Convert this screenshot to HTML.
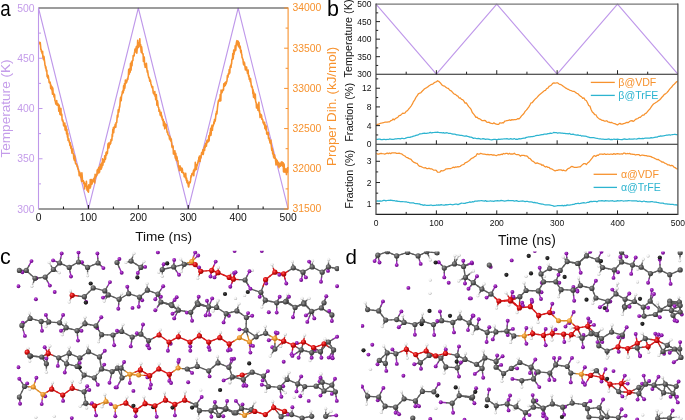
<!DOCTYPE html>
<html><head><meta charset="utf-8"><style>
html,body{margin:0;padding:0;background:#fff;}
svg{display:block;font-family:"Liberation Sans", sans-serif;will-change:transform;}
</style></head><body>
<svg width="685" height="420" viewBox="0 0 685 420">
<rect width="685" height="420" fill="#fff"/>
<defs>
<radialGradient id="gC" cx="0.38" cy="0.35" r="0.7"><stop offset="0" stop-color="#9a9a9a"/><stop offset="0.45" stop-color="#5e5e5e"/><stop offset="1" stop-color="#2e2e2e"/></radialGradient>
<radialGradient id="gR" cx="0.38" cy="0.35" r="0.7"><stop offset="0" stop-color="#ff6060"/><stop offset="0.45" stop-color="#dc1010"/><stop offset="1" stop-color="#8a0000"/></radialGradient>
<radialGradient id="gO" cx="0.38" cy="0.35" r="0.7"><stop offset="0" stop-color="#ffc870"/><stop offset="0.45" stop-color="#ee9a30"/><stop offset="1" stop-color="#b06a10"/></radialGradient>
<radialGradient id="gK" cx="0.38" cy="0.35" r="0.7"><stop offset="0" stop-color="#444"/><stop offset="1" stop-color="#000"/></radialGradient>
<radialGradient id="gF" cx="0.38" cy="0.35" r="0.7"><stop offset="0" stop-color="#c860e6"/><stop offset="0.45" stop-color="#941cb2"/><stop offset="1" stop-color="#5e0878"/></radialGradient>
<radialGradient id="gH" cx="0.38" cy="0.35" r="0.7"><stop offset="0" stop-color="#ffffff"/><stop offset="0.5" stop-color="#f0f0f0"/><stop offset="1" stop-color="#a8a8a8"/></radialGradient>
<clipPath id="clipC"><rect x="16.5" y="250.8" width="322.5" height="170"/></clipPath>
<clipPath id="clipD"><rect x="361" y="251.6" width="324" height="170"/></clipPath>
</defs>
<g clip-path="url(#clipC)">
<g stroke-width="1.4" stroke-linecap="round"><line x1="245.1" y1="280.0" x2="247.8" y2="284.4" stroke="#5c5c5c"/><line x1="247.8" y1="284.4" x2="250.4" y2="288.8" stroke="#9a2ab8"/><line x1="250.4" y1="288.8" x2="255.6" y2="290.6" stroke="#5c5c5c"/><line x1="255.6" y1="290.6" x2="260.9" y2="292.3" stroke="#5c5c5c"/><line x1="19.3" y1="270.4" x2="22.8" y2="270.4" stroke="#5c5c5c"/><line x1="22.8" y1="270.4" x2="26.3" y2="270.4" stroke="#5c5c5c"/><line x1="26.3" y1="270.4" x2="30.6" y2="274.4" stroke="#5c5c5c"/><line x1="30.6" y1="274.4" x2="35.0" y2="278.3" stroke="#5c5c5c"/><line x1="35.0" y1="278.3" x2="40.1" y2="277.7" stroke="#5c5c5c"/><line x1="40.1" y1="277.7" x2="45.2" y2="277.1" stroke="#5c5c5c"/><line x1="45.2" y1="277.1" x2="49.3" y2="273.3" stroke="#5c5c5c"/><line x1="49.3" y1="273.3" x2="53.4" y2="269.5" stroke="#5c5c5c"/><line x1="53.4" y1="269.5" x2="56.5" y2="266.2" stroke="#5c5c5c"/><line x1="56.5" y1="266.2" x2="59.6" y2="263.0" stroke="#5c5c5c"/><line x1="59.6" y1="263.0" x2="64.4" y2="265.2" stroke="#5c5c5c"/><line x1="64.4" y1="265.2" x2="69.2" y2="267.4" stroke="#5c5c5c"/><line x1="69.2" y1="267.4" x2="73.8" y2="264.7" stroke="#5c5c5c"/><line x1="73.8" y1="264.7" x2="78.5" y2="262.0" stroke="#5c5c5c"/><line x1="78.5" y1="262.0" x2="83.0" y2="264.7" stroke="#5c5c5c"/><line x1="83.0" y1="264.7" x2="87.6" y2="267.4" stroke="#5c5c5c"/><line x1="87.6" y1="267.4" x2="92.8" y2="265.2" stroke="#5c5c5c"/><line x1="92.8" y1="265.2" x2="98.1" y2="263.0" stroke="#5c5c5c"/><line x1="72.2" y1="295.3" x2="78.3" y2="296.0" stroke="#d81818"/><line x1="78.3" y1="296.0" x2="84.4" y2="296.7" stroke="#5c5c5c"/><line x1="84.4" y1="296.7" x2="88.8" y2="292.3" stroke="#5c5c5c"/><line x1="88.8" y1="292.3" x2="93.2" y2="287.9" stroke="#5c5c5c"/><line x1="93.2" y1="287.9" x2="99.0" y2="289.4" stroke="#5c5c5c"/><line x1="99.0" y1="289.4" x2="104.8" y2="290.9" stroke="#5c5c5c"/><line x1="104.8" y1="290.9" x2="106.5" y2="292.9" stroke="#5c5c5c"/><line x1="106.5" y1="292.9" x2="108.3" y2="294.9" stroke="#5c5c5c"/><line x1="108.3" y1="294.9" x2="113.7" y2="297.1" stroke="#5c5c5c"/><line x1="113.7" y1="297.1" x2="119.1" y2="299.3" stroke="#5c5c5c"/><line x1="119.1" y1="299.3" x2="123.9" y2="296.5" stroke="#5c5c5c"/><line x1="123.9" y1="296.5" x2="128.7" y2="293.7" stroke="#5c5c5c"/><line x1="131.1" y1="261.1" x2="136.0" y2="264.2" stroke="#5c5c5c"/><line x1="136.0" y1="264.2" x2="140.9" y2="267.4" stroke="#5c5c5c"/><line x1="162.3" y1="269.5" x2="168.0" y2="268.2" stroke="#5c5c5c"/><line x1="168.0" y1="268.2" x2="173.7" y2="266.9" stroke="#5c5c5c"/><line x1="173.7" y1="266.9" x2="178.9" y2="265.6" stroke="#5c5c5c"/><line x1="178.9" y1="265.6" x2="184.2" y2="264.3" stroke="#5c5c5c"/><line x1="184.2" y1="264.3" x2="187.9" y2="263.0" stroke="#5c5c5c"/><line x1="187.9" y1="263.0" x2="191.7" y2="261.6" stroke="#e0902a"/><line x1="184.2" y1="264.3" x2="189.7" y2="264.5" stroke="#5c5c5c"/><line x1="189.7" y1="264.5" x2="195.2" y2="264.6" stroke="#d81818"/><line x1="191.7" y1="261.6" x2="193.4" y2="263.1" stroke="#e0902a"/><line x1="193.4" y1="263.1" x2="195.2" y2="264.6" stroke="#d81818"/><line x1="195.2" y1="264.6" x2="198.0" y2="268.0" stroke="#d81818"/><line x1="198.0" y1="268.0" x2="200.8" y2="271.3" stroke="#d81818"/><line x1="200.8" y1="271.3" x2="206.2" y2="270.9" stroke="#d81818"/><line x1="206.2" y1="270.9" x2="211.7" y2="270.4" stroke="#d81818"/><line x1="211.7" y1="270.4" x2="214.8" y2="271.5" stroke="#d81818"/><line x1="214.8" y1="271.5" x2="218.0" y2="272.7" stroke="#d81818"/><line x1="218.0" y1="272.7" x2="223.6" y2="275.0" stroke="#d81818"/><line x1="223.6" y1="275.0" x2="229.2" y2="277.4" stroke="#d81818"/><line x1="229.2" y1="277.4" x2="231.3" y2="278.3" stroke="#d81818"/><line x1="231.3" y1="278.3" x2="233.4" y2="279.2" stroke="#d81818"/><line x1="233.4" y1="279.2" x2="239.2" y2="279.6" stroke="#d81818"/><line x1="239.2" y1="279.6" x2="245.1" y2="280.0" stroke="#5c5c5c"/><line x1="128.7" y1="293.7" x2="134.1" y2="295.4" stroke="#5c5c5c"/><line x1="134.1" y1="295.4" x2="139.5" y2="297.2" stroke="#5c5c5c"/><line x1="139.5" y1="297.2" x2="143.4" y2="293.7" stroke="#5c5c5c"/><line x1="143.4" y1="293.7" x2="147.4" y2="290.2" stroke="#5c5c5c"/><line x1="147.4" y1="290.2" x2="152.7" y2="292.1" stroke="#5c5c5c"/><line x1="152.7" y1="292.1" x2="157.9" y2="294.1" stroke="#5c5c5c"/><line x1="157.9" y1="294.1" x2="159.4" y2="298.1" stroke="#5c5c5c"/><line x1="159.4" y1="298.1" x2="160.9" y2="302.0" stroke="#5c5c5c"/><line x1="160.9" y1="302.0" x2="166.0" y2="303.3" stroke="#5c5c5c"/><line x1="166.0" y1="303.3" x2="171.1" y2="304.6" stroke="#5c5c5c"/><line x1="160.9" y1="302.0" x2="166.4" y2="303.8" stroke="#5c5c5c"/><line x1="166.4" y1="303.8" x2="171.9" y2="305.6" stroke="#5c5c5c"/><line x1="171.1" y1="304.6" x2="174.8" y2="307.4" stroke="#5c5c5c"/><line x1="174.8" y1="307.4" x2="178.4" y2="310.2" stroke="#5c5c5c"/><line x1="197.3" y1="302.8" x2="194.0" y2="307.6" stroke="#5c5c5c"/><line x1="194.0" y1="307.6" x2="190.7" y2="312.3" stroke="#5c5c5c"/><line x1="197.3" y1="302.8" x2="203.0" y2="304.9" stroke="#5c5c5c"/><line x1="203.0" y1="304.9" x2="208.7" y2="307.0" stroke="#5c5c5c"/><line x1="260.9" y1="292.3" x2="263.2" y2="286.0" stroke="#5c5c5c"/><line x1="263.2" y1="286.0" x2="265.6" y2="279.7" stroke="#d81818"/><line x1="260.9" y1="292.3" x2="263.1" y2="296.2" stroke="#5c5c5c"/><line x1="263.1" y1="296.2" x2="265.3" y2="300.2" stroke="#5c5c5c"/><line x1="265.6" y1="279.7" x2="270.2" y2="275.9" stroke="#d81818"/><line x1="270.2" y1="275.9" x2="274.9" y2="272.2" stroke="#d81818"/><line x1="274.9" y1="272.2" x2="279.3" y2="273.0" stroke="#d81818"/><line x1="279.3" y1="273.0" x2="283.7" y2="273.9" stroke="#d81818"/><line x1="283.7" y1="273.9" x2="288.5" y2="270.9" stroke="#d81818"/><line x1="288.5" y1="270.9" x2="293.3" y2="267.8" stroke="#5c5c5c"/><line x1="293.3" y1="267.8" x2="298.1" y2="270.0" stroke="#5c5c5c"/><line x1="298.1" y1="270.0" x2="303.0" y2="272.2" stroke="#5c5c5c"/><line x1="303.0" y1="272.2" x2="307.6" y2="269.5" stroke="#5c5c5c"/><line x1="307.6" y1="269.5" x2="312.2" y2="266.9" stroke="#5c5c5c"/><line x1="312.2" y1="266.9" x2="317.2" y2="269.5" stroke="#5c5c5c"/><line x1="317.2" y1="269.5" x2="322.2" y2="272.2" stroke="#5c5c5c"/><line x1="322.2" y1="272.2" x2="325.3" y2="269.5" stroke="#5c5c5c"/><line x1="325.3" y1="269.5" x2="328.4" y2="266.9" stroke="#5c5c5c"/><line x1="328.4" y1="266.9" x2="332.8" y2="267.8" stroke="#5c5c5c"/><line x1="332.8" y1="267.8" x2="337.1" y2="268.6" stroke="#5c5c5c"/><line x1="265.3" y1="300.2" x2="271.0" y2="301.5" stroke="#5c5c5c"/><line x1="271.0" y1="301.5" x2="276.7" y2="302.8" stroke="#5c5c5c"/><line x1="276.7" y1="302.8" x2="281.5" y2="302.0" stroke="#5c5c5c"/><line x1="281.5" y1="302.0" x2="286.3" y2="301.1" stroke="#5c5c5c"/><line x1="276.7" y1="302.8" x2="281.0" y2="302.3" stroke="#5c5c5c"/><line x1="281.0" y1="302.3" x2="285.4" y2="301.8" stroke="#5c5c5c"/><line x1="286.3" y1="301.1" x2="290.7" y2="304.2" stroke="#5c5c5c"/><line x1="290.7" y1="304.2" x2="295.1" y2="307.4" stroke="#5c5c5c"/><line x1="303.8" y1="302.8" x2="299.5" y2="305.1" stroke="#5c5c5c"/><line x1="299.5" y1="305.1" x2="295.1" y2="307.4" stroke="#5c5c5c"/><line x1="303.8" y1="302.8" x2="307.8" y2="307.1" stroke="#5c5c5c"/><line x1="307.8" y1="307.1" x2="311.7" y2="311.4" stroke="#5c5c5c"/><line x1="324.0" y1="302.8" x2="322.7" y2="305.4" stroke="#5c5c5c"/><line x1="322.7" y1="305.4" x2="321.4" y2="307.9" stroke="#5c5c5c"/><line x1="21.9" y1="325.4" x2="26.0" y2="321.9" stroke="#5c5c5c"/><line x1="26.0" y1="321.9" x2="30.1" y2="318.4" stroke="#5c5c5c"/><line x1="30.1" y1="318.4" x2="35.7" y2="319.9" stroke="#5c5c5c"/><line x1="35.7" y1="319.9" x2="41.2" y2="321.4" stroke="#5c5c5c"/><line x1="41.2" y1="321.4" x2="45.0" y2="321.6" stroke="#5c5c5c"/><line x1="45.0" y1="321.6" x2="48.7" y2="321.9" stroke="#5c5c5c"/><line x1="48.7" y1="321.9" x2="54.2" y2="322.4" stroke="#5c5c5c"/><line x1="54.2" y1="322.4" x2="59.6" y2="322.8" stroke="#5c5c5c"/><line x1="59.6" y1="322.8" x2="62.9" y2="325.2" stroke="#5c5c5c"/><line x1="62.9" y1="325.2" x2="66.2" y2="327.7" stroke="#5c5c5c"/><line x1="66.2" y1="327.7" x2="71.7" y2="329.2" stroke="#5c5c5c"/><line x1="71.7" y1="329.2" x2="77.1" y2="330.7" stroke="#5c5c5c"/><line x1="77.1" y1="330.7" x2="81.0" y2="327.2" stroke="#5c5c5c"/><line x1="81.0" y1="327.2" x2="85.0" y2="323.7" stroke="#5c5c5c"/><line x1="85.0" y1="323.7" x2="90.5" y2="324.8" stroke="#5c5c5c"/><line x1="90.5" y1="324.8" x2="96.0" y2="325.9" stroke="#5c5c5c"/><line x1="96.0" y1="325.9" x2="98.8" y2="330.3" stroke="#5c5c5c"/><line x1="98.8" y1="330.3" x2="101.6" y2="334.7" stroke="#5c5c5c"/><line x1="101.6" y1="334.7" x2="107.3" y2="334.9" stroke="#5c5c5c"/><line x1="107.3" y1="334.9" x2="113.0" y2="335.0" stroke="#5c5c5c"/><line x1="113.0" y1="335.0" x2="117.3" y2="333.2" stroke="#5c5c5c"/><line x1="117.3" y1="333.2" x2="121.7" y2="331.5" stroke="#5c5c5c"/><line x1="27.2" y1="352.2" x2="28.9" y2="354.1" stroke="#d81818"/><line x1="28.9" y1="354.1" x2="30.7" y2="356.0" stroke="#5c5c5c"/><line x1="27.2" y1="352.2" x2="28.5" y2="354.0" stroke="#d81818"/><line x1="28.5" y1="354.0" x2="29.8" y2="355.9" stroke="#5c5c5c"/><line x1="30.7" y1="356.0" x2="36.2" y2="356.5" stroke="#5c5c5c"/><line x1="36.2" y1="356.5" x2="41.7" y2="357.0" stroke="#5c5c5c"/><line x1="41.7" y1="357.0" x2="45.0" y2="355.2" stroke="#5c5c5c"/><line x1="45.0" y1="355.2" x2="48.2" y2="353.4" stroke="#d81818"/><line x1="41.7" y1="357.0" x2="35.8" y2="356.4" stroke="#5c5c5c"/><line x1="35.8" y1="356.4" x2="29.8" y2="355.9" stroke="#5c5c5c"/><line x1="41.7" y1="357.0" x2="44.0" y2="360.4" stroke="#5c5c5c"/><line x1="44.0" y1="360.4" x2="46.4" y2="363.8" stroke="#5c5c5c"/><line x1="48.2" y1="353.4" x2="53.5" y2="355.6" stroke="#d81818"/><line x1="53.5" y1="355.6" x2="58.7" y2="357.8" stroke="#5c5c5c"/><line x1="48.2" y1="353.4" x2="47.3" y2="358.6" stroke="#d81818"/><line x1="47.3" y1="358.6" x2="46.4" y2="363.8" stroke="#5c5c5c"/><line x1="58.7" y1="357.8" x2="64.0" y2="355.6" stroke="#5c5c5c"/><line x1="64.0" y1="355.6" x2="69.2" y2="353.4" stroke="#5c5c5c"/><line x1="58.7" y1="357.8" x2="62.6" y2="360.8" stroke="#5c5c5c"/><line x1="62.6" y1="360.8" x2="66.6" y2="363.8" stroke="#5c5c5c"/><line x1="69.2" y1="353.4" x2="74.5" y2="355.6" stroke="#5c5c5c"/><line x1="74.5" y1="355.6" x2="79.7" y2="357.8" stroke="#5c5c5c"/><line x1="69.2" y1="353.4" x2="67.9" y2="358.6" stroke="#5c5c5c"/><line x1="67.9" y1="358.6" x2="66.6" y2="363.8" stroke="#5c5c5c"/><line x1="79.7" y1="357.8" x2="84.1" y2="354.8" stroke="#5c5c5c"/><line x1="84.1" y1="354.8" x2="88.5" y2="351.7" stroke="#5c5c5c"/><line x1="79.7" y1="357.8" x2="78.4" y2="362.1" stroke="#5c5c5c"/><line x1="78.4" y1="362.1" x2="77.1" y2="366.4" stroke="#5c5c5c"/><line x1="88.5" y1="351.7" x2="94.0" y2="354.3" stroke="#5c5c5c"/><line x1="94.0" y1="354.3" x2="99.5" y2="356.9" stroke="#5c5c5c"/><line x1="99.5" y1="356.9" x2="100.5" y2="362.9" stroke="#5c5c5c"/><line x1="100.5" y1="362.9" x2="101.6" y2="369.0" stroke="#5c5c5c"/><line x1="171.9" y1="305.6" x2="175.2" y2="307.9" stroke="#5c5c5c"/><line x1="175.2" y1="307.9" x2="178.4" y2="310.2" stroke="#5c5c5c"/><line x1="178.4" y1="310.2" x2="184.6" y2="311.2" stroke="#5c5c5c"/><line x1="184.6" y1="311.2" x2="190.7" y2="312.3" stroke="#5c5c5c"/><line x1="190.7" y1="312.3" x2="194.4" y2="308.4" stroke="#5c5c5c"/><line x1="194.4" y1="308.4" x2="198.2" y2="304.4" stroke="#5c5c5c"/><line x1="198.2" y1="304.4" x2="203.4" y2="305.7" stroke="#5c5c5c"/><line x1="203.4" y1="305.7" x2="208.7" y2="307.0" stroke="#5c5c5c"/><line x1="208.7" y1="307.0" x2="212.6" y2="307.2" stroke="#5c5c5c"/><line x1="212.6" y1="307.2" x2="216.6" y2="307.4" stroke="#5c5c5c"/><line x1="216.6" y1="307.4" x2="221.4" y2="310.5" stroke="#5c5c5c"/><line x1="221.4" y1="310.5" x2="226.2" y2="313.7" stroke="#5c5c5c"/><line x1="226.2" y1="313.7" x2="231.6" y2="312.3" stroke="#5c5c5c"/><line x1="231.6" y1="312.3" x2="236.9" y2="310.9" stroke="#5c5c5c"/><line x1="121.7" y1="331.5" x2="126.9" y2="334.3" stroke="#5c5c5c"/><line x1="126.9" y1="334.3" x2="132.2" y2="337.1" stroke="#5c5c5c"/><line x1="132.2" y1="337.1" x2="136.6" y2="335.6" stroke="#5c5c5c"/><line x1="136.6" y1="335.6" x2="140.9" y2="334.2" stroke="#5c5c5c"/><line x1="140.9" y1="334.2" x2="144.8" y2="337.4" stroke="#5c5c5c"/><line x1="144.8" y1="337.4" x2="148.6" y2="340.6" stroke="#5c5c5c"/><line x1="148.6" y1="340.6" x2="153.8" y2="337.8" stroke="#5c5c5c"/><line x1="153.8" y1="337.8" x2="159.1" y2="335.0" stroke="#d81818"/><line x1="159.1" y1="335.0" x2="164.1" y2="338.5" stroke="#d81818"/><line x1="164.1" y1="338.5" x2="169.0" y2="342.0" stroke="#d81818"/><line x1="169.0" y1="342.0" x2="173.7" y2="339.4" stroke="#d81818"/><line x1="173.7" y1="339.4" x2="178.4" y2="336.8" stroke="#d81818"/><line x1="178.4" y1="336.8" x2="184.2" y2="339.4" stroke="#d81818"/><line x1="184.2" y1="339.4" x2="190.0" y2="342.0" stroke="#d81818"/><line x1="190.0" y1="342.0" x2="194.7" y2="338.9" stroke="#d81818"/><line x1="194.7" y1="338.9" x2="199.4" y2="335.9" stroke="#d81818"/><line x1="199.4" y1="335.9" x2="204.1" y2="338.9" stroke="#d81818"/><line x1="204.1" y1="338.9" x2="208.7" y2="342.0" stroke="#d81818"/><line x1="208.7" y1="342.0" x2="214.2" y2="339.9" stroke="#d81818"/><line x1="214.2" y1="339.9" x2="219.8" y2="337.7" stroke="#d81818"/><line x1="219.8" y1="337.7" x2="224.5" y2="340.8" stroke="#d81818"/><line x1="224.5" y1="340.8" x2="229.2" y2="343.8" stroke="#d81818"/><line x1="229.2" y1="343.8" x2="234.3" y2="340.8" stroke="#d81818"/><line x1="234.3" y1="340.8" x2="239.4" y2="337.7" stroke="#e0902a"/><line x1="285.4" y1="301.8" x2="290.2" y2="304.6" stroke="#5c5c5c"/><line x1="290.2" y1="304.6" x2="295.1" y2="307.4" stroke="#5c5c5c"/><line x1="295.1" y1="307.4" x2="299.5" y2="305.6" stroke="#5c5c5c"/><line x1="299.5" y1="305.6" x2="303.8" y2="303.9" stroke="#5c5c5c"/><line x1="303.8" y1="303.9" x2="307.8" y2="307.6" stroke="#5c5c5c"/><line x1="307.8" y1="307.6" x2="311.7" y2="311.4" stroke="#5c5c5c"/><line x1="311.7" y1="311.4" x2="316.5" y2="309.6" stroke="#5c5c5c"/><line x1="316.5" y1="309.6" x2="321.4" y2="307.9" stroke="#5c5c5c"/><line x1="321.4" y1="307.9" x2="326.6" y2="311.4" stroke="#5c5c5c"/><line x1="326.6" y1="311.4" x2="331.9" y2="314.9" stroke="#5c5c5c"/><line x1="236.9" y1="310.9" x2="241.7" y2="314.2" stroke="#5c5c5c"/><line x1="241.7" y1="314.2" x2="246.4" y2="317.5" stroke="#5c5c5c"/><line x1="246.4" y1="317.5" x2="246.2" y2="323.8" stroke="#5c5c5c"/><line x1="246.2" y1="323.8" x2="246.0" y2="330.1" stroke="#5c5c5c"/><line x1="246.0" y1="330.1" x2="242.7" y2="333.9" stroke="#5c5c5c"/><line x1="242.7" y1="333.9" x2="239.4" y2="337.7" stroke="#e0902a"/><line x1="246.0" y1="330.1" x2="247.8" y2="336.1" stroke="#5c5c5c"/><line x1="247.8" y1="336.1" x2="249.5" y2="342.0" stroke="#e0902a"/><line x1="246.0" y1="330.1" x2="251.1" y2="333.5" stroke="#5c5c5c"/><line x1="251.1" y1="333.5" x2="256.2" y2="336.8" stroke="#5c5c5c"/><line x1="239.4" y1="337.7" x2="244.4" y2="339.9" stroke="#e0902a"/><line x1="244.4" y1="339.9" x2="249.5" y2="342.0" stroke="#e0902a"/><line x1="249.5" y1="342.0" x2="252.8" y2="339.4" stroke="#e0902a"/><line x1="252.8" y1="339.4" x2="256.2" y2="336.8" stroke="#5c5c5c"/><line x1="256.2" y1="336.8" x2="260.9" y2="335.1" stroke="#5c5c5c"/><line x1="260.9" y1="335.1" x2="265.6" y2="333.3" stroke="#5c5c5c"/><line x1="265.6" y1="333.3" x2="270.2" y2="335.9" stroke="#5c5c5c"/><line x1="270.2" y1="335.9" x2="274.9" y2="338.5" stroke="#e0902a"/><line x1="274.9" y1="338.5" x2="279.3" y2="339.9" stroke="#e0902a"/><line x1="279.3" y1="339.9" x2="283.7" y2="341.2" stroke="#d81818"/><line x1="274.9" y1="338.5" x2="274.9" y2="343.8" stroke="#e0902a"/><line x1="274.9" y1="343.8" x2="274.9" y2="349.1" stroke="#5c5c5c"/><line x1="283.7" y1="341.2" x2="279.3" y2="345.1" stroke="#d81818"/><line x1="279.3" y1="345.1" x2="274.9" y2="349.1" stroke="#5c5c5c"/><line x1="283.7" y1="341.2" x2="288.5" y2="343.2" stroke="#d81818"/><line x1="288.5" y1="343.2" x2="293.3" y2="345.2" stroke="#d81818"/><line x1="293.3" y1="345.2" x2="298.4" y2="343.6" stroke="#d81818"/><line x1="298.4" y1="343.6" x2="303.5" y2="342.0" stroke="#d81818"/><line x1="293.3" y1="345.2" x2="297.2" y2="347.5" stroke="#d81818"/><line x1="297.2" y1="347.5" x2="301.2" y2="349.9" stroke="#5c5c5c"/><line x1="303.5" y1="342.0" x2="302.4" y2="345.9" stroke="#d81818"/><line x1="302.4" y1="345.9" x2="301.2" y2="349.9" stroke="#5c5c5c"/><line x1="303.5" y1="342.0" x2="308.5" y2="344.9" stroke="#d81818"/><line x1="308.5" y1="344.9" x2="313.5" y2="347.7" stroke="#d81818"/><line x1="301.2" y1="349.9" x2="306.4" y2="351.2" stroke="#5c5c5c"/><line x1="306.4" y1="351.2" x2="311.7" y2="352.6" stroke="#5c5c5c"/><line x1="313.5" y1="347.7" x2="318.8" y2="345.8" stroke="#d81818"/><line x1="318.8" y1="345.8" x2="324.0" y2="343.8" stroke="#d81818"/><line x1="313.5" y1="347.7" x2="317.0" y2="349.7" stroke="#d81818"/><line x1="317.0" y1="349.7" x2="320.5" y2="351.7" stroke="#5c5c5c"/><line x1="313.5" y1="347.7" x2="312.6" y2="350.1" stroke="#d81818"/><line x1="312.6" y1="350.1" x2="311.7" y2="352.6" stroke="#5c5c5c"/><line x1="324.0" y1="343.8" x2="326.2" y2="342.9" stroke="#d81818"/><line x1="326.2" y1="342.9" x2="328.4" y2="342.0" stroke="#5c5c5c"/><line x1="324.0" y1="343.8" x2="328.8" y2="346.9" stroke="#d81818"/><line x1="328.8" y1="346.9" x2="333.6" y2="349.9" stroke="#5c5c5c"/><line x1="324.0" y1="343.8" x2="322.2" y2="347.8" stroke="#d81818"/><line x1="322.2" y1="347.8" x2="320.5" y2="351.7" stroke="#5c5c5c"/><line x1="328.4" y1="342.0" x2="331.0" y2="345.9" stroke="#5c5c5c"/><line x1="331.0" y1="345.9" x2="333.6" y2="349.9" stroke="#5c5c5c"/><line x1="328.4" y1="342.0" x2="324.4" y2="346.9" stroke="#5c5c5c"/><line x1="324.4" y1="346.9" x2="320.5" y2="351.7" stroke="#5c5c5c"/><line x1="320.5" y1="351.7" x2="316.1" y2="352.1" stroke="#5c5c5c"/><line x1="316.1" y1="352.1" x2="311.7" y2="352.6" stroke="#5c5c5c"/><line x1="66.6" y1="363.8" x2="71.8" y2="365.1" stroke="#5c5c5c"/><line x1="71.8" y1="365.1" x2="77.1" y2="366.4" stroke="#5c5c5c"/><line x1="77.1" y1="366.4" x2="80.6" y2="370.8" stroke="#5c5c5c"/><line x1="80.6" y1="370.8" x2="84.1" y2="375.1" stroke="#5c5c5c"/><line x1="84.1" y1="375.1" x2="89.2" y2="376.5" stroke="#5c5c5c"/><line x1="89.2" y1="376.5" x2="94.3" y2="377.8" stroke="#5c5c5c"/><line x1="94.3" y1="377.8" x2="97.9" y2="373.4" stroke="#5c5c5c"/><line x1="97.9" y1="373.4" x2="101.6" y2="369.0" stroke="#5c5c5c"/><line x1="101.6" y1="369.0" x2="106.8" y2="370.3" stroke="#5c5c5c"/><line x1="106.8" y1="370.3" x2="112.1" y2="371.6" stroke="#5c5c5c"/><line x1="112.1" y1="371.6" x2="114.8" y2="369.9" stroke="#5c5c5c"/><line x1="114.8" y1="369.9" x2="117.4" y2="368.1" stroke="#5c5c5c"/><line x1="112.1" y1="371.6" x2="116.6" y2="369.9" stroke="#5c5c5c"/><line x1="116.6" y1="369.9" x2="121.1" y2="368.1" stroke="#5c5c5c"/><line x1="117.4" y1="368.1" x2="119.7" y2="373.0" stroke="#5c5c5c"/><line x1="119.7" y1="373.0" x2="122.0" y2="377.8" stroke="#5c5c5c"/><line x1="24.5" y1="386.5" x2="28.9" y2="386.8" stroke="#5c5c5c"/><line x1="28.9" y1="386.8" x2="33.3" y2="387.1" stroke="#e0902a"/><line x1="24.5" y1="386.5" x2="21.9" y2="391.8" stroke="#5c5c5c"/><line x1="21.9" y1="391.8" x2="19.3" y2="397.0" stroke="#5c5c5c"/><line x1="33.3" y1="387.1" x2="38.1" y2="390.8" stroke="#e0902a"/><line x1="38.1" y1="390.8" x2="42.9" y2="394.4" stroke="#e0902a"/><line x1="42.9" y1="394.4" x2="47.3" y2="391.8" stroke="#e0902a"/><line x1="47.3" y1="391.8" x2="51.7" y2="389.2" stroke="#d81818"/><line x1="51.7" y1="389.2" x2="57.2" y2="392.1" stroke="#d81818"/><line x1="57.2" y1="392.1" x2="62.7" y2="395.0" stroke="#d81818"/><line x1="62.7" y1="395.0" x2="67.5" y2="391.6" stroke="#d81818"/><line x1="67.5" y1="391.6" x2="72.2" y2="388.3" stroke="#d81818"/><line x1="72.2" y1="388.3" x2="78.2" y2="390.1" stroke="#d81818"/><line x1="78.2" y1="390.1" x2="84.1" y2="391.8" stroke="#5c5c5c"/><line x1="84.1" y1="391.8" x2="84.9" y2="397.5" stroke="#5c5c5c"/><line x1="84.9" y1="397.5" x2="85.8" y2="403.2" stroke="#5c5c5c"/><line x1="85.8" y1="403.2" x2="90.2" y2="404.5" stroke="#5c5c5c"/><line x1="90.2" y1="404.5" x2="94.6" y2="405.8" stroke="#d81818"/><line x1="94.6" y1="405.8" x2="100.3" y2="403.6" stroke="#d81818"/><line x1="100.3" y1="403.6" x2="106.0" y2="401.4" stroke="#e0902a"/><line x1="106.0" y1="401.4" x2="110.7" y2="404.0" stroke="#e0902a"/><line x1="110.7" y1="404.0" x2="115.3" y2="406.7" stroke="#e0902a"/><line x1="115.3" y1="406.7" x2="120.6" y2="404.9" stroke="#e0902a"/><line x1="120.6" y1="404.9" x2="125.9" y2="403.2" stroke="#d81818"/><line x1="121.1" y1="368.1" x2="121.5" y2="373.0" stroke="#5c5c5c"/><line x1="121.5" y1="373.0" x2="122.0" y2="377.8" stroke="#5c5c5c"/><line x1="121.1" y1="368.1" x2="125.5" y2="371.2" stroke="#5c5c5c"/><line x1="125.5" y1="371.2" x2="129.9" y2="374.3" stroke="#e0902a"/><line x1="122.0" y1="377.8" x2="126.0" y2="376.1" stroke="#5c5c5c"/><line x1="126.0" y1="376.1" x2="129.9" y2="374.3" stroke="#e0902a"/><line x1="129.9" y1="374.3" x2="134.3" y2="374.7" stroke="#e0902a"/><line x1="134.3" y1="374.7" x2="138.7" y2="375.1" stroke="#e0902a"/><line x1="129.9" y1="374.3" x2="135.2" y2="372.1" stroke="#e0902a"/><line x1="135.2" y1="372.1" x2="140.4" y2="369.9" stroke="#d81818"/><line x1="138.7" y1="375.1" x2="139.6" y2="372.5" stroke="#e0902a"/><line x1="139.6" y1="372.5" x2="140.4" y2="369.9" stroke="#d81818"/><line x1="138.7" y1="375.1" x2="144.2" y2="375.4" stroke="#e0902a"/><line x1="144.2" y1="375.4" x2="149.7" y2="375.7" stroke="#d81818"/><line x1="140.4" y1="369.9" x2="145.1" y2="372.8" stroke="#d81818"/><line x1="145.1" y1="372.8" x2="149.7" y2="375.7" stroke="#d81818"/><line x1="149.7" y1="375.7" x2="154.2" y2="372.4" stroke="#d81818"/><line x1="154.2" y1="372.4" x2="158.8" y2="369.0" stroke="#d81818"/><line x1="158.8" y1="369.0" x2="164.1" y2="371.6" stroke="#d81818"/><line x1="164.1" y1="371.6" x2="169.3" y2="374.3" stroke="#d81818"/><line x1="169.3" y1="374.3" x2="173.7" y2="371.2" stroke="#d81818"/><line x1="173.7" y1="371.2" x2="178.1" y2="368.1" stroke="#e0902a"/><line x1="178.1" y1="368.1" x2="182.6" y2="368.6" stroke="#e0902a"/><line x1="182.6" y1="368.6" x2="187.2" y2="369.0" stroke="#5c5c5c"/><line x1="187.2" y1="369.0" x2="192.2" y2="367.7" stroke="#5c5c5c"/><line x1="192.2" y1="367.7" x2="197.3" y2="366.4" stroke="#5c5c5c"/><line x1="197.3" y1="366.4" x2="203.0" y2="368.6" stroke="#5c5c5c"/><line x1="203.0" y1="368.6" x2="208.7" y2="370.8" stroke="#5c5c5c"/><line x1="208.7" y1="370.8" x2="213.3" y2="366.9" stroke="#5c5c5c"/><line x1="213.3" y1="366.9" x2="218.0" y2="362.9" stroke="#5c5c5c"/><line x1="218.0" y1="362.9" x2="223.4" y2="365.1" stroke="#5c5c5c"/><line x1="223.4" y1="365.1" x2="228.9" y2="367.3" stroke="#5c5c5c"/><line x1="228.9" y1="367.3" x2="230.7" y2="372.1" stroke="#5c5c5c"/><line x1="230.7" y1="372.1" x2="232.4" y2="376.9" stroke="#5c5c5c"/><line x1="232.4" y1="376.9" x2="237.3" y2="376.0" stroke="#5c5c5c"/><line x1="237.3" y1="376.0" x2="242.2" y2="375.1" stroke="#d81818"/><line x1="232.4" y1="376.9" x2="237.9" y2="378.2" stroke="#5c5c5c"/><line x1="237.9" y1="378.2" x2="243.4" y2="379.5" stroke="#5c5c5c"/><line x1="125.9" y1="403.2" x2="130.8" y2="406.7" stroke="#d81818"/><line x1="130.8" y1="406.7" x2="135.7" y2="410.2" stroke="#d81818"/><line x1="135.7" y1="410.2" x2="140.4" y2="406.9" stroke="#d81818"/><line x1="140.4" y1="406.9" x2="145.1" y2="403.7" stroke="#d81818"/><line x1="145.1" y1="403.7" x2="150.1" y2="404.8" stroke="#d81818"/><line x1="150.1" y1="404.8" x2="155.0" y2="405.8" stroke="#d81818"/><line x1="155.0" y1="405.8" x2="160.2" y2="403.0" stroke="#d81818"/><line x1="160.2" y1="403.0" x2="165.5" y2="400.2" stroke="#d81818"/><line x1="165.5" y1="400.2" x2="170.2" y2="402.3" stroke="#d81818"/><line x1="170.2" y1="402.3" x2="174.9" y2="404.4" stroke="#d81818"/><line x1="174.9" y1="404.4" x2="179.8" y2="402.3" stroke="#d81818"/><line x1="179.8" y1="402.3" x2="184.7" y2="400.2" stroke="#d81818"/><line x1="184.7" y1="400.2" x2="190.3" y2="402.5" stroke="#d81818"/><line x1="190.3" y1="402.5" x2="195.9" y2="404.9" stroke="#5c5c5c"/><line x1="195.9" y1="404.9" x2="197.7" y2="407.8" stroke="#5c5c5c"/><line x1="197.7" y1="407.8" x2="199.4" y2="410.7" stroke="#5c5c5c"/><line x1="199.4" y1="410.7" x2="205.2" y2="410.7" stroke="#5c5c5c"/><line x1="205.2" y1="410.7" x2="211.0" y2="410.7" stroke="#5c5c5c"/><line x1="211.0" y1="410.7" x2="213.1" y2="408.9" stroke="#5c5c5c"/><line x1="213.1" y1="408.9" x2="215.2" y2="407.2" stroke="#5c5c5c"/><line x1="211.0" y1="410.7" x2="214.8" y2="413.0" stroke="#5c5c5c"/><line x1="214.8" y1="413.0" x2="218.7" y2="415.4" stroke="#5c5c5c"/><line x1="215.2" y1="407.2" x2="216.9" y2="411.3" stroke="#5c5c5c"/><line x1="216.9" y1="411.3" x2="218.7" y2="415.4" stroke="#5c5c5c"/><line x1="215.2" y1="407.2" x2="220.3" y2="408.2" stroke="#5c5c5c"/><line x1="220.3" y1="408.2" x2="225.4" y2="409.3" stroke="#5c5c5c"/><line x1="215.2" y1="407.2" x2="220.6" y2="407.8" stroke="#5c5c5c"/><line x1="220.6" y1="407.8" x2="225.9" y2="408.4" stroke="#5c5c5c"/><line x1="218.7" y1="415.4" x2="222.1" y2="412.4" stroke="#5c5c5c"/><line x1="222.1" y1="412.4" x2="225.4" y2="409.3" stroke="#5c5c5c"/><line x1="218.7" y1="415.4" x2="222.3" y2="411.9" stroke="#5c5c5c"/><line x1="222.3" y1="411.9" x2="225.9" y2="408.4" stroke="#5c5c5c"/><line x1="225.4" y1="409.3" x2="229.8" y2="411.1" stroke="#5c5c5c"/><line x1="229.8" y1="411.1" x2="234.1" y2="412.8" stroke="#5c5c5c"/><line x1="234.1" y1="412.8" x2="230.0" y2="410.6" stroke="#5c5c5c"/><line x1="230.0" y1="410.6" x2="225.9" y2="408.4" stroke="#5c5c5c"/><line x1="234.1" y1="412.8" x2="237.8" y2="410.6" stroke="#5c5c5c"/><line x1="237.8" y1="410.6" x2="241.6" y2="408.4" stroke="#5c5c5c"/><line x1="242.2" y1="375.1" x2="242.8" y2="377.3" stroke="#d81818"/><line x1="242.8" y1="377.3" x2="243.4" y2="379.5" stroke="#5c5c5c"/><line x1="242.2" y1="375.1" x2="247.2" y2="373.6" stroke="#d81818"/><line x1="247.2" y1="373.6" x2="252.2" y2="372.2" stroke="#5c5c5c"/><line x1="243.4" y1="379.5" x2="247.8" y2="375.9" stroke="#5c5c5c"/><line x1="247.8" y1="375.9" x2="252.2" y2="372.2" stroke="#5c5c5c"/><line x1="252.2" y1="372.2" x2="257.9" y2="374.1" stroke="#5c5c5c"/><line x1="257.9" y1="374.1" x2="263.5" y2="376.0" stroke="#5c5c5c"/><line x1="263.5" y1="376.0" x2="265.9" y2="381.2" stroke="#5c5c5c"/><line x1="265.9" y1="381.2" x2="268.4" y2="386.5" stroke="#5c5c5c"/><line x1="268.4" y1="386.5" x2="274.0" y2="386.9" stroke="#5c5c5c"/><line x1="274.0" y1="386.9" x2="279.7" y2="387.4" stroke="#5c5c5c"/><line x1="279.7" y1="387.4" x2="283.4" y2="383.4" stroke="#5c5c5c"/><line x1="283.4" y1="383.4" x2="287.2" y2="379.5" stroke="#5c5c5c"/><line x1="287.2" y1="379.5" x2="292.4" y2="381.7" stroke="#5c5c5c"/><line x1="292.4" y1="381.7" x2="297.7" y2="383.9" stroke="#5c5c5c"/><line x1="297.7" y1="383.9" x2="301.2" y2="385.2" stroke="#5c5c5c"/><line x1="301.2" y1="385.2" x2="304.7" y2="386.5" stroke="#5c5c5c"/><line x1="304.7" y1="386.5" x2="310.4" y2="386.4" stroke="#5c5c5c"/><line x1="310.4" y1="386.4" x2="316.1" y2="386.2" stroke="#5c5c5c"/><line x1="316.1" y1="386.2" x2="319.1" y2="384.2" stroke="#5c5c5c"/><line x1="319.1" y1="384.2" x2="322.2" y2="382.2" stroke="#5c5c5c"/><line x1="316.1" y1="386.2" x2="320.1" y2="388.5" stroke="#5c5c5c"/><line x1="320.1" y1="388.5" x2="324.0" y2="390.9" stroke="#5c5c5c"/><line x1="322.2" y1="382.2" x2="323.1" y2="386.5" stroke="#5c5c5c"/><line x1="323.1" y1="386.5" x2="324.0" y2="390.9" stroke="#5c5c5c"/><line x1="322.2" y1="382.2" x2="327.0" y2="383.6" stroke="#5c5c5c"/><line x1="327.0" y1="383.6" x2="331.9" y2="385.1" stroke="#5c5c5c"/><line x1="324.0" y1="390.9" x2="327.9" y2="388.0" stroke="#5c5c5c"/><line x1="327.9" y1="388.0" x2="331.9" y2="385.1" stroke="#5c5c5c"/><line x1="324.0" y1="390.9" x2="329.7" y2="391.4" stroke="#5c5c5c"/><line x1="329.7" y1="391.4" x2="335.4" y2="391.8" stroke="#5c5c5c"/><line x1="331.9" y1="385.1" x2="333.6" y2="388.5" stroke="#5c5c5c"/><line x1="333.6" y1="388.5" x2="335.4" y2="391.8" stroke="#5c5c5c"/><line x1="225.9" y1="408.4" x2="230.9" y2="410.6" stroke="#5c5c5c"/><line x1="230.9" y1="410.6" x2="235.9" y2="412.8" stroke="#5c5c5c"/><line x1="235.9" y1="412.8" x2="238.8" y2="410.6" stroke="#5c5c5c"/><line x1="238.8" y1="410.6" x2="241.6" y2="408.4" stroke="#5c5c5c"/><line x1="235.9" y1="412.8" x2="240.2" y2="414.1" stroke="#5c5c5c"/><line x1="240.2" y1="414.1" x2="244.6" y2="415.4" stroke="#e0902a"/><line x1="241.6" y1="408.4" x2="243.1" y2="411.9" stroke="#5c5c5c"/><line x1="243.1" y1="411.9" x2="244.6" y2="415.4" stroke="#e0902a"/><line x1="241.6" y1="408.4" x2="246.4" y2="409.0" stroke="#5c5c5c"/><line x1="246.4" y1="409.0" x2="251.3" y2="409.7" stroke="#5c5c5c"/><line x1="244.6" y1="415.4" x2="247.9" y2="412.5" stroke="#e0902a"/><line x1="247.9" y1="412.5" x2="251.3" y2="409.7" stroke="#5c5c5c"/><line x1="244.6" y1="415.4" x2="249.7" y2="413.4" stroke="#e0902a"/><line x1="249.7" y1="413.4" x2="254.8" y2="411.4" stroke="#d81818"/><line x1="254.8" y1="411.4" x2="260.1" y2="413.0" stroke="#d81818"/><line x1="260.1" y1="413.0" x2="265.3" y2="414.6" stroke="#d81818"/><line x1="265.3" y1="414.6" x2="269.5" y2="411.1" stroke="#d81818"/><line x1="269.5" y1="411.1" x2="273.7" y2="407.6" stroke="#d81818"/><line x1="273.7" y1="407.6" x2="279.1" y2="409.5" stroke="#d81818"/><line x1="279.1" y1="409.5" x2="284.6" y2="411.4" stroke="#d81818"/><line x1="273.7" y1="407.6" x2="277.4" y2="412.1" stroke="#d81818"/><line x1="277.4" y1="412.1" x2="281.1" y2="416.7" stroke="#5c5c5c"/><line x1="284.6" y1="411.4" x2="282.9" y2="414.0" stroke="#d81818"/><line x1="282.9" y1="414.0" x2="281.1" y2="416.7" stroke="#5c5c5c"/><line x1="284.6" y1="411.4" x2="288.1" y2="413.0" stroke="#d81818"/><line x1="288.1" y1="413.0" x2="291.6" y2="414.6" stroke="#5c5c5c"/><line x1="281.1" y1="416.7" x2="286.4" y2="415.6" stroke="#5c5c5c"/><line x1="286.4" y1="415.6" x2="291.6" y2="414.6" stroke="#5c5c5c"/><line x1="291.6" y1="414.6" x2="296.9" y2="416.4" stroke="#5c5c5c"/><line x1="296.9" y1="416.4" x2="302.1" y2="418.1" stroke="#5c5c5c"/><line x1="302.1" y1="418.1" x2="306.9" y2="417.2" stroke="#5c5c5c"/><line x1="306.9" y1="417.2" x2="311.7" y2="416.3" stroke="#5c5c5c"/><line x1="31.5" y1="261.1" x2="28.9" y2="265.8" stroke="#9a2ab8"/><line x1="28.9" y1="265.8" x2="26.3" y2="270.4" stroke="#5c5c5c"/><line x1="22.4" y1="272.2" x2="20.9" y2="271.3" stroke="#9a2ab8"/><line x1="20.9" y1="271.3" x2="19.3" y2="270.4" stroke="#5c5c5c"/><line x1="36.4" y1="278.3" x2="35.7" y2="278.3" stroke="#9a2ab8"/><line x1="35.7" y1="278.3" x2="35.0" y2="278.3" stroke="#5c5c5c"/><line x1="49.9" y1="285.6" x2="47.5" y2="281.4" stroke="#9a2ab8"/><line x1="47.5" y1="281.4" x2="45.2" y2="277.1" stroke="#5c5c5c"/><line x1="53.1" y1="260.4" x2="56.4" y2="261.7" stroke="#9a2ab8"/><line x1="56.4" y1="261.7" x2="59.6" y2="263.0" stroke="#5c5c5c"/><line x1="61.7" y1="253.4" x2="60.7" y2="258.2" stroke="#9a2ab8"/><line x1="60.7" y1="258.2" x2="59.6" y2="263.0" stroke="#5c5c5c"/><line x1="71.0" y1="276.5" x2="70.1" y2="271.9" stroke="#9a2ab8"/><line x1="70.1" y1="271.9" x2="69.2" y2="267.4" stroke="#5c5c5c"/><line x1="78.5" y1="252.4" x2="78.5" y2="257.2" stroke="#9a2ab8"/><line x1="78.5" y1="257.2" x2="78.5" y2="262.0" stroke="#5c5c5c"/><line x1="82.0" y1="262.2" x2="80.2" y2="262.1" stroke="#9a2ab8"/><line x1="80.2" y1="262.1" x2="78.5" y2="262.0" stroke="#5c5c5c"/><line x1="97.4" y1="253.4" x2="97.8" y2="258.2" stroke="#9a2ab8"/><line x1="97.8" y1="258.2" x2="98.1" y2="263.0" stroke="#5c5c5c"/><line x1="103.4" y1="268.1" x2="100.8" y2="265.6" stroke="#9a2ab8"/><line x1="100.8" y1="265.6" x2="98.1" y2="263.0" stroke="#5c5c5c"/><line x1="31.9" y1="286.2" x2="33.5" y2="282.2" stroke="#bdbdbd"/><line x1="33.5" y1="282.2" x2="35.0" y2="278.3" stroke="#5c5c5c"/><line x1="49.1" y1="262.5" x2="51.2" y2="266.0" stroke="#bdbdbd"/><line x1="51.2" y1="266.0" x2="53.4" y2="269.5" stroke="#5c5c5c"/><line x1="59.2" y1="272.7" x2="56.3" y2="271.1" stroke="#bdbdbd"/><line x1="56.3" y1="271.1" x2="53.4" y2="269.5" stroke="#5c5c5c"/><line x1="87.6" y1="275.7" x2="87.6" y2="271.5" stroke="#bdbdbd"/><line x1="87.6" y1="271.5" x2="87.6" y2="267.4" stroke="#5c5c5c"/><line x1="70.4" y1="290.9" x2="71.3" y2="293.1" stroke="#bdbdbd"/><line x1="71.3" y1="293.1" x2="72.2" y2="295.3" stroke="#d81818"/><line x1="69.2" y1="302.0" x2="70.7" y2="298.6" stroke="#bdbdbd"/><line x1="70.7" y1="298.6" x2="72.2" y2="295.3" stroke="#d81818"/><line x1="104.2" y1="301.1" x2="106.2" y2="298.0" stroke="#bdbdbd"/><line x1="106.2" y1="298.0" x2="108.3" y2="294.9" stroke="#5c5c5c"/><line x1="86.2" y1="302.0" x2="85.3" y2="299.4" stroke="#9a2ab8"/><line x1="85.3" y1="299.4" x2="84.4" y2="296.7" stroke="#5c5c5c"/><line x1="110.0" y1="282.1" x2="107.4" y2="286.5" stroke="#9a2ab8"/><line x1="107.4" y1="286.5" x2="104.8" y2="290.9" stroke="#5c5c5c"/><line x1="103.0" y1="297.6" x2="105.7" y2="296.2" stroke="#9a2ab8"/><line x1="105.7" y1="296.2" x2="108.3" y2="294.9" stroke="#5c5c5c"/><line x1="119.4" y1="259.0" x2="118.2" y2="260.8" stroke="#9a2ab8"/><line x1="118.2" y1="260.8" x2="117.0" y2="262.5" stroke="#5c5c5c"/><line x1="121.7" y1="272.7" x2="119.3" y2="267.6" stroke="#9a2ab8"/><line x1="119.3" y1="267.6" x2="117.0" y2="262.5" stroke="#5c5c5c"/><line x1="133.9" y1="253.4" x2="132.5" y2="257.2" stroke="#bdbdbd"/><line x1="132.5" y1="257.2" x2="131.1" y2="261.1" stroke="#5c5c5c"/><line x1="125.9" y1="262.5" x2="128.5" y2="261.8" stroke="#bdbdbd"/><line x1="128.5" y1="261.8" x2="131.1" y2="261.1" stroke="#5c5c5c"/><line x1="143.9" y1="261.6" x2="142.4" y2="264.5" stroke="#bdbdbd"/><line x1="142.4" y1="264.5" x2="140.9" y2="267.4" stroke="#5c5c5c"/><line x1="145.1" y1="266.9" x2="143.0" y2="267.1" stroke="#9a2ab8"/><line x1="143.0" y1="267.1" x2="140.9" y2="267.4" stroke="#5c5c5c"/><line x1="137.8" y1="273.0" x2="139.4" y2="270.2" stroke="#9a2ab8"/><line x1="139.4" y1="270.2" x2="140.9" y2="267.4" stroke="#5c5c5c"/><line x1="158.8" y1="272.2" x2="160.6" y2="270.9" stroke="#bdbdbd"/><line x1="160.6" y1="270.9" x2="162.3" y2="269.5" stroke="#5c5c5c"/><line x1="162.3" y1="276.2" x2="162.3" y2="272.9" stroke="#bdbdbd"/><line x1="162.3" y1="272.9" x2="162.3" y2="269.5" stroke="#5c5c5c"/><line x1="163.7" y1="264.3" x2="163.0" y2="266.9" stroke="#9a2ab8"/><line x1="163.0" y1="266.9" x2="162.3" y2="269.5" stroke="#5c5c5c"/><line x1="174.2" y1="259.9" x2="173.9" y2="263.4" stroke="#9a2ab8"/><line x1="173.9" y1="263.4" x2="173.7" y2="266.9" stroke="#5c5c5c"/><line x1="179.0" y1="274.8" x2="176.3" y2="270.9" stroke="#9a2ab8"/><line x1="176.3" y1="270.9" x2="173.7" y2="266.9" stroke="#5c5c5c"/><line x1="180.7" y1="259.0" x2="182.4" y2="261.6" stroke="#bdbdbd"/><line x1="182.4" y1="261.6" x2="184.2" y2="264.3" stroke="#5c5c5c"/><line x1="181.2" y1="271.6" x2="182.7" y2="268.0" stroke="#bdbdbd"/><line x1="182.7" y1="268.0" x2="184.2" y2="264.3" stroke="#5c5c5c"/><line x1="195.2" y1="252.4" x2="193.4" y2="257.0" stroke="#9a2ab8"/><line x1="193.4" y1="257.0" x2="191.7" y2="261.6" stroke="#e0902a"/><line x1="198.2" y1="255.5" x2="194.9" y2="258.6" stroke="#9a2ab8"/><line x1="194.9" y1="258.6" x2="191.7" y2="261.6" stroke="#e0902a"/><line x1="199.1" y1="267.4" x2="199.9" y2="269.4" stroke="#9a2ab8"/><line x1="199.9" y1="269.4" x2="200.8" y2="271.3" stroke="#d81818"/><line x1="197.7" y1="278.3" x2="199.2" y2="274.8" stroke="#bdbdbd"/><line x1="199.2" y1="274.8" x2="200.8" y2="271.3" stroke="#d81818"/><line x1="215.7" y1="261.6" x2="213.7" y2="266.0" stroke="#9a2ab8"/><line x1="213.7" y1="266.0" x2="211.7" y2="270.4" stroke="#d81818"/><line x1="218.4" y1="267.4" x2="218.2" y2="270.0" stroke="#bdbdbd"/><line x1="218.2" y1="270.0" x2="218.0" y2="272.7" stroke="#d81818"/><line x1="210.5" y1="276.5" x2="211.1" y2="273.4" stroke="#9a2ab8"/><line x1="211.1" y1="273.4" x2="211.7" y2="270.4" stroke="#d81818"/><line x1="214.5" y1="277.4" x2="216.2" y2="275.0" stroke="#9a2ab8"/><line x1="216.2" y1="275.0" x2="218.0" y2="272.7" stroke="#d81818"/><line x1="230.3" y1="286.7" x2="231.9" y2="282.9" stroke="#9a2ab8"/><line x1="231.9" y1="282.9" x2="233.4" y2="279.2" stroke="#d81818"/><line x1="234.1" y1="273.0" x2="233.8" y2="276.1" stroke="#9a2ab8"/><line x1="233.8" y1="276.1" x2="233.4" y2="279.2" stroke="#d81818"/><line x1="121.7" y1="293.7" x2="120.4" y2="296.5" stroke="#bdbdbd"/><line x1="120.4" y1="296.5" x2="119.1" y2="299.3" stroke="#5c5c5c"/><line x1="127.3" y1="286.7" x2="128.0" y2="290.2" stroke="#9a2ab8"/><line x1="128.0" y1="290.2" x2="128.7" y2="293.7" stroke="#5c5c5c"/><line x1="142.2" y1="300.2" x2="140.8" y2="298.7" stroke="#9a2ab8"/><line x1="140.8" y1="298.7" x2="139.5" y2="297.2" stroke="#5c5c5c"/><line x1="147.1" y1="283.5" x2="147.2" y2="286.9" stroke="#bdbdbd"/><line x1="147.2" y1="286.9" x2="147.4" y2="290.2" stroke="#5c5c5c"/><line x1="163.2" y1="286.2" x2="160.6" y2="290.1" stroke="#9a2ab8"/><line x1="160.6" y1="290.1" x2="157.9" y2="294.1" stroke="#5c5c5c"/><line x1="155.3" y1="299.3" x2="156.6" y2="296.7" stroke="#9a2ab8"/><line x1="156.6" y1="296.7" x2="157.9" y2="294.1" stroke="#5c5c5c"/><line x1="160.9" y1="296.7" x2="159.4" y2="295.4" stroke="#9a2ab8"/><line x1="159.4" y1="295.4" x2="157.9" y2="294.1" stroke="#5c5c5c"/><line x1="176.7" y1="297.2" x2="173.9" y2="300.9" stroke="#9a2ab8"/><line x1="173.9" y1="300.9" x2="171.1" y2="304.6" stroke="#5c5c5c"/><line x1="198.7" y1="296.7" x2="198.0" y2="299.8" stroke="#9a2ab8"/><line x1="198.0" y1="299.8" x2="197.3" y2="302.8" stroke="#5c5c5c"/><line x1="207.0" y1="300.7" x2="207.8" y2="303.9" stroke="#9a2ab8"/><line x1="207.8" y1="303.9" x2="208.7" y2="307.0" stroke="#5c5c5c"/><line x1="212.2" y1="298.4" x2="210.4" y2="302.7" stroke="#9a2ab8"/><line x1="210.4" y1="302.7" x2="208.7" y2="307.0" stroke="#5c5c5c"/><line x1="218.4" y1="300.2" x2="217.5" y2="303.8" stroke="#bdbdbd"/><line x1="217.5" y1="303.8" x2="216.6" y2="307.4" stroke="#5c5c5c"/><line x1="235.5" y1="272.2" x2="234.4" y2="275.7" stroke="#9a2ab8"/><line x1="234.4" y1="275.7" x2="233.4" y2="279.2" stroke="#d81818"/><line x1="232.0" y1="272.2" x2="230.6" y2="274.8" stroke="#bdbdbd"/><line x1="230.6" y1="274.8" x2="229.2" y2="277.4" stroke="#d81818"/><line x1="249.5" y1="271.3" x2="247.3" y2="275.6" stroke="#9a2ab8"/><line x1="247.3" y1="275.6" x2="245.1" y2="280.0" stroke="#5c5c5c"/><line x1="250.4" y1="288.8" x2="247.8" y2="284.4" stroke="#9a2ab8"/><line x1="247.8" y1="284.4" x2="245.1" y2="280.0" stroke="#5c5c5c"/><line x1="259.7" y1="296.7" x2="260.3" y2="294.5" stroke="#9a2ab8"/><line x1="260.3" y1="294.5" x2="260.9" y2="292.3" stroke="#5c5c5c"/><line x1="266.2" y1="283.5" x2="265.9" y2="281.6" stroke="#9a2ab8"/><line x1="265.9" y1="281.6" x2="265.6" y2="279.7" stroke="#d81818"/><line x1="272.0" y1="264.6" x2="273.4" y2="268.4" stroke="#bdbdbd"/><line x1="273.4" y1="268.4" x2="274.9" y2="272.2" stroke="#d81818"/><line x1="279.3" y1="274.8" x2="281.5" y2="274.4" stroke="#9a2ab8"/><line x1="281.5" y1="274.4" x2="283.7" y2="273.9" stroke="#d81818"/><line x1="286.3" y1="283.5" x2="285.0" y2="278.7" stroke="#9a2ab8"/><line x1="285.0" y1="278.7" x2="283.7" y2="273.9" stroke="#d81818"/><line x1="292.4" y1="261.6" x2="292.9" y2="264.7" stroke="#bdbdbd"/><line x1="292.9" y1="264.7" x2="293.3" y2="267.8" stroke="#5c5c5c"/><line x1="301.2" y1="280.0" x2="302.1" y2="276.1" stroke="#9a2ab8"/><line x1="302.1" y1="276.1" x2="303.0" y2="272.2" stroke="#5c5c5c"/><line x1="305.9" y1="277.4" x2="304.4" y2="274.8" stroke="#9a2ab8"/><line x1="304.4" y1="274.8" x2="303.0" y2="272.2" stroke="#5c5c5c"/><line x1="309.1" y1="261.6" x2="310.6" y2="264.2" stroke="#9a2ab8"/><line x1="310.6" y1="264.2" x2="312.2" y2="266.9" stroke="#5c5c5c"/><line x1="312.6" y1="260.8" x2="312.4" y2="263.9" stroke="#bdbdbd"/><line x1="312.4" y1="263.9" x2="312.2" y2="266.9" stroke="#5c5c5c"/><line x1="321.0" y1="281.8" x2="321.6" y2="277.0" stroke="#9a2ab8"/><line x1="321.6" y1="277.0" x2="322.2" y2="272.2" stroke="#5c5c5c"/><line x1="328.7" y1="259.4" x2="328.5" y2="263.1" stroke="#bdbdbd"/><line x1="328.5" y1="263.1" x2="328.4" y2="266.9" stroke="#5c5c5c"/><line x1="328.0" y1="270.9" x2="328.2" y2="268.9" stroke="#9a2ab8"/><line x1="328.2" y1="268.9" x2="328.4" y2="266.9" stroke="#5c5c5c"/><line x1="279.7" y1="296.7" x2="278.2" y2="299.8" stroke="#9a2ab8"/><line x1="278.2" y1="299.8" x2="276.7" y2="302.8" stroke="#5c5c5c"/><line x1="289.0" y1="296.7" x2="287.6" y2="298.9" stroke="#9a2ab8"/><line x1="287.6" y1="298.9" x2="286.3" y2="301.1" stroke="#5c5c5c"/><line x1="287.7" y1="294.0" x2="287.0" y2="297.6" stroke="#bdbdbd"/><line x1="287.0" y1="297.6" x2="286.3" y2="301.1" stroke="#5c5c5c"/><line x1="302.1" y1="298.4" x2="303.0" y2="300.6" stroke="#bdbdbd"/><line x1="303.0" y1="300.6" x2="303.8" y2="302.8" stroke="#5c5c5c"/><line x1="309.1" y1="298.4" x2="306.5" y2="300.6" stroke="#bdbdbd"/><line x1="306.5" y1="300.6" x2="303.8" y2="302.8" stroke="#5c5c5c"/><line x1="326.3" y1="296.2" x2="325.1" y2="299.5" stroke="#9a2ab8"/><line x1="325.1" y1="299.5" x2="324.0" y2="302.8" stroke="#5c5c5c"/><line x1="239.0" y1="303.7" x2="237.9" y2="307.3" stroke="#bdbdbd"/><line x1="237.9" y1="307.3" x2="236.9" y2="310.9" stroke="#5c5c5c"/><line x1="22.8" y1="322.8" x2="22.4" y2="324.1" stroke="#9a2ab8"/><line x1="22.4" y1="324.1" x2="21.9" y2="325.4" stroke="#5c5c5c"/><line x1="24.9" y1="335.9" x2="23.4" y2="330.6" stroke="#9a2ab8"/><line x1="23.4" y1="330.6" x2="21.9" y2="325.4" stroke="#5c5c5c"/><line x1="29.4" y1="313.1" x2="29.8" y2="315.8" stroke="#bdbdbd"/><line x1="29.8" y1="315.8" x2="30.1" y2="318.4" stroke="#5c5c5c"/><line x1="45.9" y1="314.9" x2="47.3" y2="318.4" stroke="#9a2ab8"/><line x1="47.3" y1="318.4" x2="48.7" y2="321.9" stroke="#5c5c5c"/><line x1="42.0" y1="330.7" x2="41.6" y2="326.0" stroke="#9a2ab8"/><line x1="41.6" y1="326.0" x2="41.2" y2="321.4" stroke="#5c5c5c"/><line x1="45.9" y1="326.6" x2="47.3" y2="324.2" stroke="#bdbdbd"/><line x1="47.3" y1="324.2" x2="48.7" y2="321.9" stroke="#5c5c5c"/><line x1="63.1" y1="314.9" x2="61.4" y2="318.9" stroke="#9a2ab8"/><line x1="61.4" y1="318.9" x2="59.6" y2="322.8" stroke="#5c5c5c"/><line x1="61.0" y1="330.7" x2="63.6" y2="329.2" stroke="#9a2ab8"/><line x1="63.6" y1="329.2" x2="66.2" y2="327.7" stroke="#5c5c5c"/><line x1="65.7" y1="322.4" x2="66.0" y2="325.0" stroke="#bdbdbd"/><line x1="66.0" y1="325.0" x2="66.2" y2="327.7" stroke="#5c5c5c"/><line x1="62.2" y1="334.7" x2="64.2" y2="331.2" stroke="#bdbdbd"/><line x1="64.2" y1="331.2" x2="66.2" y2="327.7" stroke="#5c5c5c"/><line x1="78.0" y1="340.6" x2="77.5" y2="335.6" stroke="#9a2ab8"/><line x1="77.5" y1="335.6" x2="77.1" y2="330.7" stroke="#5c5c5c"/><line x1="81.5" y1="330.7" x2="79.3" y2="330.7" stroke="#9a2ab8"/><line x1="79.3" y1="330.7" x2="77.1" y2="330.7" stroke="#5c5c5c"/><line x1="85.0" y1="317.2" x2="85.0" y2="320.4" stroke="#bdbdbd"/><line x1="85.0" y1="320.4" x2="85.0" y2="323.7" stroke="#5c5c5c"/><line x1="81.5" y1="322.8" x2="83.2" y2="323.2" stroke="#bdbdbd"/><line x1="83.2" y1="323.2" x2="85.0" y2="323.7" stroke="#5c5c5c"/><line x1="101.3" y1="317.2" x2="98.7" y2="321.5" stroke="#9a2ab8"/><line x1="98.7" y1="321.5" x2="96.0" y2="325.9" stroke="#5c5c5c"/><line x1="97.2" y1="328.0" x2="96.6" y2="326.9" stroke="#9a2ab8"/><line x1="96.6" y1="326.9" x2="96.0" y2="325.9" stroke="#5c5c5c"/><line x1="98.5" y1="341.7" x2="100.0" y2="338.2" stroke="#bdbdbd"/><line x1="100.0" y1="338.2" x2="101.6" y2="334.7" stroke="#5c5c5c"/><line x1="117.0" y1="330.7" x2="119.3" y2="331.1" stroke="#9a2ab8"/><line x1="119.3" y1="331.1" x2="121.7" y2="331.5" stroke="#5c5c5c"/><line x1="114.2" y1="345.2" x2="113.6" y2="340.1" stroke="#9a2ab8"/><line x1="113.6" y1="340.1" x2="113.0" y2="335.0" stroke="#5c5c5c"/><line x1="118.3" y1="308.8" x2="118.7" y2="304.1" stroke="#9a2ab8"/><line x1="118.7" y1="304.1" x2="119.1" y2="299.3" stroke="#5c5c5c"/><line x1="28.0" y1="348.2" x2="27.6" y2="350.2" stroke="#bdbdbd"/><line x1="27.6" y1="350.2" x2="27.2" y2="352.2" stroke="#d81818"/><line x1="44.7" y1="347.3" x2="46.5" y2="350.4" stroke="#9a2ab8"/><line x1="46.5" y1="350.4" x2="48.2" y2="353.4" stroke="#d81818"/><line x1="49.9" y1="345.9" x2="49.0" y2="349.6" stroke="#bdbdbd"/><line x1="49.0" y1="349.6" x2="48.2" y2="353.4" stroke="#d81818"/><line x1="69.2" y1="347.3" x2="69.2" y2="350.4" stroke="#bdbdbd"/><line x1="69.2" y1="350.4" x2="69.2" y2="353.4" stroke="#5c5c5c"/><line x1="87.6" y1="345.9" x2="88.0" y2="348.8" stroke="#bdbdbd"/><line x1="88.0" y1="348.8" x2="88.5" y2="351.7" stroke="#5c5c5c"/><line x1="104.8" y1="350.8" x2="102.2" y2="353.9" stroke="#9a2ab8"/><line x1="102.2" y1="353.9" x2="99.5" y2="356.9" stroke="#5c5c5c"/><line x1="138.7" y1="306.7" x2="139.1" y2="301.9" stroke="#9a2ab8"/><line x1="139.1" y1="301.9" x2="139.5" y2="297.2" stroke="#5c5c5c"/><line x1="174.6" y1="300.0" x2="172.8" y2="302.3" stroke="#9a2ab8"/><line x1="172.8" y1="302.3" x2="171.1" y2="304.6" stroke="#5c5c5c"/><line x1="172.5" y1="313.7" x2="175.4" y2="311.9" stroke="#9a2ab8"/><line x1="175.4" y1="311.9" x2="178.4" y2="310.2" stroke="#5c5c5c"/><line x1="177.7" y1="305.3" x2="178.1" y2="307.8" stroke="#bdbdbd"/><line x1="178.1" y1="307.8" x2="178.4" y2="310.2" stroke="#5c5c5c"/><line x1="174.2" y1="318.4" x2="176.3" y2="314.3" stroke="#9a2ab8"/><line x1="176.3" y1="314.3" x2="178.4" y2="310.2" stroke="#5c5c5c"/><line x1="156.2" y1="308.8" x2="158.6" y2="305.4" stroke="#bdbdbd"/><line x1="158.6" y1="305.4" x2="160.9" y2="302.0" stroke="#5c5c5c"/><line x1="155.3" y1="310.2" x2="158.1" y2="306.1" stroke="#9a2ab8"/><line x1="158.1" y1="306.1" x2="160.9" y2="302.0" stroke="#5c5c5c"/><line x1="186.8" y1="312.6" x2="188.8" y2="312.5" stroke="#9a2ab8"/><line x1="188.8" y1="312.5" x2="190.7" y2="312.3" stroke="#5c5c5c"/><line x1="192.1" y1="320.7" x2="191.4" y2="316.5" stroke="#9a2ab8"/><line x1="191.4" y1="316.5" x2="190.7" y2="312.3" stroke="#5c5c5c"/><line x1="195.6" y1="301.8" x2="196.4" y2="302.3" stroke="#bdbdbd"/><line x1="196.4" y1="302.3" x2="197.3" y2="302.8" stroke="#5c5c5c"/><line x1="205.7" y1="315.4" x2="207.2" y2="311.2" stroke="#9a2ab8"/><line x1="207.2" y1="311.2" x2="208.7" y2="307.0" stroke="#5c5c5c"/><line x1="209.6" y1="314.9" x2="209.1" y2="310.9" stroke="#9a2ab8"/><line x1="209.1" y1="310.9" x2="208.7" y2="307.0" stroke="#5c5c5c"/><line x1="213.1" y1="310.9" x2="214.8" y2="309.1" stroke="#bdbdbd"/><line x1="214.8" y1="309.1" x2="216.6" y2="307.4" stroke="#5c5c5c"/><line x1="217.5" y1="300.9" x2="217.1" y2="304.1" stroke="#bdbdbd"/><line x1="217.1" y1="304.1" x2="216.6" y2="307.4" stroke="#5c5c5c"/><line x1="223.6" y1="322.4" x2="224.9" y2="318.0" stroke="#9a2ab8"/><line x1="224.9" y1="318.0" x2="226.2" y2="313.7" stroke="#5c5c5c"/><line x1="228.9" y1="315.8" x2="227.6" y2="314.8" stroke="#9a2ab8"/><line x1="227.6" y1="314.8" x2="226.2" y2="313.7" stroke="#5c5c5c"/><line x1="122.9" y1="324.5" x2="122.3" y2="328.0" stroke="#bdbdbd"/><line x1="122.3" y1="328.0" x2="121.7" y2="331.5" stroke="#5c5c5c"/><line x1="130.8" y1="346.4" x2="131.5" y2="341.8" stroke="#9a2ab8"/><line x1="131.5" y1="341.8" x2="132.2" y2="337.1" stroke="#5c5c5c"/><line x1="136.9" y1="333.3" x2="138.9" y2="333.8" stroke="#9a2ab8"/><line x1="138.9" y1="333.8" x2="140.9" y2="334.2" stroke="#5c5c5c"/><line x1="143.0" y1="324.5" x2="141.9" y2="329.4" stroke="#9a2ab8"/><line x1="141.9" y1="329.4" x2="140.9" y2="334.2" stroke="#5c5c5c"/><line x1="147.4" y1="345.5" x2="148.0" y2="343.1" stroke="#9a2ab8"/><line x1="148.0" y1="343.1" x2="148.6" y2="340.6" stroke="#5c5c5c"/><line x1="149.2" y1="348.2" x2="148.9" y2="344.4" stroke="#9a2ab8"/><line x1="148.9" y1="344.4" x2="148.6" y2="340.6" stroke="#5c5c5c"/><line x1="160.2" y1="329.8" x2="159.6" y2="332.4" stroke="#bdbdbd"/><line x1="159.6" y1="332.4" x2="159.1" y2="335.0" stroke="#d81818"/><line x1="167.9" y1="350.8" x2="168.4" y2="346.4" stroke="#9a2ab8"/><line x1="168.4" y1="346.4" x2="169.0" y2="342.0" stroke="#d81818"/><line x1="170.7" y1="343.8" x2="169.8" y2="342.9" stroke="#9a2ab8"/><line x1="169.8" y1="342.9" x2="169.0" y2="342.0" stroke="#d81818"/><line x1="178.9" y1="331.5" x2="178.7" y2="334.1" stroke="#bdbdbd"/><line x1="178.7" y1="334.1" x2="178.4" y2="336.8" stroke="#d81818"/><line x1="190.3" y1="346.4" x2="190.2" y2="344.2" stroke="#9a2ab8"/><line x1="190.2" y1="344.2" x2="190.0" y2="342.0" stroke="#d81818"/><line x1="190.3" y1="350.8" x2="190.2" y2="346.4" stroke="#9a2ab8"/><line x1="190.2" y1="346.4" x2="190.0" y2="342.0" stroke="#d81818"/><line x1="199.1" y1="331.2" x2="199.2" y2="333.5" stroke="#bdbdbd"/><line x1="199.2" y1="333.5" x2="199.4" y2="335.9" stroke="#d81818"/><line x1="208.7" y1="347.3" x2="208.7" y2="344.6" stroke="#9a2ab8"/><line x1="208.7" y1="344.6" x2="208.7" y2="342.0" stroke="#d81818"/><line x1="209.6" y1="349.9" x2="209.1" y2="345.9" stroke="#9a2ab8"/><line x1="209.1" y1="345.9" x2="208.7" y2="342.0" stroke="#d81818"/><line x1="220.5" y1="332.4" x2="220.2" y2="335.0" stroke="#bdbdbd"/><line x1="220.2" y1="335.0" x2="219.8" y2="337.7" stroke="#d81818"/><line x1="228.0" y1="350.5" x2="228.6" y2="347.1" stroke="#9a2ab8"/><line x1="228.6" y1="347.1" x2="229.2" y2="343.8" stroke="#d81818"/><line x1="230.6" y1="349.9" x2="229.9" y2="346.9" stroke="#9a2ab8"/><line x1="229.9" y1="346.9" x2="229.2" y2="343.8" stroke="#d81818"/><line x1="178.9" y1="359.6" x2="178.5" y2="363.9" stroke="#9a2ab8"/><line x1="178.5" y1="363.9" x2="178.1" y2="368.1" stroke="#e0902a"/><line x1="196.5" y1="358.7" x2="196.9" y2="362.5" stroke="#bdbdbd"/><line x1="196.9" y1="362.5" x2="197.3" y2="366.4" stroke="#5c5c5c"/><line x1="217.5" y1="356.4" x2="217.8" y2="359.6" stroke="#bdbdbd"/><line x1="217.8" y1="359.6" x2="218.0" y2="362.9" stroke="#5c5c5c"/><line x1="234.1" y1="358.7" x2="231.5" y2="363.0" stroke="#9a2ab8"/><line x1="231.5" y1="363.0" x2="228.9" y2="367.3" stroke="#5c5c5c"/><line x1="276.7" y1="312.6" x2="276.7" y2="307.7" stroke="#9a2ab8"/><line x1="276.7" y1="307.7" x2="276.7" y2="302.8" stroke="#5c5c5c"/><line x1="261.8" y1="307.0" x2="263.6" y2="303.6" stroke="#bdbdbd"/><line x1="263.6" y1="303.6" x2="265.3" y2="300.2" stroke="#5c5c5c"/><line x1="293.0" y1="317.2" x2="294.1" y2="312.3" stroke="#9a2ab8"/><line x1="294.1" y1="312.3" x2="295.1" y2="307.4" stroke="#5c5c5c"/><line x1="305.9" y1="315.4" x2="308.8" y2="313.4" stroke="#9a2ab8"/><line x1="308.8" y1="313.4" x2="311.7" y2="311.4" stroke="#5c5c5c"/><line x1="307.3" y1="321.9" x2="309.5" y2="316.6" stroke="#9a2ab8"/><line x1="309.5" y1="316.6" x2="311.7" y2="311.4" stroke="#5c5c5c"/><line x1="314.3" y1="318.4" x2="313.0" y2="314.9" stroke="#9a2ab8"/><line x1="313.0" y1="314.9" x2="311.7" y2="311.4" stroke="#5c5c5c"/><line x1="324.9" y1="302.6" x2="324.4" y2="302.7" stroke="#bdbdbd"/><line x1="324.4" y1="302.7" x2="324.0" y2="302.8" stroke="#5c5c5c"/><line x1="329.2" y1="310.9" x2="330.5" y2="312.9" stroke="#9a2ab8"/><line x1="330.5" y1="312.9" x2="331.9" y2="314.9" stroke="#5c5c5c"/><line x1="331.9" y1="321.0" x2="331.9" y2="317.9" stroke="#9a2ab8"/><line x1="331.9" y1="317.9" x2="331.9" y2="314.9" stroke="#5c5c5c"/><line x1="248.1" y1="313.1" x2="247.2" y2="315.3" stroke="#9a2ab8"/><line x1="247.2" y1="315.3" x2="246.4" y2="317.5" stroke="#5c5c5c"/><line x1="252.2" y1="315.8" x2="249.3" y2="316.6" stroke="#9a2ab8"/><line x1="249.3" y1="316.6" x2="246.4" y2="317.5" stroke="#5c5c5c"/><line x1="239.4" y1="329.4" x2="242.7" y2="329.8" stroke="#9a2ab8"/><line x1="242.7" y1="329.8" x2="246.0" y2="330.1" stroke="#5c5c5c"/><line x1="250.9" y1="345.2" x2="250.2" y2="343.6" stroke="#9a2ab8"/><line x1="250.2" y1="343.6" x2="249.5" y2="342.0" stroke="#e0902a"/><line x1="253.0" y1="345.9" x2="251.2" y2="343.9" stroke="#9a2ab8"/><line x1="251.2" y1="343.9" x2="249.5" y2="342.0" stroke="#e0902a"/><line x1="250.4" y1="352.6" x2="249.9" y2="347.3" stroke="#9a2ab8"/><line x1="249.9" y1="347.3" x2="249.5" y2="342.0" stroke="#e0902a"/><line x1="257.9" y1="331.5" x2="257.0" y2="334.1" stroke="#bdbdbd"/><line x1="257.0" y1="334.1" x2="256.2" y2="336.8" stroke="#5c5c5c"/><line x1="265.3" y1="326.3" x2="265.5" y2="329.8" stroke="#bdbdbd"/><line x1="265.5" y1="329.8" x2="265.6" y2="333.3" stroke="#5c5c5c"/><line x1="268.8" y1="340.3" x2="271.9" y2="339.4" stroke="#9a2ab8"/><line x1="271.9" y1="339.4" x2="274.9" y2="338.5" stroke="#e0902a"/><line x1="275.8" y1="332.4" x2="275.4" y2="335.4" stroke="#9a2ab8"/><line x1="275.4" y1="335.4" x2="274.9" y2="338.5" stroke="#e0902a"/><line x1="277.6" y1="333.0" x2="276.2" y2="335.8" stroke="#9a2ab8"/><line x1="276.2" y1="335.8" x2="274.9" y2="338.5" stroke="#e0902a"/><line x1="272.3" y1="347.3" x2="273.6" y2="348.2" stroke="#9a2ab8"/><line x1="273.6" y1="348.2" x2="274.9" y2="349.1" stroke="#5c5c5c"/><line x1="285.4" y1="334.2" x2="284.5" y2="337.7" stroke="#bdbdbd"/><line x1="284.5" y1="337.7" x2="283.7" y2="341.2" stroke="#d81818"/><line x1="280.7" y1="346.4" x2="282.2" y2="343.8" stroke="#bdbdbd"/><line x1="282.2" y1="343.8" x2="283.7" y2="341.2" stroke="#d81818"/><line x1="270.2" y1="356.1" x2="272.5" y2="352.6" stroke="#bdbdbd"/><line x1="272.5" y1="352.6" x2="274.9" y2="349.1" stroke="#5c5c5c"/><line x1="296.8" y1="342.9" x2="295.1" y2="344.0" stroke="#9a2ab8"/><line x1="295.1" y1="344.0" x2="293.3" y2="345.2" stroke="#d81818"/><line x1="291.6" y1="354.3" x2="292.5" y2="349.8" stroke="#9a2ab8"/><line x1="292.5" y1="349.8" x2="293.3" y2="345.2" stroke="#d81818"/><line x1="304.7" y1="335.0" x2="304.1" y2="338.5" stroke="#bdbdbd"/><line x1="304.1" y1="338.5" x2="303.5" y2="342.0" stroke="#d81818"/><line x1="298.6" y1="357.8" x2="299.9" y2="353.9" stroke="#9a2ab8"/><line x1="299.9" y1="353.9" x2="301.2" y2="349.9" stroke="#5c5c5c"/><line x1="314.7" y1="349.9" x2="314.1" y2="348.8" stroke="#9a2ab8"/><line x1="314.1" y1="348.8" x2="313.5" y2="347.7" stroke="#d81818"/><line x1="324.9" y1="338.9" x2="326.6" y2="340.4" stroke="#bdbdbd"/><line x1="326.6" y1="340.4" x2="328.4" y2="342.0" stroke="#5c5c5c"/><line x1="337.1" y1="336.8" x2="332.8" y2="339.4" stroke="#9a2ab8"/><line x1="332.8" y1="339.4" x2="328.4" y2="342.0" stroke="#5c5c5c"/><line x1="321.4" y1="357.8" x2="320.9" y2="354.8" stroke="#9a2ab8"/><line x1="320.9" y1="354.8" x2="320.5" y2="351.7" stroke="#5c5c5c"/><line x1="331.9" y1="357.8" x2="332.8" y2="353.9" stroke="#9a2ab8"/><line x1="332.8" y1="353.9" x2="333.6" y2="349.9" stroke="#5c5c5c"/><line x1="311.7" y1="357.8" x2="311.7" y2="355.2" stroke="#9a2ab8"/><line x1="311.7" y1="355.2" x2="311.7" y2="352.6" stroke="#5c5c5c"/><line x1="29.8" y1="361.1" x2="30.2" y2="358.6" stroke="#bdbdbd"/><line x1="30.2" y1="358.6" x2="30.7" y2="356.0" stroke="#5c5c5c"/><line x1="46.4" y1="358.5" x2="44.0" y2="357.8" stroke="#9a2ab8"/><line x1="44.0" y1="357.8" x2="41.7" y2="357.0" stroke="#5c5c5c"/><line x1="46.4" y1="372.2" x2="46.4" y2="368.0" stroke="#bdbdbd"/><line x1="46.4" y1="368.0" x2="46.4" y2="363.8" stroke="#5c5c5c"/><line x1="57.8" y1="365.9" x2="58.2" y2="361.9" stroke="#9a2ab8"/><line x1="58.2" y1="361.9" x2="58.7" y2="357.8" stroke="#5c5c5c"/><line x1="64.8" y1="372.5" x2="65.7" y2="368.1" stroke="#9a2ab8"/><line x1="65.7" y1="368.1" x2="66.6" y2="363.8" stroke="#5c5c5c"/><line x1="66.6" y1="358.5" x2="66.6" y2="361.1" stroke="#bdbdbd"/><line x1="66.6" y1="361.1" x2="66.6" y2="363.8" stroke="#5c5c5c"/><line x1="80.6" y1="358.5" x2="80.2" y2="358.1" stroke="#9a2ab8"/><line x1="80.2" y1="358.1" x2="79.7" y2="357.8" stroke="#5c5c5c"/><line x1="79.7" y1="362.9" x2="78.4" y2="364.6" stroke="#9a2ab8"/><line x1="78.4" y1="364.6" x2="77.1" y2="366.4" stroke="#5c5c5c"/><line x1="85.5" y1="372.5" x2="84.8" y2="373.8" stroke="#bdbdbd"/><line x1="84.8" y1="373.8" x2="84.1" y2="375.1" stroke="#5c5c5c"/><line x1="80.2" y1="382.2" x2="82.2" y2="378.6" stroke="#bdbdbd"/><line x1="82.2" y1="378.6" x2="84.1" y2="375.1" stroke="#5c5c5c"/><line x1="97.8" y1="384.8" x2="96.0" y2="381.3" stroke="#9a2ab8"/><line x1="96.0" y1="381.3" x2="94.3" y2="377.8" stroke="#5c5c5c"/><line x1="104.2" y1="364.6" x2="102.9" y2="366.8" stroke="#9a2ab8"/><line x1="102.9" y1="366.8" x2="101.6" y2="369.0" stroke="#5c5c5c"/><line x1="97.2" y1="372.5" x2="99.4" y2="370.8" stroke="#bdbdbd"/><line x1="99.4" y1="370.8" x2="101.6" y2="369.0" stroke="#5c5c5c"/><line x1="109.5" y1="382.7" x2="110.8" y2="377.1" stroke="#9a2ab8"/><line x1="110.8" y1="377.1" x2="112.1" y2="371.6" stroke="#5c5c5c"/><line x1="19.3" y1="378.7" x2="21.9" y2="382.6" stroke="#9a2ab8"/><line x1="21.9" y1="382.6" x2="24.5" y2="386.5" stroke="#5c5c5c"/><line x1="27.2" y1="383.4" x2="25.9" y2="384.9" stroke="#9a2ab8"/><line x1="25.9" y1="384.9" x2="24.5" y2="386.5" stroke="#5c5c5c"/><line x1="36.4" y1="377.8" x2="34.8" y2="382.5" stroke="#9a2ab8"/><line x1="34.8" y1="382.5" x2="33.3" y2="387.1" stroke="#e0902a"/><line x1="29.8" y1="389.2" x2="31.5" y2="388.1" stroke="#bdbdbd"/><line x1="31.5" y1="388.1" x2="33.3" y2="387.1" stroke="#e0902a"/><line x1="45.2" y1="396.2" x2="44.0" y2="395.3" stroke="#9a2ab8"/><line x1="44.0" y1="395.3" x2="42.9" y2="394.4" stroke="#e0902a"/><line x1="41.7" y1="404.1" x2="42.3" y2="399.2" stroke="#9a2ab8"/><line x1="42.3" y1="399.2" x2="42.9" y2="394.4" stroke="#e0902a"/><line x1="20.1" y1="403.7" x2="19.7" y2="400.4" stroke="#9a2ab8"/><line x1="19.7" y1="400.4" x2="19.3" y2="397.0" stroke="#5c5c5c"/><line x1="52.6" y1="382.7" x2="52.2" y2="385.9" stroke="#bdbdbd"/><line x1="52.2" y1="385.9" x2="51.7" y2="389.2" stroke="#d81818"/><line x1="63.1" y1="400.9" x2="62.9" y2="397.9" stroke="#9a2ab8"/><line x1="62.9" y1="397.9" x2="62.7" y2="395.0" stroke="#d81818"/><line x1="72.2" y1="381.3" x2="72.2" y2="384.8" stroke="#bdbdbd"/><line x1="72.2" y1="384.8" x2="72.2" y2="388.3" stroke="#d81818"/><line x1="87.2" y1="386.2" x2="85.7" y2="389.0" stroke="#9a2ab8"/><line x1="85.7" y1="389.0" x2="84.1" y2="391.8" stroke="#5c5c5c"/><line x1="89.3" y1="390.0" x2="86.7" y2="390.9" stroke="#9a2ab8"/><line x1="86.7" y1="390.9" x2="84.1" y2="391.8" stroke="#5c5c5c"/><line x1="80.2" y1="406.2" x2="83.0" y2="404.7" stroke="#bdbdbd"/><line x1="83.0" y1="404.7" x2="85.8" y2="403.2" stroke="#5c5c5c"/><line x1="86.7" y1="407.9" x2="86.2" y2="405.5" stroke="#bdbdbd"/><line x1="86.2" y1="405.5" x2="85.8" y2="403.2" stroke="#5c5c5c"/><line x1="92.0" y1="403.2" x2="93.3" y2="404.5" stroke="#9a2ab8"/><line x1="93.3" y1="404.5" x2="94.6" y2="405.8" stroke="#d81818"/><line x1="96.0" y1="415.4" x2="95.3" y2="410.6" stroke="#9a2ab8"/><line x1="95.3" y1="410.6" x2="94.6" y2="405.8" stroke="#d81818"/><line x1="102.0" y1="406.7" x2="104.0" y2="404.0" stroke="#bdbdbd"/><line x1="104.0" y1="404.0" x2="106.0" y2="401.4" stroke="#e0902a"/><line x1="104.8" y1="394.4" x2="105.4" y2="397.9" stroke="#bdbdbd"/><line x1="105.4" y1="397.9" x2="106.0" y2="401.4" stroke="#e0902a"/><line x1="110.7" y1="404.1" x2="113.0" y2="405.4" stroke="#9a2ab8"/><line x1="113.0" y1="405.4" x2="115.3" y2="406.7" stroke="#e0902a"/><line x1="115.3" y1="416.3" x2="115.3" y2="411.5" stroke="#9a2ab8"/><line x1="115.3" y1="411.5" x2="115.3" y2="406.7" stroke="#e0902a"/><line x1="117.6" y1="364.6" x2="117.5" y2="366.4" stroke="#bdbdbd"/><line x1="117.5" y1="366.4" x2="117.4" y2="368.1" stroke="#5c5c5c"/><line x1="124.1" y1="362.0" x2="122.6" y2="365.1" stroke="#9a2ab8"/><line x1="122.6" y1="365.1" x2="121.1" y2="368.1" stroke="#5c5c5c"/><line x1="116.8" y1="387.4" x2="119.4" y2="382.6" stroke="#9a2ab8"/><line x1="119.4" y1="382.6" x2="122.0" y2="377.8" stroke="#5c5c5c"/><line x1="129.9" y1="383.0" x2="129.9" y2="378.6" stroke="#9a2ab8"/><line x1="129.9" y1="378.6" x2="129.9" y2="374.3" stroke="#e0902a"/><line x1="140.9" y1="363.4" x2="140.7" y2="366.6" stroke="#bdbdbd"/><line x1="140.7" y1="366.6" x2="140.4" y2="369.9" stroke="#d81818"/><line x1="147.4" y1="377.4" x2="148.6" y2="376.5" stroke="#9a2ab8"/><line x1="148.6" y1="376.5" x2="149.7" y2="375.7" stroke="#d81818"/><line x1="150.9" y1="384.8" x2="150.3" y2="380.2" stroke="#9a2ab8"/><line x1="150.3" y1="380.2" x2="149.7" y2="375.7" stroke="#d81818"/><line x1="159.1" y1="363.8" x2="158.9" y2="366.4" stroke="#bdbdbd"/><line x1="158.9" y1="366.4" x2="158.8" y2="369.0" stroke="#d81818"/><line x1="169.3" y1="380.9" x2="169.3" y2="377.6" stroke="#9a2ab8"/><line x1="169.3" y1="377.6" x2="169.3" y2="374.3" stroke="#d81818"/><line x1="171.1" y1="383.0" x2="170.2" y2="378.6" stroke="#9a2ab8"/><line x1="170.2" y1="378.6" x2="169.3" y2="374.3" stroke="#d81818"/><line x1="176.3" y1="365.9" x2="177.2" y2="367.0" stroke="#bdbdbd"/><line x1="177.2" y1="367.0" x2="178.1" y2="368.1" stroke="#e0902a"/><line x1="178.4" y1="361.7" x2="178.2" y2="364.9" stroke="#9a2ab8"/><line x1="178.2" y1="364.9" x2="178.1" y2="368.1" stroke="#e0902a"/><line x1="192.1" y1="372.9" x2="189.6" y2="370.9" stroke="#9a2ab8"/><line x1="189.6" y1="370.9" x2="187.2" y2="369.0" stroke="#5c5c5c"/><line x1="209.6" y1="376.4" x2="209.1" y2="373.6" stroke="#9a2ab8"/><line x1="209.1" y1="373.6" x2="208.7" y2="370.8" stroke="#5c5c5c"/><line x1="231.5" y1="358.9" x2="230.2" y2="363.1" stroke="#9a2ab8"/><line x1="230.2" y1="363.1" x2="228.9" y2="367.3" stroke="#5c5c5c"/><line x1="223.6" y1="380.4" x2="228.0" y2="378.6" stroke="#9a2ab8"/><line x1="228.0" y1="378.6" x2="232.4" y2="376.9" stroke="#5c5c5c"/><line x1="229.8" y1="383.0" x2="231.1" y2="379.9" stroke="#bdbdbd"/><line x1="231.1" y1="379.9" x2="232.4" y2="376.9" stroke="#5c5c5c"/><line x1="126.9" y1="397.0" x2="126.4" y2="400.1" stroke="#bdbdbd"/><line x1="126.4" y1="400.1" x2="125.9" y2="403.2" stroke="#d81818"/><line x1="135.7" y1="416.3" x2="135.7" y2="413.2" stroke="#9a2ab8"/><line x1="135.7" y1="413.2" x2="135.7" y2="410.2" stroke="#d81818"/><line x1="143.9" y1="396.7" x2="144.5" y2="400.2" stroke="#bdbdbd"/><line x1="144.5" y1="400.2" x2="145.1" y2="403.7" stroke="#d81818"/><line x1="156.7" y1="416.7" x2="155.8" y2="411.2" stroke="#9a2ab8"/><line x1="155.8" y1="411.2" x2="155.0" y2="405.8" stroke="#d81818"/><line x1="164.4" y1="392.7" x2="164.9" y2="396.4" stroke="#bdbdbd"/><line x1="164.9" y1="396.4" x2="165.5" y2="400.2" stroke="#d81818"/><line x1="174.9" y1="415.4" x2="174.9" y2="409.9" stroke="#9a2ab8"/><line x1="174.9" y1="409.9" x2="174.9" y2="404.4" stroke="#d81818"/><line x1="185.1" y1="391.8" x2="184.9" y2="396.0" stroke="#bdbdbd"/><line x1="184.9" y1="396.0" x2="184.7" y2="400.2" stroke="#d81818"/><line x1="201.7" y1="397.0" x2="198.8" y2="400.9" stroke="#9a2ab8"/><line x1="198.8" y1="400.9" x2="195.9" y2="404.9" stroke="#5c5c5c"/><line x1="198.2" y1="418.1" x2="198.8" y2="414.4" stroke="#bdbdbd"/><line x1="198.8" y1="414.4" x2="199.4" y2="410.7" stroke="#5c5c5c"/><line x1="214.9" y1="402.0" x2="215.1" y2="404.6" stroke="#9a2ab8"/><line x1="215.1" y1="404.6" x2="215.2" y2="407.2" stroke="#5c5c5c"/><line x1="211.4" y1="416.7" x2="211.2" y2="413.7" stroke="#9a2ab8"/><line x1="211.2" y1="413.7" x2="211.0" y2="410.7" stroke="#5c5c5c"/><line x1="227.1" y1="400.9" x2="226.5" y2="404.6" stroke="#9a2ab8"/><line x1="226.5" y1="404.6" x2="225.9" y2="408.4" stroke="#5c5c5c"/><line x1="223.3" y1="416.3" x2="221.0" y2="415.9" stroke="#9a2ab8"/><line x1="221.0" y1="415.9" x2="218.7" y2="415.4" stroke="#5c5c5c"/><line x1="292.4" y1="355.9" x2="296.8" y2="352.9" stroke="#9a2ab8"/><line x1="296.8" y1="352.9" x2="301.2" y2="349.9" stroke="#5c5c5c"/><line x1="310.0" y1="360.6" x2="310.9" y2="356.6" stroke="#bdbdbd"/><line x1="310.9" y1="356.6" x2="311.7" y2="352.6" stroke="#5c5c5c"/><line x1="328.7" y1="357.6" x2="331.1" y2="353.8" stroke="#9a2ab8"/><line x1="331.1" y1="353.8" x2="333.6" y2="349.9" stroke="#5c5c5c"/><line x1="332.7" y1="358.2" x2="333.1" y2="354.0" stroke="#9a2ab8"/><line x1="333.1" y1="354.0" x2="333.6" y2="349.9" stroke="#5c5c5c"/><line x1="228.5" y1="366.4" x2="228.7" y2="366.9" stroke="#9a2ab8"/><line x1="228.7" y1="366.9" x2="228.9" y2="367.3" stroke="#5c5c5c"/><line x1="229.9" y1="382.2" x2="231.2" y2="379.5" stroke="#bdbdbd"/><line x1="231.2" y1="379.5" x2="232.4" y2="376.9" stroke="#5c5c5c"/><line x1="243.4" y1="385.7" x2="243.4" y2="382.6" stroke="#9a2ab8"/><line x1="243.4" y1="382.6" x2="243.4" y2="379.5" stroke="#5c5c5c"/><line x1="246.4" y1="385.7" x2="244.9" y2="382.6" stroke="#9a2ab8"/><line x1="244.9" y1="382.6" x2="243.4" y2="379.5" stroke="#5c5c5c"/><line x1="267.9" y1="371.1" x2="265.7" y2="373.6" stroke="#9a2ab8"/><line x1="265.7" y1="373.6" x2="263.5" y2="376.0" stroke="#5c5c5c"/><line x1="262.7" y1="380.4" x2="263.1" y2="378.2" stroke="#9a2ab8"/><line x1="263.1" y1="378.2" x2="263.5" y2="376.0" stroke="#5c5c5c"/><line x1="261.8" y1="384.8" x2="265.1" y2="385.6" stroke="#9a2ab8"/><line x1="265.1" y1="385.6" x2="268.4" y2="386.5" stroke="#5c5c5c"/><line x1="265.6" y1="391.4" x2="267.0" y2="388.9" stroke="#bdbdbd"/><line x1="267.0" y1="388.9" x2="268.4" y2="386.5" stroke="#5c5c5c"/><line x1="283.2" y1="386.2" x2="281.4" y2="386.8" stroke="#9a2ab8"/><line x1="281.4" y1="386.8" x2="279.7" y2="387.4" stroke="#5c5c5c"/><line x1="281.4" y1="396.7" x2="280.5" y2="392.0" stroke="#9a2ab8"/><line x1="280.5" y1="392.0" x2="279.7" y2="387.4" stroke="#5c5c5c"/><line x1="285.4" y1="392.7" x2="282.5" y2="390.0" stroke="#bdbdbd"/><line x1="282.5" y1="390.0" x2="279.7" y2="387.4" stroke="#5c5c5c"/><line x1="289.0" y1="372.5" x2="288.1" y2="376.0" stroke="#bdbdbd"/><line x1="288.1" y1="376.0" x2="287.2" y2="379.5" stroke="#5c5c5c"/><line x1="284.2" y1="376.9" x2="285.7" y2="378.2" stroke="#bdbdbd"/><line x1="285.7" y1="378.2" x2="287.2" y2="379.5" stroke="#5c5c5c"/><line x1="301.2" y1="376.4" x2="299.4" y2="380.1" stroke="#9a2ab8"/><line x1="299.4" y1="380.1" x2="297.7" y2="383.9" stroke="#5c5c5c"/><line x1="296.5" y1="391.4" x2="297.1" y2="387.6" stroke="#9a2ab8"/><line x1="297.1" y1="387.6" x2="297.7" y2="383.9" stroke="#5c5c5c"/><line x1="300.3" y1="396.2" x2="302.5" y2="391.4" stroke="#9a2ab8"/><line x1="302.5" y1="391.4" x2="304.7" y2="386.5" stroke="#5c5c5c"/><line x1="302.1" y1="393.5" x2="303.4" y2="390.0" stroke="#bdbdbd"/><line x1="303.4" y1="390.0" x2="304.7" y2="386.5" stroke="#5c5c5c"/><line x1="321.0" y1="373.9" x2="321.6" y2="378.0" stroke="#bdbdbd"/><line x1="321.6" y1="378.0" x2="322.2" y2="382.2" stroke="#5c5c5c"/><line x1="320.5" y1="377.8" x2="321.4" y2="380.0" stroke="#9a2ab8"/><line x1="321.4" y1="380.0" x2="322.2" y2="382.2" stroke="#5c5c5c"/><line x1="319.6" y1="381.3" x2="320.9" y2="381.8" stroke="#9a2ab8"/><line x1="320.9" y1="381.8" x2="322.2" y2="382.2" stroke="#5c5c5c"/><line x1="320.5" y1="395.6" x2="322.2" y2="393.2" stroke="#9a2ab8"/><line x1="322.2" y1="393.2" x2="324.0" y2="390.9" stroke="#5c5c5c"/><line x1="335.0" y1="378.7" x2="333.4" y2="381.9" stroke="#9a2ab8"/><line x1="333.4" y1="381.9" x2="331.9" y2="385.1" stroke="#5c5c5c"/><line x1="331.9" y1="393.9" x2="333.6" y2="392.9" stroke="#9a2ab8"/><line x1="333.6" y1="392.9" x2="335.4" y2="391.8" stroke="#5c5c5c"/><line x1="336.8" y1="400.9" x2="336.1" y2="396.4" stroke="#9a2ab8"/><line x1="336.1" y1="396.4" x2="335.4" y2="391.8" stroke="#5c5c5c"/><line x1="235.9" y1="400.9" x2="238.8" y2="404.6" stroke="#9a2ab8"/><line x1="238.8" y1="404.6" x2="241.6" y2="408.4" stroke="#5c5c5c"/><line x1="242.5" y1="404.4" x2="242.1" y2="406.4" stroke="#9a2ab8"/><line x1="242.1" y1="406.4" x2="241.6" y2="408.4" stroke="#5c5c5c"/><line x1="254.8" y1="402.0" x2="253.1" y2="405.9" stroke="#bdbdbd"/><line x1="253.1" y1="405.9" x2="251.3" y2="409.7" stroke="#5c5c5c"/><line x1="272.7" y1="401.4" x2="273.2" y2="404.5" stroke="#bdbdbd"/><line x1="273.2" y1="404.5" x2="273.7" y2="407.6" stroke="#d81818"/><line x1="292.4" y1="407.2" x2="292.0" y2="410.9" stroke="#9a2ab8"/><line x1="292.0" y1="410.9" x2="291.6" y2="414.6" stroke="#5c5c5c"/><line x1="288.1" y1="414.6" x2="289.9" y2="414.6" stroke="#9a2ab8"/><line x1="289.9" y1="414.6" x2="291.6" y2="414.6" stroke="#5c5c5c"/><line x1="291.6" y1="409.3" x2="291.6" y2="412.0" stroke="#bdbdbd"/><line x1="291.6" y1="412.0" x2="291.6" y2="414.6" stroke="#5c5c5c"/><line x1="310.8" y1="411.4" x2="311.2" y2="413.9" stroke="#bdbdbd"/><line x1="311.2" y1="413.9" x2="311.7" y2="416.3" stroke="#5c5c5c"/><line x1="325.7" y1="408.4" x2="325.7" y2="412.4" stroke="#bdbdbd"/><line x1="325.7" y1="412.4" x2="325.7" y2="416.3" stroke="#5c5c5c"/><line x1="331.0" y1="411.4" x2="328.4" y2="413.9" stroke="#bdbdbd"/><line x1="328.4" y1="413.9" x2="325.7" y2="416.3" stroke="#5c5c5c"/><line x1="336.2" y1="415.4" x2="330.9" y2="415.9" stroke="#9a2ab8"/><line x1="330.9" y1="415.9" x2="325.7" y2="416.3" stroke="#5c5c5c"/></g>
<circle cx="31.9" cy="286.2" r="1.55" fill="url(#gH)"/>
<circle cx="49.1" cy="262.5" r="1.55" fill="url(#gH)"/>
<circle cx="59.2" cy="272.7" r="1.55" fill="url(#gH)"/>
<circle cx="87.6" cy="275.7" r="1.55" fill="url(#gH)"/>
<circle cx="70.4" cy="290.9" r="1.55" fill="url(#gH)"/>
<circle cx="69.2" cy="302.0" r="1.55" fill="url(#gH)"/>
<circle cx="104.2" cy="301.1" r="1.55" fill="url(#gH)"/>
<circle cx="133.9" cy="253.4" r="1.55" fill="url(#gH)"/>
<circle cx="125.9" cy="262.5" r="1.55" fill="url(#gH)"/>
<circle cx="143.9" cy="261.6" r="1.55" fill="url(#gH)"/>
<circle cx="158.8" cy="272.2" r="1.55" fill="url(#gH)"/>
<circle cx="162.3" cy="276.2" r="1.55" fill="url(#gH)"/>
<circle cx="180.7" cy="259.0" r="1.55" fill="url(#gH)"/>
<circle cx="181.2" cy="271.6" r="1.55" fill="url(#gH)"/>
<circle cx="197.7" cy="278.3" r="1.55" fill="url(#gH)"/>
<circle cx="218.4" cy="267.4" r="1.55" fill="url(#gH)"/>
<circle cx="121.7" cy="293.7" r="1.55" fill="url(#gH)"/>
<circle cx="147.1" cy="283.5" r="1.55" fill="url(#gH)"/>
<circle cx="218.4" cy="300.2" r="1.55" fill="url(#gH)"/>
<circle cx="232.0" cy="272.2" r="1.55" fill="url(#gH)"/>
<circle cx="252.2" cy="270.4" r="1.55" fill="url(#gH)"/>
<circle cx="244.6" cy="295.5" r="1.55" fill="url(#gH)"/>
<circle cx="272.0" cy="264.6" r="1.55" fill="url(#gH)"/>
<circle cx="292.4" cy="261.6" r="1.55" fill="url(#gH)"/>
<circle cx="312.6" cy="260.8" r="1.55" fill="url(#gH)"/>
<circle cx="328.7" cy="259.4" r="1.55" fill="url(#gH)"/>
<circle cx="287.7" cy="294.0" r="1.55" fill="url(#gH)"/>
<circle cx="302.1" cy="298.4" r="1.55" fill="url(#gH)"/>
<circle cx="309.1" cy="298.4" r="1.55" fill="url(#gH)"/>
<circle cx="235.5" cy="298.4" r="1.55" fill="url(#gH)"/>
<circle cx="239.0" cy="303.7" r="1.55" fill="url(#gH)"/>
<circle cx="29.4" cy="313.1" r="1.55" fill="url(#gH)"/>
<circle cx="45.9" cy="326.6" r="1.55" fill="url(#gH)"/>
<circle cx="65.7" cy="322.4" r="1.55" fill="url(#gH)"/>
<circle cx="62.2" cy="334.7" r="1.55" fill="url(#gH)"/>
<circle cx="85.0" cy="317.2" r="1.55" fill="url(#gH)"/>
<circle cx="81.5" cy="322.8" r="1.55" fill="url(#gH)"/>
<circle cx="98.5" cy="341.7" r="1.55" fill="url(#gH)"/>
<circle cx="28.0" cy="348.2" r="1.55" fill="url(#gH)"/>
<circle cx="49.9" cy="345.9" r="1.55" fill="url(#gH)"/>
<circle cx="69.2" cy="347.3" r="1.55" fill="url(#gH)"/>
<circle cx="87.6" cy="345.9" r="1.55" fill="url(#gH)"/>
<circle cx="177.7" cy="305.3" r="1.55" fill="url(#gH)"/>
<circle cx="156.2" cy="308.8" r="1.55" fill="url(#gH)"/>
<circle cx="195.6" cy="301.8" r="1.55" fill="url(#gH)"/>
<circle cx="213.1" cy="310.9" r="1.55" fill="url(#gH)"/>
<circle cx="217.5" cy="300.9" r="1.55" fill="url(#gH)"/>
<circle cx="122.9" cy="324.5" r="1.55" fill="url(#gH)"/>
<circle cx="160.2" cy="329.8" r="1.55" fill="url(#gH)"/>
<circle cx="178.9" cy="331.5" r="1.55" fill="url(#gH)"/>
<circle cx="199.1" cy="331.2" r="1.55" fill="url(#gH)"/>
<circle cx="220.5" cy="332.4" r="1.55" fill="url(#gH)"/>
<circle cx="196.5" cy="358.7" r="1.55" fill="url(#gH)"/>
<circle cx="217.5" cy="356.4" r="1.55" fill="url(#gH)"/>
<circle cx="261.8" cy="307.0" r="1.55" fill="url(#gH)"/>
<circle cx="324.9" cy="302.6" r="1.55" fill="url(#gH)"/>
<circle cx="257.9" cy="331.5" r="1.55" fill="url(#gH)"/>
<circle cx="265.3" cy="326.3" r="1.55" fill="url(#gH)"/>
<circle cx="285.4" cy="334.2" r="1.55" fill="url(#gH)"/>
<circle cx="280.7" cy="346.4" r="1.55" fill="url(#gH)"/>
<circle cx="270.2" cy="356.1" r="1.55" fill="url(#gH)"/>
<circle cx="304.7" cy="335.0" r="1.55" fill="url(#gH)"/>
<circle cx="324.9" cy="338.9" r="1.55" fill="url(#gH)"/>
<circle cx="29.8" cy="361.1" r="1.55" fill="url(#gH)"/>
<circle cx="46.4" cy="372.2" r="1.55" fill="url(#gH)"/>
<circle cx="66.6" cy="358.5" r="1.55" fill="url(#gH)"/>
<circle cx="85.5" cy="372.5" r="1.55" fill="url(#gH)"/>
<circle cx="80.2" cy="382.2" r="1.55" fill="url(#gH)"/>
<circle cx="97.2" cy="372.5" r="1.55" fill="url(#gH)"/>
<circle cx="29.8" cy="389.2" r="1.55" fill="url(#gH)"/>
<circle cx="52.6" cy="382.7" r="1.55" fill="url(#gH)"/>
<circle cx="72.2" cy="381.3" r="1.55" fill="url(#gH)"/>
<circle cx="80.2" cy="406.2" r="1.55" fill="url(#gH)"/>
<circle cx="86.7" cy="407.9" r="1.55" fill="url(#gH)"/>
<circle cx="102.0" cy="406.7" r="1.55" fill="url(#gH)"/>
<circle cx="104.8" cy="394.4" r="1.55" fill="url(#gH)"/>
<circle cx="35.9" cy="417.2" r="1.55" fill="url(#gH)"/>
<circle cx="54.3" cy="416.3" r="1.55" fill="url(#gH)"/>
<circle cx="117.6" cy="364.6" r="1.55" fill="url(#gH)"/>
<circle cx="140.9" cy="363.4" r="1.55" fill="url(#gH)"/>
<circle cx="159.1" cy="363.8" r="1.55" fill="url(#gH)"/>
<circle cx="176.3" cy="365.9" r="1.55" fill="url(#gH)"/>
<circle cx="229.8" cy="383.0" r="1.55" fill="url(#gH)"/>
<circle cx="200.8" cy="390.0" r="1.55" fill="url(#gH)"/>
<circle cx="126.9" cy="397.0" r="1.55" fill="url(#gH)"/>
<circle cx="143.9" cy="396.7" r="1.55" fill="url(#gH)"/>
<circle cx="164.4" cy="392.7" r="1.55" fill="url(#gH)"/>
<circle cx="185.1" cy="391.8" r="1.55" fill="url(#gH)"/>
<circle cx="198.2" cy="418.1" r="1.55" fill="url(#gH)"/>
<circle cx="310.0" cy="360.6" r="1.55" fill="url(#gH)"/>
<circle cx="229.9" cy="382.2" r="1.55" fill="url(#gH)"/>
<circle cx="265.6" cy="391.4" r="1.55" fill="url(#gH)"/>
<circle cx="285.4" cy="392.7" r="1.55" fill="url(#gH)"/>
<circle cx="289.0" cy="372.5" r="1.55" fill="url(#gH)"/>
<circle cx="284.2" cy="376.9" r="1.55" fill="url(#gH)"/>
<circle cx="302.1" cy="393.5" r="1.55" fill="url(#gH)"/>
<circle cx="321.0" cy="373.9" r="1.55" fill="url(#gH)"/>
<circle cx="294.2" cy="397.4" r="1.55" fill="url(#gH)"/>
<circle cx="254.8" cy="402.0" r="1.55" fill="url(#gH)"/>
<circle cx="272.7" cy="401.4" r="1.55" fill="url(#gH)"/>
<circle cx="291.6" cy="409.3" r="1.55" fill="url(#gH)"/>
<circle cx="310.8" cy="411.4" r="1.55" fill="url(#gH)"/>
<circle cx="325.7" cy="408.4" r="1.55" fill="url(#gH)"/>
<circle cx="331.0" cy="411.4" r="1.55" fill="url(#gH)"/>
<circle cx="31.5" cy="261.1" r="1.95" fill="url(#gF)"/>
<circle cx="22.4" cy="272.2" r="1.95" fill="url(#gF)"/>
<circle cx="36.4" cy="278.3" r="1.95" fill="url(#gF)"/>
<circle cx="49.9" cy="285.6" r="1.95" fill="url(#gF)"/>
<circle cx="53.1" cy="260.4" r="1.95" fill="url(#gF)"/>
<circle cx="61.7" cy="253.4" r="1.95" fill="url(#gF)"/>
<circle cx="71.0" cy="276.5" r="1.95" fill="url(#gF)"/>
<circle cx="78.5" cy="252.4" r="1.95" fill="url(#gF)"/>
<circle cx="82.0" cy="262.2" r="1.95" fill="url(#gF)"/>
<circle cx="97.4" cy="253.4" r="1.95" fill="url(#gF)"/>
<circle cx="103.4" cy="268.1" r="1.95" fill="url(#gF)"/>
<circle cx="18.4" cy="286.2" r="1.95" fill="url(#gF)"/>
<circle cx="54.7" cy="292.0" r="1.95" fill="url(#gF)"/>
<circle cx="35.9" cy="299.3" r="1.95" fill="url(#gF)"/>
<circle cx="86.2" cy="302.0" r="1.95" fill="url(#gF)"/>
<circle cx="110.0" cy="282.1" r="1.95" fill="url(#gF)"/>
<circle cx="103.0" cy="297.6" r="1.95" fill="url(#gF)"/>
<circle cx="119.4" cy="259.0" r="1.95" fill="url(#gF)"/>
<circle cx="121.7" cy="272.7" r="1.95" fill="url(#gF)"/>
<circle cx="145.1" cy="266.9" r="1.95" fill="url(#gF)"/>
<circle cx="137.8" cy="273.0" r="1.95" fill="url(#gF)"/>
<circle cx="157.9" cy="252.4" r="1.95" fill="url(#gF)"/>
<circle cx="163.7" cy="264.3" r="1.95" fill="url(#gF)"/>
<circle cx="174.2" cy="259.9" r="1.95" fill="url(#gF)"/>
<circle cx="179.0" cy="274.8" r="1.95" fill="url(#gF)"/>
<circle cx="195.2" cy="252.4" r="1.95" fill="url(#gF)"/>
<circle cx="198.2" cy="255.5" r="1.95" fill="url(#gF)"/>
<circle cx="199.1" cy="267.4" r="1.95" fill="url(#gF)"/>
<circle cx="215.7" cy="261.6" r="1.95" fill="url(#gF)"/>
<circle cx="210.5" cy="276.5" r="1.95" fill="url(#gF)"/>
<circle cx="214.5" cy="277.4" r="1.95" fill="url(#gF)"/>
<circle cx="230.3" cy="286.7" r="1.95" fill="url(#gF)"/>
<circle cx="234.1" cy="273.0" r="1.95" fill="url(#gF)"/>
<circle cx="127.3" cy="286.7" r="1.95" fill="url(#gF)"/>
<circle cx="142.2" cy="300.2" r="1.95" fill="url(#gF)"/>
<circle cx="163.2" cy="286.2" r="1.95" fill="url(#gF)"/>
<circle cx="155.3" cy="299.3" r="1.95" fill="url(#gF)"/>
<circle cx="160.9" cy="296.7" r="1.95" fill="url(#gF)"/>
<circle cx="176.7" cy="297.2" r="1.95" fill="url(#gF)"/>
<circle cx="198.7" cy="296.7" r="1.95" fill="url(#gF)"/>
<circle cx="207.0" cy="300.7" r="1.95" fill="url(#gF)"/>
<circle cx="212.2" cy="298.4" r="1.95" fill="url(#gF)"/>
<circle cx="234.6" cy="251.1" r="1.95" fill="url(#gF)"/>
<circle cx="261.8" cy="251.1" r="1.95" fill="url(#gF)"/>
<circle cx="235.5" cy="272.2" r="1.95" fill="url(#gF)"/>
<circle cx="249.5" cy="271.3" r="1.95" fill="url(#gF)"/>
<circle cx="250.4" cy="288.8" r="1.95" fill="url(#gF)"/>
<circle cx="259.7" cy="296.7" r="1.95" fill="url(#gF)"/>
<circle cx="266.2" cy="283.5" r="1.95" fill="url(#gF)"/>
<circle cx="279.3" cy="274.8" r="1.95" fill="url(#gF)"/>
<circle cx="286.3" cy="283.5" r="1.95" fill="url(#gF)"/>
<circle cx="301.2" cy="280.0" r="1.95" fill="url(#gF)"/>
<circle cx="305.9" cy="277.4" r="1.95" fill="url(#gF)"/>
<circle cx="309.1" cy="261.6" r="1.95" fill="url(#gF)"/>
<circle cx="321.0" cy="281.8" r="1.95" fill="url(#gF)"/>
<circle cx="328.0" cy="270.9" r="1.95" fill="url(#gF)"/>
<circle cx="337.1" cy="286.2" r="1.95" fill="url(#gF)"/>
<circle cx="279.7" cy="296.7" r="1.95" fill="url(#gF)"/>
<circle cx="289.0" cy="296.7" r="1.95" fill="url(#gF)"/>
<circle cx="326.3" cy="296.2" r="1.95" fill="url(#gF)"/>
<circle cx="22.8" cy="322.8" r="1.95" fill="url(#gF)"/>
<circle cx="24.9" cy="335.9" r="1.95" fill="url(#gF)"/>
<circle cx="45.9" cy="314.9" r="1.95" fill="url(#gF)"/>
<circle cx="42.0" cy="330.7" r="1.95" fill="url(#gF)"/>
<circle cx="63.1" cy="314.9" r="1.95" fill="url(#gF)"/>
<circle cx="61.0" cy="330.7" r="1.95" fill="url(#gF)"/>
<circle cx="78.0" cy="340.6" r="1.95" fill="url(#gF)"/>
<circle cx="81.5" cy="330.7" r="1.95" fill="url(#gF)"/>
<circle cx="101.3" cy="317.2" r="1.95" fill="url(#gF)"/>
<circle cx="97.2" cy="328.0" r="1.95" fill="url(#gF)"/>
<circle cx="117.0" cy="330.7" r="1.95" fill="url(#gF)"/>
<circle cx="114.2" cy="345.2" r="1.95" fill="url(#gF)"/>
<circle cx="118.3" cy="308.8" r="1.95" fill="url(#gF)"/>
<circle cx="44.7" cy="347.3" r="1.95" fill="url(#gF)"/>
<circle cx="104.8" cy="350.8" r="1.95" fill="url(#gF)"/>
<circle cx="132.5" cy="307.9" r="1.95" fill="url(#gF)"/>
<circle cx="138.7" cy="306.7" r="1.95" fill="url(#gF)"/>
<circle cx="174.6" cy="300.0" r="1.95" fill="url(#gF)"/>
<circle cx="172.5" cy="313.7" r="1.95" fill="url(#gF)"/>
<circle cx="174.2" cy="318.4" r="1.95" fill="url(#gF)"/>
<circle cx="155.3" cy="310.2" r="1.95" fill="url(#gF)"/>
<circle cx="186.8" cy="312.6" r="1.95" fill="url(#gF)"/>
<circle cx="192.1" cy="320.7" r="1.95" fill="url(#gF)"/>
<circle cx="205.7" cy="315.4" r="1.95" fill="url(#gF)"/>
<circle cx="209.6" cy="314.9" r="1.95" fill="url(#gF)"/>
<circle cx="223.6" cy="322.4" r="1.95" fill="url(#gF)"/>
<circle cx="228.9" cy="315.8" r="1.95" fill="url(#gF)"/>
<circle cx="130.8" cy="346.4" r="1.95" fill="url(#gF)"/>
<circle cx="136.9" cy="333.3" r="1.95" fill="url(#gF)"/>
<circle cx="143.0" cy="324.5" r="1.95" fill="url(#gF)"/>
<circle cx="147.4" cy="345.5" r="1.95" fill="url(#gF)"/>
<circle cx="149.2" cy="348.2" r="1.95" fill="url(#gF)"/>
<circle cx="167.9" cy="350.8" r="1.95" fill="url(#gF)"/>
<circle cx="170.7" cy="343.8" r="1.95" fill="url(#gF)"/>
<circle cx="190.3" cy="346.4" r="1.95" fill="url(#gF)"/>
<circle cx="190.3" cy="350.8" r="1.95" fill="url(#gF)"/>
<circle cx="208.7" cy="347.3" r="1.95" fill="url(#gF)"/>
<circle cx="209.6" cy="349.9" r="1.95" fill="url(#gF)"/>
<circle cx="228.0" cy="350.5" r="1.95" fill="url(#gF)"/>
<circle cx="230.6" cy="349.9" r="1.95" fill="url(#gF)"/>
<circle cx="178.9" cy="359.6" r="1.95" fill="url(#gF)"/>
<circle cx="234.1" cy="358.7" r="1.95" fill="url(#gF)"/>
<circle cx="276.7" cy="312.6" r="1.95" fill="url(#gF)"/>
<circle cx="268.8" cy="312.3" r="1.95" fill="url(#gF)"/>
<circle cx="293.0" cy="317.2" r="1.95" fill="url(#gF)"/>
<circle cx="305.9" cy="315.4" r="1.95" fill="url(#gF)"/>
<circle cx="307.3" cy="321.9" r="1.95" fill="url(#gF)"/>
<circle cx="314.3" cy="318.4" r="1.95" fill="url(#gF)"/>
<circle cx="329.2" cy="310.9" r="1.95" fill="url(#gF)"/>
<circle cx="331.9" cy="321.0" r="1.95" fill="url(#gF)"/>
<circle cx="248.1" cy="313.1" r="1.95" fill="url(#gF)"/>
<circle cx="252.2" cy="315.8" r="1.95" fill="url(#gF)"/>
<circle cx="239.4" cy="329.4" r="1.95" fill="url(#gF)"/>
<circle cx="250.9" cy="345.2" r="1.95" fill="url(#gF)"/>
<circle cx="253.0" cy="345.9" r="1.95" fill="url(#gF)"/>
<circle cx="250.4" cy="352.6" r="1.95" fill="url(#gF)"/>
<circle cx="268.8" cy="340.3" r="1.95" fill="url(#gF)"/>
<circle cx="275.8" cy="332.4" r="1.95" fill="url(#gF)"/>
<circle cx="277.6" cy="333.0" r="1.95" fill="url(#gF)"/>
<circle cx="272.3" cy="347.3" r="1.95" fill="url(#gF)"/>
<circle cx="296.8" cy="342.9" r="1.95" fill="url(#gF)"/>
<circle cx="291.6" cy="354.3" r="1.95" fill="url(#gF)"/>
<circle cx="298.6" cy="357.8" r="1.95" fill="url(#gF)"/>
<circle cx="314.7" cy="349.9" r="1.95" fill="url(#gF)"/>
<circle cx="337.1" cy="336.8" r="1.95" fill="url(#gF)"/>
<circle cx="321.4" cy="357.8" r="1.95" fill="url(#gF)"/>
<circle cx="331.9" cy="357.8" r="1.95" fill="url(#gF)"/>
<circle cx="311.7" cy="357.8" r="1.95" fill="url(#gF)"/>
<circle cx="46.4" cy="358.5" r="1.95" fill="url(#gF)"/>
<circle cx="57.8" cy="365.9" r="1.95" fill="url(#gF)"/>
<circle cx="64.8" cy="372.5" r="1.95" fill="url(#gF)"/>
<circle cx="80.6" cy="358.5" r="1.95" fill="url(#gF)"/>
<circle cx="79.7" cy="362.9" r="1.95" fill="url(#gF)"/>
<circle cx="97.8" cy="384.8" r="1.95" fill="url(#gF)"/>
<circle cx="104.2" cy="364.6" r="1.95" fill="url(#gF)"/>
<circle cx="109.5" cy="382.7" r="1.95" fill="url(#gF)"/>
<circle cx="115.6" cy="387.4" r="1.95" fill="url(#gF)"/>
<circle cx="18.4" cy="367.3" r="1.95" fill="url(#gF)"/>
<circle cx="19.3" cy="378.7" r="1.95" fill="url(#gF)"/>
<circle cx="27.2" cy="383.4" r="1.95" fill="url(#gF)"/>
<circle cx="36.4" cy="377.8" r="1.95" fill="url(#gF)"/>
<circle cx="45.2" cy="396.2" r="1.95" fill="url(#gF)"/>
<circle cx="41.7" cy="404.1" r="1.95" fill="url(#gF)"/>
<circle cx="20.1" cy="403.7" r="1.95" fill="url(#gF)"/>
<circle cx="63.1" cy="400.9" r="1.95" fill="url(#gF)"/>
<circle cx="87.2" cy="386.2" r="1.95" fill="url(#gF)"/>
<circle cx="89.3" cy="390.0" r="1.95" fill="url(#gF)"/>
<circle cx="92.0" cy="403.2" r="1.95" fill="url(#gF)"/>
<circle cx="96.0" cy="415.4" r="1.95" fill="url(#gF)"/>
<circle cx="110.7" cy="404.1" r="1.95" fill="url(#gF)"/>
<circle cx="115.3" cy="416.3" r="1.95" fill="url(#gF)"/>
<circle cx="71.8" cy="418.1" r="1.95" fill="url(#gF)"/>
<circle cx="124.1" cy="362.0" r="1.95" fill="url(#gF)"/>
<circle cx="116.8" cy="387.4" r="1.95" fill="url(#gF)"/>
<circle cx="129.9" cy="383.0" r="1.95" fill="url(#gF)"/>
<circle cx="133.4" cy="390.9" r="1.95" fill="url(#gF)"/>
<circle cx="147.4" cy="377.4" r="1.95" fill="url(#gF)"/>
<circle cx="150.9" cy="384.8" r="1.95" fill="url(#gF)"/>
<circle cx="150.0" cy="388.3" r="1.95" fill="url(#gF)"/>
<circle cx="169.3" cy="380.9" r="1.95" fill="url(#gF)"/>
<circle cx="171.1" cy="383.0" r="1.95" fill="url(#gF)"/>
<circle cx="178.4" cy="361.7" r="1.95" fill="url(#gF)"/>
<circle cx="188.2" cy="382.2" r="1.95" fill="url(#gF)"/>
<circle cx="192.1" cy="372.9" r="1.95" fill="url(#gF)"/>
<circle cx="209.6" cy="376.4" r="1.95" fill="url(#gF)"/>
<circle cx="231.5" cy="358.9" r="1.95" fill="url(#gF)"/>
<circle cx="223.6" cy="380.4" r="1.95" fill="url(#gF)"/>
<circle cx="135.7" cy="416.3" r="1.95" fill="url(#gF)"/>
<circle cx="156.7" cy="416.7" r="1.95" fill="url(#gF)"/>
<circle cx="174.9" cy="415.4" r="1.95" fill="url(#gF)"/>
<circle cx="201.7" cy="397.0" r="1.95" fill="url(#gF)"/>
<circle cx="214.9" cy="402.0" r="1.95" fill="url(#gF)"/>
<circle cx="211.4" cy="416.7" r="1.95" fill="url(#gF)"/>
<circle cx="227.1" cy="400.9" r="1.95" fill="url(#gF)"/>
<circle cx="223.3" cy="416.3" r="1.95" fill="url(#gF)"/>
<circle cx="283.7" cy="361.7" r="1.95" fill="url(#gF)"/>
<circle cx="292.4" cy="355.9" r="1.95" fill="url(#gF)"/>
<circle cx="328.7" cy="357.6" r="1.95" fill="url(#gF)"/>
<circle cx="332.7" cy="358.2" r="1.95" fill="url(#gF)"/>
<circle cx="228.5" cy="366.4" r="1.95" fill="url(#gF)"/>
<circle cx="243.4" cy="385.7" r="1.95" fill="url(#gF)"/>
<circle cx="246.4" cy="385.7" r="1.95" fill="url(#gF)"/>
<circle cx="267.9" cy="371.1" r="1.95" fill="url(#gF)"/>
<circle cx="262.7" cy="380.4" r="1.95" fill="url(#gF)"/>
<circle cx="261.8" cy="384.8" r="1.95" fill="url(#gF)"/>
<circle cx="283.2" cy="386.2" r="1.95" fill="url(#gF)"/>
<circle cx="281.4" cy="396.7" r="1.95" fill="url(#gF)"/>
<circle cx="301.2" cy="376.4" r="1.95" fill="url(#gF)"/>
<circle cx="296.5" cy="391.4" r="1.95" fill="url(#gF)"/>
<circle cx="300.3" cy="396.2" r="1.95" fill="url(#gF)"/>
<circle cx="320.5" cy="377.8" r="1.95" fill="url(#gF)"/>
<circle cx="319.6" cy="381.3" r="1.95" fill="url(#gF)"/>
<circle cx="320.5" cy="395.6" r="1.95" fill="url(#gF)"/>
<circle cx="335.0" cy="378.7" r="1.95" fill="url(#gF)"/>
<circle cx="331.9" cy="393.9" r="1.95" fill="url(#gF)"/>
<circle cx="336.8" cy="400.9" r="1.95" fill="url(#gF)"/>
<circle cx="308.7" cy="400.9" r="1.95" fill="url(#gF)"/>
<circle cx="235.9" cy="400.9" r="1.95" fill="url(#gF)"/>
<circle cx="242.5" cy="404.4" r="1.95" fill="url(#gF)"/>
<circle cx="292.4" cy="407.2" r="1.95" fill="url(#gF)"/>
<circle cx="288.1" cy="414.6" r="1.95" fill="url(#gF)"/>
<circle cx="336.2" cy="415.4" r="1.95" fill="url(#gF)"/>
<circle cx="90.7" cy="283.5" r="2.10" fill="url(#gK)"/>
<circle cx="137.4" cy="277.4" r="2.10" fill="url(#gK)"/>
<circle cx="167.2" cy="263.4" r="2.10" fill="url(#gK)"/>
<circle cx="225.0" cy="294.0" r="2.10" fill="url(#gK)"/>
<circle cx="247.8" cy="292.0" r="2.10" fill="url(#gK)"/>
<circle cx="85.8" cy="302.6" r="2.10" fill="url(#gK)"/>
<circle cx="79.7" cy="367.3" r="2.10" fill="url(#gK)"/>
<circle cx="220.1" cy="390.0" r="2.10" fill="url(#gK)"/>
<circle cx="133.4" cy="405.8" r="2.10" fill="url(#gK)"/>
<circle cx="153.2" cy="407.2" r="2.10" fill="url(#gK)"/>
<circle cx="172.5" cy="407.6" r="2.10" fill="url(#gK)"/>
<circle cx="192.1" cy="407.6" r="2.10" fill="url(#gK)"/>
<circle cx="249.2" cy="363.4" r="2.10" fill="url(#gK)"/>
<circle cx="19.3" cy="270.4" r="2.60" fill="url(#gC)"/>
<circle cx="26.3" cy="270.4" r="2.60" fill="url(#gC)"/>
<circle cx="35.0" cy="278.3" r="2.60" fill="url(#gC)"/>
<circle cx="45.2" cy="277.1" r="2.60" fill="url(#gC)"/>
<circle cx="53.4" cy="269.5" r="2.60" fill="url(#gC)"/>
<circle cx="59.6" cy="263.0" r="2.60" fill="url(#gC)"/>
<circle cx="69.2" cy="267.4" r="2.60" fill="url(#gC)"/>
<circle cx="78.5" cy="262.0" r="2.60" fill="url(#gC)"/>
<circle cx="87.6" cy="267.4" r="2.60" fill="url(#gC)"/>
<circle cx="98.1" cy="263.0" r="2.60" fill="url(#gC)"/>
<circle cx="72.2" cy="295.3" r="2.60" fill="url(#gR)"/>
<circle cx="84.4" cy="296.7" r="2.60" fill="url(#gC)"/>
<circle cx="93.2" cy="287.9" r="2.60" fill="url(#gC)"/>
<circle cx="104.8" cy="290.9" r="2.60" fill="url(#gC)"/>
<circle cx="108.3" cy="294.9" r="2.60" fill="url(#gC)"/>
<circle cx="119.1" cy="299.3" r="2.60" fill="url(#gC)"/>
<circle cx="117.0" cy="262.5" r="2.60" fill="url(#gC)"/>
<circle cx="131.1" cy="261.1" r="2.60" fill="url(#gC)"/>
<circle cx="140.9" cy="267.4" r="2.60" fill="url(#gC)"/>
<circle cx="162.3" cy="269.5" r="2.60" fill="url(#gC)"/>
<circle cx="173.7" cy="266.9" r="2.60" fill="url(#gC)"/>
<circle cx="184.2" cy="264.3" r="2.60" fill="url(#gC)"/>
<circle cx="191.7" cy="261.6" r="2.50" fill="url(#gO)"/>
<circle cx="195.2" cy="264.6" r="2.60" fill="url(#gR)"/>
<circle cx="200.8" cy="271.3" r="2.60" fill="url(#gR)"/>
<circle cx="211.7" cy="270.4" r="2.60" fill="url(#gR)"/>
<circle cx="218.0" cy="272.7" r="2.60" fill="url(#gR)"/>
<circle cx="229.2" cy="277.4" r="2.60" fill="url(#gR)"/>
<circle cx="233.4" cy="279.2" r="2.60" fill="url(#gR)"/>
<circle cx="128.7" cy="293.7" r="2.60" fill="url(#gC)"/>
<circle cx="139.5" cy="297.2" r="2.60" fill="url(#gC)"/>
<circle cx="147.4" cy="290.2" r="2.60" fill="url(#gC)"/>
<circle cx="157.9" cy="294.1" r="2.60" fill="url(#gC)"/>
<circle cx="160.9" cy="302.0" r="2.60" fill="url(#gC)"/>
<circle cx="171.1" cy="304.6" r="2.60" fill="url(#gC)"/>
<circle cx="197.3" cy="302.8" r="2.60" fill="url(#gC)"/>
<circle cx="245.1" cy="280.0" r="2.60" fill="url(#gC)"/>
<circle cx="260.9" cy="292.3" r="2.60" fill="url(#gC)"/>
<circle cx="265.6" cy="279.7" r="2.60" fill="url(#gR)"/>
<circle cx="274.9" cy="272.2" r="2.60" fill="url(#gR)"/>
<circle cx="283.7" cy="273.9" r="2.60" fill="url(#gR)"/>
<circle cx="293.3" cy="267.8" r="2.60" fill="url(#gC)"/>
<circle cx="303.0" cy="272.2" r="2.60" fill="url(#gC)"/>
<circle cx="312.2" cy="266.9" r="2.60" fill="url(#gC)"/>
<circle cx="322.2" cy="272.2" r="2.60" fill="url(#gC)"/>
<circle cx="328.4" cy="266.9" r="2.60" fill="url(#gC)"/>
<circle cx="337.1" cy="268.6" r="2.60" fill="url(#gC)"/>
<circle cx="265.3" cy="300.2" r="2.60" fill="url(#gC)"/>
<circle cx="276.7" cy="302.8" r="2.60" fill="url(#gC)"/>
<circle cx="286.3" cy="301.1" r="2.60" fill="url(#gC)"/>
<circle cx="303.8" cy="302.8" r="2.60" fill="url(#gC)"/>
<circle cx="324.0" cy="302.8" r="2.60" fill="url(#gC)"/>
<circle cx="21.9" cy="325.4" r="2.60" fill="url(#gC)"/>
<circle cx="30.1" cy="318.4" r="2.60" fill="url(#gC)"/>
<circle cx="41.2" cy="321.4" r="2.60" fill="url(#gC)"/>
<circle cx="48.7" cy="321.9" r="2.60" fill="url(#gC)"/>
<circle cx="59.6" cy="322.8" r="2.60" fill="url(#gC)"/>
<circle cx="66.2" cy="327.7" r="2.60" fill="url(#gC)"/>
<circle cx="77.1" cy="330.7" r="2.60" fill="url(#gC)"/>
<circle cx="85.0" cy="323.7" r="2.60" fill="url(#gC)"/>
<circle cx="96.0" cy="325.9" r="2.60" fill="url(#gC)"/>
<circle cx="101.6" cy="334.7" r="2.60" fill="url(#gC)"/>
<circle cx="113.0" cy="335.0" r="2.60" fill="url(#gC)"/>
<circle cx="27.2" cy="352.2" r="2.60" fill="url(#gR)"/>
<circle cx="30.7" cy="356.0" r="2.60" fill="url(#gC)"/>
<circle cx="41.7" cy="357.0" r="2.60" fill="url(#gC)"/>
<circle cx="48.2" cy="353.4" r="2.60" fill="url(#gR)"/>
<circle cx="58.7" cy="357.8" r="2.60" fill="url(#gC)"/>
<circle cx="69.2" cy="353.4" r="2.60" fill="url(#gC)"/>
<circle cx="79.7" cy="357.8" r="2.60" fill="url(#gC)"/>
<circle cx="88.5" cy="351.7" r="2.60" fill="url(#gC)"/>
<circle cx="99.5" cy="356.9" r="2.60" fill="url(#gC)"/>
<circle cx="171.9" cy="305.6" r="2.60" fill="url(#gC)"/>
<circle cx="178.4" cy="310.2" r="2.60" fill="url(#gC)"/>
<circle cx="190.7" cy="312.3" r="2.60" fill="url(#gC)"/>
<circle cx="198.2" cy="304.4" r="2.60" fill="url(#gC)"/>
<circle cx="208.7" cy="307.0" r="2.60" fill="url(#gC)"/>
<circle cx="216.6" cy="307.4" r="2.60" fill="url(#gC)"/>
<circle cx="226.2" cy="313.7" r="2.60" fill="url(#gC)"/>
<circle cx="121.7" cy="331.5" r="2.60" fill="url(#gC)"/>
<circle cx="132.2" cy="337.1" r="2.60" fill="url(#gC)"/>
<circle cx="140.9" cy="334.2" r="2.60" fill="url(#gC)"/>
<circle cx="148.6" cy="340.6" r="2.60" fill="url(#gC)"/>
<circle cx="159.1" cy="335.0" r="2.60" fill="url(#gR)"/>
<circle cx="169.0" cy="342.0" r="2.60" fill="url(#gR)"/>
<circle cx="178.4" cy="336.8" r="2.60" fill="url(#gR)"/>
<circle cx="190.0" cy="342.0" r="2.60" fill="url(#gR)"/>
<circle cx="199.4" cy="335.9" r="2.60" fill="url(#gR)"/>
<circle cx="208.7" cy="342.0" r="2.60" fill="url(#gR)"/>
<circle cx="219.8" cy="337.7" r="2.60" fill="url(#gR)"/>
<circle cx="229.2" cy="343.8" r="2.60" fill="url(#gR)"/>
<circle cx="285.4" cy="301.8" r="2.60" fill="url(#gC)"/>
<circle cx="295.1" cy="307.4" r="2.60" fill="url(#gC)"/>
<circle cx="303.8" cy="303.9" r="2.60" fill="url(#gC)"/>
<circle cx="311.7" cy="311.4" r="2.60" fill="url(#gC)"/>
<circle cx="321.4" cy="307.9" r="2.60" fill="url(#gC)"/>
<circle cx="331.9" cy="314.9" r="2.60" fill="url(#gC)"/>
<circle cx="236.9" cy="310.9" r="2.60" fill="url(#gC)"/>
<circle cx="246.4" cy="317.5" r="2.60" fill="url(#gC)"/>
<circle cx="246.0" cy="330.1" r="2.60" fill="url(#gC)"/>
<circle cx="239.4" cy="337.7" r="2.50" fill="url(#gO)"/>
<circle cx="249.5" cy="342.0" r="2.50" fill="url(#gO)"/>
<circle cx="256.2" cy="336.8" r="2.60" fill="url(#gC)"/>
<circle cx="265.6" cy="333.3" r="2.60" fill="url(#gC)"/>
<circle cx="274.9" cy="338.5" r="2.50" fill="url(#gO)"/>
<circle cx="283.7" cy="341.2" r="2.60" fill="url(#gR)"/>
<circle cx="274.9" cy="349.1" r="2.60" fill="url(#gC)"/>
<circle cx="293.3" cy="345.2" r="2.60" fill="url(#gR)"/>
<circle cx="303.5" cy="342.0" r="2.60" fill="url(#gR)"/>
<circle cx="301.2" cy="349.9" r="2.60" fill="url(#gC)"/>
<circle cx="313.5" cy="347.7" r="2.60" fill="url(#gR)"/>
<circle cx="324.0" cy="343.8" r="2.60" fill="url(#gR)"/>
<circle cx="328.4" cy="342.0" r="2.60" fill="url(#gC)"/>
<circle cx="333.6" cy="349.9" r="2.60" fill="url(#gC)"/>
<circle cx="320.5" cy="351.7" r="2.60" fill="url(#gC)"/>
<circle cx="311.7" cy="352.6" r="2.60" fill="url(#gC)"/>
<circle cx="29.8" cy="355.9" r="2.60" fill="url(#gC)"/>
<circle cx="46.4" cy="363.8" r="2.60" fill="url(#gC)"/>
<circle cx="66.6" cy="363.8" r="2.60" fill="url(#gC)"/>
<circle cx="77.1" cy="366.4" r="2.60" fill="url(#gC)"/>
<circle cx="84.1" cy="375.1" r="2.60" fill="url(#gC)"/>
<circle cx="94.3" cy="377.8" r="2.60" fill="url(#gC)"/>
<circle cx="101.6" cy="369.0" r="2.60" fill="url(#gC)"/>
<circle cx="112.1" cy="371.6" r="2.60" fill="url(#gC)"/>
<circle cx="117.4" cy="368.1" r="2.60" fill="url(#gC)"/>
<circle cx="24.5" cy="386.5" r="2.60" fill="url(#gC)"/>
<circle cx="33.3" cy="387.1" r="2.50" fill="url(#gO)"/>
<circle cx="42.9" cy="394.4" r="2.50" fill="url(#gO)"/>
<circle cx="19.3" cy="397.0" r="2.60" fill="url(#gC)"/>
<circle cx="51.7" cy="389.2" r="2.60" fill="url(#gR)"/>
<circle cx="62.7" cy="395.0" r="2.60" fill="url(#gR)"/>
<circle cx="72.2" cy="388.3" r="2.60" fill="url(#gR)"/>
<circle cx="84.1" cy="391.8" r="2.60" fill="url(#gC)"/>
<circle cx="85.8" cy="403.2" r="2.60" fill="url(#gC)"/>
<circle cx="94.6" cy="405.8" r="2.60" fill="url(#gR)"/>
<circle cx="106.0" cy="401.4" r="2.50" fill="url(#gO)"/>
<circle cx="115.3" cy="406.7" r="2.50" fill="url(#gO)"/>
<circle cx="121.1" cy="368.1" r="2.60" fill="url(#gC)"/>
<circle cx="122.0" cy="377.8" r="2.60" fill="url(#gC)"/>
<circle cx="129.9" cy="374.3" r="2.50" fill="url(#gO)"/>
<circle cx="138.7" cy="375.1" r="2.50" fill="url(#gO)"/>
<circle cx="140.4" cy="369.9" r="2.60" fill="url(#gR)"/>
<circle cx="149.7" cy="375.7" r="2.60" fill="url(#gR)"/>
<circle cx="158.8" cy="369.0" r="2.60" fill="url(#gR)"/>
<circle cx="169.3" cy="374.3" r="2.60" fill="url(#gR)"/>
<circle cx="178.1" cy="368.1" r="2.50" fill="url(#gO)"/>
<circle cx="187.2" cy="369.0" r="2.60" fill="url(#gC)"/>
<circle cx="197.3" cy="366.4" r="2.60" fill="url(#gC)"/>
<circle cx="208.7" cy="370.8" r="2.60" fill="url(#gC)"/>
<circle cx="218.0" cy="362.9" r="2.60" fill="url(#gC)"/>
<circle cx="228.9" cy="367.3" r="2.60" fill="url(#gC)"/>
<circle cx="232.4" cy="376.9" r="2.60" fill="url(#gC)"/>
<circle cx="125.9" cy="403.2" r="2.60" fill="url(#gR)"/>
<circle cx="135.7" cy="410.2" r="2.60" fill="url(#gR)"/>
<circle cx="145.1" cy="403.7" r="2.60" fill="url(#gR)"/>
<circle cx="155.0" cy="405.8" r="2.60" fill="url(#gR)"/>
<circle cx="165.5" cy="400.2" r="2.60" fill="url(#gR)"/>
<circle cx="174.9" cy="404.4" r="2.60" fill="url(#gR)"/>
<circle cx="184.7" cy="400.2" r="2.60" fill="url(#gR)"/>
<circle cx="195.9" cy="404.9" r="2.60" fill="url(#gC)"/>
<circle cx="199.4" cy="410.7" r="2.60" fill="url(#gC)"/>
<circle cx="211.0" cy="410.7" r="2.60" fill="url(#gC)"/>
<circle cx="215.2" cy="407.2" r="2.60" fill="url(#gC)"/>
<circle cx="218.7" cy="415.4" r="2.60" fill="url(#gC)"/>
<circle cx="225.4" cy="409.3" r="2.60" fill="url(#gC)"/>
<circle cx="234.1" cy="412.8" r="2.60" fill="url(#gC)"/>
<circle cx="242.2" cy="375.1" r="2.60" fill="url(#gR)"/>
<circle cx="243.4" cy="379.5" r="2.60" fill="url(#gC)"/>
<circle cx="252.2" cy="372.2" r="2.60" fill="url(#gC)"/>
<circle cx="263.5" cy="376.0" r="2.60" fill="url(#gC)"/>
<circle cx="268.4" cy="386.5" r="2.60" fill="url(#gC)"/>
<circle cx="279.7" cy="387.4" r="2.60" fill="url(#gC)"/>
<circle cx="287.2" cy="379.5" r="2.60" fill="url(#gC)"/>
<circle cx="297.7" cy="383.9" r="2.60" fill="url(#gC)"/>
<circle cx="304.7" cy="386.5" r="2.60" fill="url(#gC)"/>
<circle cx="316.1" cy="386.2" r="2.60" fill="url(#gC)"/>
<circle cx="322.2" cy="382.2" r="2.60" fill="url(#gC)"/>
<circle cx="324.0" cy="390.9" r="2.60" fill="url(#gC)"/>
<circle cx="331.9" cy="385.1" r="2.60" fill="url(#gC)"/>
<circle cx="335.4" cy="391.8" r="2.60" fill="url(#gC)"/>
<circle cx="225.9" cy="408.4" r="2.60" fill="url(#gC)"/>
<circle cx="235.9" cy="412.8" r="2.60" fill="url(#gC)"/>
<circle cx="241.6" cy="408.4" r="2.60" fill="url(#gC)"/>
<circle cx="244.6" cy="415.4" r="2.50" fill="url(#gO)"/>
<circle cx="251.3" cy="409.7" r="2.60" fill="url(#gC)"/>
<circle cx="254.8" cy="411.4" r="2.60" fill="url(#gR)"/>
<circle cx="265.3" cy="414.6" r="2.60" fill="url(#gR)"/>
<circle cx="273.7" cy="407.6" r="2.60" fill="url(#gR)"/>
<circle cx="284.6" cy="411.4" r="2.60" fill="url(#gR)"/>
<circle cx="281.1" cy="416.7" r="2.60" fill="url(#gC)"/>
<circle cx="291.6" cy="414.6" r="2.60" fill="url(#gC)"/>
<circle cx="302.1" cy="418.1" r="2.60" fill="url(#gC)"/>
<circle cx="311.7" cy="416.3" r="2.60" fill="url(#gC)"/>
<circle cx="325.7" cy="416.3" r="2.60" fill="url(#gC)"/>
</g>
<g clip-path="url(#clipD)">
<g stroke-width="1.4" stroke-linecap="round"><line x1="377.8" y1="255.2" x2="382.6" y2="253.4" stroke="#5c5c5c"/><line x1="382.6" y1="253.4" x2="387.4" y2="251.7" stroke="#5c5c5c"/><line x1="387.4" y1="251.7" x2="392.0" y2="253.8" stroke="#5c5c5c"/><line x1="392.0" y1="253.8" x2="396.7" y2="255.9" stroke="#5c5c5c"/><line x1="396.7" y1="255.9" x2="402.1" y2="254.2" stroke="#5c5c5c"/><line x1="402.1" y1="254.2" x2="407.6" y2="252.4" stroke="#5c5c5c"/><line x1="407.6" y1="252.4" x2="412.9" y2="254.2" stroke="#5c5c5c"/><line x1="412.9" y1="254.2" x2="418.1" y2="255.9" stroke="#5c5c5c"/><line x1="418.1" y1="255.9" x2="422.5" y2="253.8" stroke="#5c5c5c"/><line x1="422.5" y1="253.8" x2="426.8" y2="251.7" stroke="#5c5c5c"/><line x1="426.8" y1="251.7" x2="431.9" y2="252.3" stroke="#5c5c5c"/><line x1="431.9" y1="252.3" x2="437.0" y2="252.9" stroke="#5c5c5c"/><line x1="444.3" y1="268.1" x2="449.4" y2="266.0" stroke="#5c5c5c"/><line x1="449.4" y1="266.0" x2="454.5" y2="263.9" stroke="#5c5c5c"/><line x1="454.5" y1="263.9" x2="459.1" y2="265.1" stroke="#5c5c5c"/><line x1="459.1" y1="265.1" x2="463.6" y2="266.4" stroke="#5c5c5c"/><line x1="463.6" y1="266.4" x2="464.5" y2="271.9" stroke="#5c5c5c"/><line x1="464.5" y1="271.9" x2="465.4" y2="277.4" stroke="#5c5c5c"/><line x1="465.4" y1="277.4" x2="469.4" y2="280.0" stroke="#5c5c5c"/><line x1="469.4" y1="280.0" x2="473.3" y2="282.7" stroke="#5c5c5c"/><line x1="473.3" y1="282.7" x2="477.6" y2="285.9" stroke="#5c5c5c"/><line x1="477.6" y1="285.9" x2="481.9" y2="289.1" stroke="#5c5c5c"/><line x1="481.9" y1="289.1" x2="486.4" y2="291.6" stroke="#5c5c5c"/><line x1="486.4" y1="291.6" x2="491.0" y2="294.1" stroke="#5c5c5c"/><line x1="491.0" y1="294.1" x2="494.9" y2="297.6" stroke="#5c5c5c"/><line x1="494.9" y1="297.6" x2="498.9" y2="301.1" stroke="#d81818"/><line x1="498.9" y1="301.1" x2="504.8" y2="300.4" stroke="#d81818"/><line x1="504.8" y1="300.4" x2="510.6" y2="299.7" stroke="#d81818"/><line x1="498.9" y1="301.1" x2="504.6" y2="301.0" stroke="#d81818"/><line x1="504.6" y1="301.0" x2="510.3" y2="300.9" stroke="#d81818"/><line x1="510.6" y1="299.7" x2="515.2" y2="298.2" stroke="#d81818"/><line x1="515.2" y1="298.2" x2="519.9" y2="296.7" stroke="#5c5c5c"/><line x1="510.6" y1="299.7" x2="515.0" y2="303.8" stroke="#d81818"/><line x1="515.0" y1="303.8" x2="519.4" y2="307.9" stroke="#d81818"/><line x1="519.9" y1="296.7" x2="523.0" y2="293.6" stroke="#5c5c5c"/><line x1="523.0" y1="293.6" x2="526.1" y2="290.5" stroke="#5c5c5c"/><line x1="519.9" y1="296.7" x2="515.1" y2="298.8" stroke="#5c5c5c"/><line x1="515.1" y1="298.8" x2="510.3" y2="300.9" stroke="#d81818"/><line x1="519.9" y1="296.7" x2="519.6" y2="302.3" stroke="#5c5c5c"/><line x1="519.6" y1="302.3" x2="519.4" y2="307.9" stroke="#d81818"/><line x1="526.1" y1="290.5" x2="532.2" y2="290.7" stroke="#5c5c5c"/><line x1="532.2" y1="290.7" x2="538.3" y2="290.9" stroke="#5c5c5c"/><line x1="538.3" y1="290.9" x2="541.0" y2="286.4" stroke="#5c5c5c"/><line x1="541.0" y1="286.4" x2="543.6" y2="281.8" stroke="#5c5c5c"/><line x1="541.0" y1="273.9" x2="545.4" y2="271.2" stroke="#5c5c5c"/><line x1="545.4" y1="271.2" x2="549.7" y2="268.6" stroke="#5c5c5c"/><line x1="541.0" y1="273.9" x2="542.3" y2="277.9" stroke="#5c5c5c"/><line x1="542.3" y1="277.9" x2="543.6" y2="281.8" stroke="#5c5c5c"/><line x1="549.7" y1="268.6" x2="555.0" y2="269.5" stroke="#5c5c5c"/><line x1="555.0" y1="269.5" x2="560.2" y2="270.4" stroke="#5c5c5c"/><line x1="543.6" y1="281.8" x2="549.7" y2="281.8" stroke="#5c5c5c"/><line x1="549.7" y1="281.8" x2="555.8" y2="281.8" stroke="#5c5c5c"/><line x1="555.8" y1="281.8" x2="558.0" y2="276.1" stroke="#5c5c5c"/><line x1="558.0" y1="276.1" x2="560.2" y2="270.4" stroke="#5c5c5c"/><line x1="555.8" y1="281.8" x2="558.5" y2="285.8" stroke="#5c5c5c"/><line x1="558.5" y1="285.8" x2="561.1" y2="289.7" stroke="#5c5c5c"/><line x1="560.2" y1="270.4" x2="563.7" y2="266.0" stroke="#5c5c5c"/><line x1="563.7" y1="266.0" x2="567.2" y2="261.6" stroke="#5c5c5c"/><line x1="561.1" y1="289.7" x2="567.0" y2="289.9" stroke="#5c5c5c"/><line x1="567.0" y1="289.9" x2="573.0" y2="290.2" stroke="#5c5c5c"/><line x1="567.2" y1="261.6" x2="572.8" y2="262.5" stroke="#5c5c5c"/><line x1="572.8" y1="262.5" x2="578.3" y2="263.4" stroke="#5c5c5c"/><line x1="567.2" y1="261.6" x2="572.3" y2="262.6" stroke="#5c5c5c"/><line x1="572.3" y1="262.6" x2="577.4" y2="263.5" stroke="#5c5c5c"/><line x1="573.0" y1="290.2" x2="576.7" y2="287.9" stroke="#5c5c5c"/><line x1="576.7" y1="287.9" x2="580.4" y2="285.6" stroke="#5c5c5c"/><line x1="578.3" y1="263.4" x2="582.4" y2="259.6" stroke="#5c5c5c"/><line x1="582.4" y1="259.6" x2="586.5" y2="255.9" stroke="#5c5c5c"/><line x1="586.5" y1="255.9" x2="582.0" y2="259.7" stroke="#5c5c5c"/><line x1="582.0" y1="259.7" x2="577.4" y2="263.5" stroke="#5c5c5c"/><line x1="586.5" y1="255.9" x2="592.0" y2="257.9" stroke="#5c5c5c"/><line x1="592.0" y1="257.9" x2="597.5" y2="259.8" stroke="#5c5c5c"/><line x1="580.4" y1="285.6" x2="586.1" y2="287.0" stroke="#5c5c5c"/><line x1="586.1" y1="287.0" x2="591.9" y2="288.4" stroke="#5c5c5c"/><line x1="597.5" y1="259.8" x2="600.0" y2="263.6" stroke="#5c5c5c"/><line x1="600.0" y1="263.6" x2="602.6" y2="267.5" stroke="#5c5c5c"/><line x1="602.6" y1="267.5" x2="608.5" y2="268.7" stroke="#5c5c5c"/><line x1="608.5" y1="268.7" x2="614.3" y2="269.9" stroke="#5c5c5c"/><line x1="614.3" y1="269.9" x2="618.0" y2="265.9" stroke="#5c5c5c"/><line x1="618.0" y1="265.9" x2="621.6" y2="261.9" stroke="#5c5c5c"/><line x1="621.6" y1="261.9" x2="621.6" y2="257.0" stroke="#5c5c5c"/><line x1="621.6" y1="257.0" x2="621.6" y2="252.2" stroke="#5c5c5c"/><line x1="621.6" y1="261.9" x2="627.0" y2="263.5" stroke="#5c5c5c"/><line x1="627.0" y1="263.5" x2="632.5" y2="265.1" stroke="#5c5c5c"/><line x1="632.5" y1="265.1" x2="636.9" y2="266.1" stroke="#5c5c5c"/><line x1="636.9" y1="266.1" x2="641.2" y2="267.2" stroke="#5c5c5c"/><line x1="641.2" y1="267.2" x2="645.9" y2="270.4" stroke="#5c5c5c"/><line x1="645.9" y1="270.4" x2="650.5" y2="273.6" stroke="#5c5c5c"/><line x1="650.5" y1="273.6" x2="655.3" y2="271.8" stroke="#5c5c5c"/><line x1="655.3" y1="271.8" x2="660.1" y2="269.9" stroke="#5c5c5c"/><line x1="660.1" y1="269.9" x2="664.9" y2="272.3" stroke="#5c5c5c"/><line x1="664.9" y1="272.3" x2="669.7" y2="274.7" stroke="#5c5c5c"/><line x1="669.7" y1="274.7" x2="675.0" y2="272.3" stroke="#5c5c5c"/><line x1="675.0" y1="272.3" x2="680.2" y2="269.9" stroke="#5c5c5c"/><line x1="591.9" y1="288.4" x2="593.9" y2="293.2" stroke="#5c5c5c"/><line x1="593.9" y1="293.2" x2="595.9" y2="298.0" stroke="#5c5c5c"/><line x1="595.9" y1="298.0" x2="601.9" y2="299.6" stroke="#5c5c5c"/><line x1="601.9" y1="299.6" x2="607.9" y2="301.2" stroke="#5c5c5c"/><line x1="607.9" y1="301.2" x2="612.0" y2="297.6" stroke="#5c5c5c"/><line x1="612.0" y1="297.6" x2="616.0" y2="294.0" stroke="#5c5c5c"/><line x1="616.0" y1="294.0" x2="620.5" y2="296.6" stroke="#5c5c5c"/><line x1="620.5" y1="296.6" x2="625.1" y2="299.3" stroke="#5c5c5c"/><line x1="625.1" y1="299.3" x2="629.8" y2="300.4" stroke="#5c5c5c"/><line x1="629.8" y1="300.4" x2="634.4" y2="301.5" stroke="#5c5c5c"/><line x1="625.1" y1="299.3" x2="625.0" y2="303.2" stroke="#5c5c5c"/><line x1="625.0" y1="303.2" x2="624.8" y2="307.2" stroke="#5c5c5c"/><line x1="634.4" y1="301.5" x2="629.6" y2="304.4" stroke="#5c5c5c"/><line x1="629.6" y1="304.4" x2="624.8" y2="307.2" stroke="#5c5c5c"/><line x1="634.4" y1="301.5" x2="638.8" y2="304.4" stroke="#5c5c5c"/><line x1="638.8" y1="304.4" x2="643.3" y2="307.2" stroke="#5c5c5c"/><line x1="650.2" y1="301.2" x2="646.8" y2="304.2" stroke="#5c5c5c"/><line x1="646.8" y1="304.2" x2="643.3" y2="307.2" stroke="#5c5c5c"/><line x1="650.2" y1="301.2" x2="655.2" y2="305.6" stroke="#5c5c5c"/><line x1="655.2" y1="305.6" x2="660.1" y2="310.0" stroke="#5c5c5c"/><line x1="669.7" y1="301.2" x2="674.5" y2="301.6" stroke="#5c5c5c"/><line x1="674.5" y1="301.6" x2="679.4" y2="302.0" stroke="#5c5c5c"/><line x1="669.7" y1="301.2" x2="670.5" y2="305.8" stroke="#5c5c5c"/><line x1="670.5" y1="305.8" x2="671.4" y2="310.4" stroke="#5c5c5c"/><line x1="669.7" y1="301.2" x2="675.0" y2="303.4" stroke="#5c5c5c"/><line x1="675.0" y1="303.4" x2="680.2" y2="305.6" stroke="#5c5c5c"/><line x1="679.4" y1="302.0" x2="674.5" y2="303.2" stroke="#5c5c5c"/><line x1="674.5" y1="303.2" x2="669.7" y2="304.5" stroke="#5c5c5c"/><line x1="679.4" y1="302.0" x2="679.8" y2="307.0" stroke="#5c5c5c"/><line x1="679.8" y1="307.0" x2="680.2" y2="312.0" stroke="#5c5c5c"/><line x1="367.6" y1="309.6" x2="373.1" y2="310.2" stroke="#5c5c5c"/><line x1="373.1" y1="310.2" x2="378.7" y2="310.9" stroke="#5c5c5c"/><line x1="378.7" y1="310.9" x2="382.2" y2="315.5" stroke="#5c5c5c"/><line x1="382.2" y1="315.5" x2="385.7" y2="320.1" stroke="#5c5c5c"/><line x1="385.7" y1="320.1" x2="391.2" y2="319.9" stroke="#5c5c5c"/><line x1="391.2" y1="319.9" x2="396.7" y2="319.6" stroke="#5c5c5c"/><line x1="396.7" y1="319.6" x2="400.4" y2="321.0" stroke="#5c5c5c"/><line x1="400.4" y1="321.0" x2="404.1" y2="322.4" stroke="#5c5c5c"/><line x1="404.1" y1="322.4" x2="409.5" y2="323.4" stroke="#5c5c5c"/><line x1="409.5" y1="323.4" x2="414.9" y2="324.5" stroke="#5c5c5c"/><line x1="414.9" y1="324.5" x2="418.6" y2="322.8" stroke="#5c5c5c"/><line x1="418.6" y1="322.8" x2="422.4" y2="321.0" stroke="#5c5c5c"/><line x1="422.4" y1="321.0" x2="427.9" y2="322.8" stroke="#5c5c5c"/><line x1="427.9" y1="322.8" x2="433.5" y2="324.5" stroke="#5c5c5c"/><line x1="433.5" y1="324.5" x2="437.6" y2="322.6" stroke="#5c5c5c"/><line x1="437.6" y1="322.6" x2="441.7" y2="320.7" stroke="#5c5c5c"/><line x1="441.7" y1="320.7" x2="447.2" y2="321.5" stroke="#5c5c5c"/><line x1="447.2" y1="321.5" x2="452.8" y2="322.4" stroke="#5c5c5c"/><line x1="452.8" y1="322.4" x2="456.3" y2="320.1" stroke="#5c5c5c"/><line x1="456.3" y1="320.1" x2="459.8" y2="317.9" stroke="#5c5c5c"/><line x1="459.8" y1="317.9" x2="464.5" y2="320.4" stroke="#5c5c5c"/><line x1="464.5" y1="320.4" x2="469.2" y2="322.8" stroke="#5c5c5c"/><line x1="469.2" y1="322.8" x2="472.9" y2="325.2" stroke="#5c5c5c"/><line x1="472.9" y1="325.2" x2="476.7" y2="327.7" stroke="#5c5c5c"/><line x1="510.3" y1="300.9" x2="514.9" y2="304.4" stroke="#d81818"/><line x1="514.9" y1="304.4" x2="519.4" y2="307.9" stroke="#d81818"/><line x1="519.4" y1="307.9" x2="524.9" y2="307.3" stroke="#d81818"/><line x1="524.9" y1="307.3" x2="530.4" y2="306.7" stroke="#d81818"/><line x1="530.4" y1="306.7" x2="534.5" y2="311.0" stroke="#d81818"/><line x1="534.5" y1="311.0" x2="538.7" y2="315.4" stroke="#d81818"/><line x1="538.7" y1="315.4" x2="544.2" y2="314.0" stroke="#d81818"/><line x1="544.2" y1="314.0" x2="549.7" y2="312.6" stroke="#d81818"/><line x1="549.7" y1="312.6" x2="554.1" y2="316.6" stroke="#d81818"/><line x1="554.1" y1="316.6" x2="558.5" y2="320.7" stroke="#e0902a"/><line x1="558.5" y1="320.7" x2="564.0" y2="320.7" stroke="#e0902a"/><line x1="564.0" y1="320.7" x2="569.5" y2="320.7" stroke="#e0902a"/><line x1="569.5" y1="320.7" x2="573.4" y2="324.4" stroke="#e0902a"/><line x1="573.4" y1="324.4" x2="577.2" y2="328.0" stroke="#d81818"/><line x1="577.2" y1="328.0" x2="582.5" y2="327.1" stroke="#d81818"/><line x1="582.5" y1="327.1" x2="587.7" y2="326.3" stroke="#d81818"/><line x1="577.2" y1="328.0" x2="574.2" y2="331.4" stroke="#d81818"/><line x1="574.2" y1="331.4" x2="571.3" y2="334.7" stroke="#d81818"/><line x1="577.2" y1="328.0" x2="579.7" y2="333.1" stroke="#d81818"/><line x1="579.7" y1="333.1" x2="582.1" y2="338.2" stroke="#5c5c5c"/><line x1="587.7" y1="326.3" x2="589.4" y2="330.0" stroke="#d81818"/><line x1="589.4" y1="330.0" x2="591.1" y2="333.7" stroke="#5c5c5c"/><line x1="587.7" y1="326.3" x2="592.2" y2="330.4" stroke="#d81818"/><line x1="592.2" y1="330.4" x2="596.7" y2="334.5" stroke="#5c5c5c"/><line x1="476.7" y1="327.7" x2="481.9" y2="330.0" stroke="#5c5c5c"/><line x1="481.9" y1="330.0" x2="487.2" y2="332.4" stroke="#5c5c5c"/><line x1="487.2" y1="332.4" x2="491.5" y2="332.1" stroke="#5c5c5c"/><line x1="491.5" y1="332.1" x2="495.9" y2="331.9" stroke="#5c5c5c"/><line x1="495.9" y1="331.9" x2="501.4" y2="331.5" stroke="#5c5c5c"/><line x1="501.4" y1="331.5" x2="506.8" y2="331.2" stroke="#5c5c5c"/><line x1="506.8" y1="331.2" x2="510.3" y2="333.5" stroke="#5c5c5c"/><line x1="510.3" y1="333.5" x2="513.8" y2="335.9" stroke="#5c5c5c"/><line x1="513.8" y1="335.9" x2="519.0" y2="335.9" stroke="#5c5c5c"/><line x1="519.0" y1="335.9" x2="524.3" y2="335.9" stroke="#e0902a"/><line x1="524.3" y1="335.9" x2="528.5" y2="334.8" stroke="#e0902a"/><line x1="528.5" y1="334.8" x2="532.7" y2="333.6" stroke="#d81818"/><line x1="532.7" y1="333.6" x2="538.2" y2="334.5" stroke="#d81818"/><line x1="538.2" y1="334.5" x2="543.6" y2="335.4" stroke="#d81818"/><line x1="543.6" y1="335.4" x2="548.0" y2="334.5" stroke="#d81818"/><line x1="548.0" y1="334.5" x2="552.3" y2="333.6" stroke="#d81818"/><line x1="552.3" y1="333.6" x2="558.0" y2="333.9" stroke="#d81818"/><line x1="558.0" y1="333.9" x2="563.7" y2="334.2" stroke="#d81818"/><line x1="563.7" y1="334.2" x2="567.5" y2="334.4" stroke="#d81818"/><line x1="567.5" y1="334.4" x2="571.3" y2="334.7" stroke="#d81818"/><line x1="571.3" y1="334.7" x2="576.7" y2="336.4" stroke="#d81818"/><line x1="576.7" y1="336.4" x2="582.1" y2="338.2" stroke="#5c5c5c"/><line x1="582.1" y1="338.2" x2="586.6" y2="335.9" stroke="#5c5c5c"/><line x1="586.6" y1="335.9" x2="591.1" y2="333.7" stroke="#5c5c5c"/><line x1="643.3" y1="307.2" x2="643.7" y2="311.6" stroke="#5c5c5c"/><line x1="643.7" y1="311.6" x2="644.1" y2="316.1" stroke="#5c5c5c"/><line x1="644.1" y1="316.1" x2="649.7" y2="315.3" stroke="#5c5c5c"/><line x1="649.7" y1="315.3" x2="655.3" y2="314.5" stroke="#5c5c5c"/><line x1="655.3" y1="314.5" x2="657.7" y2="312.2" stroke="#5c5c5c"/><line x1="657.7" y1="312.2" x2="660.1" y2="310.0" stroke="#5c5c5c"/><line x1="660.1" y1="310.0" x2="665.8" y2="310.2" stroke="#5c5c5c"/><line x1="665.8" y1="310.2" x2="671.4" y2="310.4" stroke="#5c5c5c"/><line x1="660.1" y1="310.0" x2="664.9" y2="307.2" stroke="#5c5c5c"/><line x1="664.9" y1="307.2" x2="669.7" y2="304.5" stroke="#5c5c5c"/><line x1="671.4" y1="310.4" x2="670.5" y2="307.4" stroke="#5c5c5c"/><line x1="670.5" y1="307.4" x2="669.7" y2="304.5" stroke="#5c5c5c"/><line x1="671.4" y1="310.4" x2="675.8" y2="308.0" stroke="#5c5c5c"/><line x1="675.8" y1="308.0" x2="680.2" y2="305.6" stroke="#5c5c5c"/><line x1="671.4" y1="310.4" x2="675.8" y2="311.2" stroke="#5c5c5c"/><line x1="675.8" y1="311.2" x2="680.2" y2="312.0" stroke="#5c5c5c"/><line x1="671.4" y1="310.4" x2="672.2" y2="312.9" stroke="#5c5c5c"/><line x1="672.2" y1="312.9" x2="673.0" y2="315.3" stroke="#5c5c5c"/><line x1="669.7" y1="304.5" x2="675.0" y2="305.1" stroke="#5c5c5c"/><line x1="675.0" y1="305.1" x2="680.2" y2="305.6" stroke="#5c5c5c"/><line x1="669.7" y1="304.5" x2="671.4" y2="309.9" stroke="#5c5c5c"/><line x1="671.4" y1="309.9" x2="673.0" y2="315.3" stroke="#5c5c5c"/><line x1="680.2" y1="305.6" x2="680.2" y2="308.8" stroke="#5c5c5c"/><line x1="680.2" y1="308.8" x2="680.2" y2="312.0" stroke="#5c5c5c"/><line x1="680.2" y1="312.0" x2="676.6" y2="313.6" stroke="#5c5c5c"/><line x1="676.6" y1="313.6" x2="673.0" y2="315.3" stroke="#5c5c5c"/><line x1="591.1" y1="333.7" x2="593.9" y2="334.1" stroke="#5c5c5c"/><line x1="593.9" y1="334.1" x2="596.7" y2="334.5" stroke="#5c5c5c"/><line x1="591.1" y1="333.7" x2="596.3" y2="336.1" stroke="#5c5c5c"/><line x1="596.3" y1="336.1" x2="601.5" y2="338.5" stroke="#5c5c5c"/><line x1="596.7" y1="334.5" x2="599.1" y2="336.5" stroke="#5c5c5c"/><line x1="599.1" y1="336.5" x2="601.5" y2="338.5" stroke="#5c5c5c"/><line x1="596.7" y1="334.5" x2="597.8" y2="340.1" stroke="#5c5c5c"/><line x1="597.8" y1="340.1" x2="598.8" y2="345.8" stroke="#5c5c5c"/><line x1="601.5" y1="338.5" x2="600.1" y2="342.1" stroke="#5c5c5c"/><line x1="600.1" y1="342.1" x2="598.8" y2="345.8" stroke="#5c5c5c"/><line x1="601.5" y1="338.5" x2="606.5" y2="335.3" stroke="#5c5c5c"/><line x1="606.5" y1="335.3" x2="611.6" y2="332.1" stroke="#5c5c5c"/><line x1="598.8" y1="345.8" x2="603.0" y2="348.5" stroke="#5c5c5c"/><line x1="603.0" y1="348.5" x2="607.1" y2="351.1" stroke="#5c5c5c"/><line x1="611.6" y1="332.1" x2="617.0" y2="333.6" stroke="#5c5c5c"/><line x1="617.0" y1="333.6" x2="622.4" y2="335.0" stroke="#5c5c5c"/><line x1="622.4" y1="335.0" x2="620.2" y2="340.9" stroke="#5c5c5c"/><line x1="620.2" y1="340.9" x2="618.0" y2="346.9" stroke="#d81818"/><line x1="618.0" y1="346.9" x2="612.5" y2="349.0" stroke="#d81818"/><line x1="612.5" y1="349.0" x2="607.1" y2="351.1" stroke="#5c5c5c"/><line x1="618.0" y1="346.9" x2="622.9" y2="347.7" stroke="#d81818"/><line x1="622.9" y1="347.7" x2="627.7" y2="348.5" stroke="#d81818"/><line x1="627.7" y1="348.5" x2="632.5" y2="345.9" stroke="#d81818"/><line x1="632.5" y1="345.9" x2="637.3" y2="343.4" stroke="#d81818"/><line x1="627.7" y1="348.5" x2="632.5" y2="348.2" stroke="#d81818"/><line x1="632.5" y1="348.2" x2="637.3" y2="347.9" stroke="#5c5c5c"/><line x1="637.3" y1="343.4" x2="637.3" y2="345.6" stroke="#d81818"/><line x1="637.3" y1="345.6" x2="637.3" y2="347.9" stroke="#5c5c5c"/><line x1="637.3" y1="343.4" x2="641.3" y2="340.9" stroke="#d81818"/><line x1="641.3" y1="340.9" x2="645.3" y2="338.5" stroke="#5c5c5c"/><line x1="637.3" y1="347.9" x2="642.7" y2="347.2" stroke="#5c5c5c"/><line x1="642.7" y1="347.2" x2="648.1" y2="346.6" stroke="#d81818"/><line x1="645.3" y1="338.5" x2="646.7" y2="342.6" stroke="#5c5c5c"/><line x1="646.7" y1="342.6" x2="648.1" y2="346.6" stroke="#d81818"/><line x1="645.3" y1="338.5" x2="651.1" y2="339.5" stroke="#5c5c5c"/><line x1="651.1" y1="339.5" x2="656.9" y2="340.5" stroke="#d81818"/><line x1="648.1" y1="346.6" x2="652.5" y2="343.6" stroke="#d81818"/><line x1="652.5" y1="343.6" x2="656.9" y2="340.5" stroke="#d81818"/><line x1="656.9" y1="340.5" x2="662.1" y2="342.9" stroke="#d81818"/><line x1="662.1" y1="342.9" x2="667.3" y2="345.3" stroke="#5c5c5c"/><line x1="656.9" y1="340.5" x2="660.0" y2="345.9" stroke="#d81818"/><line x1="660.0" y1="345.9" x2="663.0" y2="351.4" stroke="#5c5c5c"/><line x1="667.3" y1="345.3" x2="665.1" y2="348.4" stroke="#5c5c5c"/><line x1="665.1" y1="348.4" x2="663.0" y2="351.4" stroke="#5c5c5c"/><line x1="667.3" y1="345.3" x2="671.0" y2="347.1" stroke="#5c5c5c"/><line x1="671.0" y1="347.1" x2="674.6" y2="349.0" stroke="#5c5c5c"/><line x1="663.0" y1="351.4" x2="668.8" y2="350.2" stroke="#5c5c5c"/><line x1="668.8" y1="350.2" x2="674.6" y2="349.0" stroke="#5c5c5c"/><line x1="674.6" y1="349.0" x2="677.2" y2="349.0" stroke="#5c5c5c"/><line x1="677.2" y1="349.0" x2="679.7" y2="349.0" stroke="#5c5c5c"/><line x1="674.6" y1="349.0" x2="677.8" y2="353.2" stroke="#5c5c5c"/><line x1="677.8" y1="353.2" x2="681.0" y2="357.4" stroke="#5c5c5c"/><line x1="679.7" y1="349.0" x2="680.4" y2="353.2" stroke="#5c5c5c"/><line x1="680.4" y1="353.2" x2="681.0" y2="357.4" stroke="#5c5c5c"/><line x1="367.6" y1="396.2" x2="373.1" y2="396.6" stroke="#5c5c5c"/><line x1="373.1" y1="396.6" x2="378.7" y2="397.0" stroke="#5c5c5c"/><line x1="378.7" y1="397.0" x2="381.9" y2="401.6" stroke="#5c5c5c"/><line x1="381.9" y1="401.6" x2="385.1" y2="406.2" stroke="#5c5c5c"/><line x1="385.1" y1="406.2" x2="390.4" y2="406.7" stroke="#5c5c5c"/><line x1="390.4" y1="406.7" x2="395.6" y2="407.2" stroke="#5c5c5c"/><line x1="395.6" y1="407.2" x2="399.9" y2="403.0" stroke="#5c5c5c"/><line x1="399.9" y1="403.0" x2="404.1" y2="398.8" stroke="#5c5c5c"/><line x1="404.1" y1="398.8" x2="409.8" y2="399.9" stroke="#5c5c5c"/><line x1="409.8" y1="399.9" x2="415.4" y2="400.9" stroke="#5c5c5c"/><line x1="415.4" y1="400.9" x2="418.9" y2="396.1" stroke="#5c5c5c"/><line x1="418.9" y1="396.1" x2="422.4" y2="391.4" stroke="#5c5c5c"/><line x1="422.4" y1="391.4" x2="428.1" y2="391.6" stroke="#5c5c5c"/><line x1="428.1" y1="391.6" x2="433.8" y2="391.8" stroke="#5c5c5c"/><line x1="452.2" y1="403.2" x2="455.7" y2="399.4" stroke="#5c5c5c"/><line x1="455.7" y1="399.4" x2="459.2" y2="395.6" stroke="#5c5c5c"/><line x1="459.2" y1="395.6" x2="465.4" y2="396.8" stroke="#5c5c5c"/><line x1="465.4" y1="396.8" x2="471.5" y2="397.9" stroke="#5c5c5c"/><line x1="459.2" y1="395.6" x2="465.9" y2="396.3" stroke="#5c5c5c"/><line x1="465.9" y1="396.3" x2="472.6" y2="397.0" stroke="#5c5c5c"/><line x1="487.5" y1="399.7" x2="491.9" y2="402.8" stroke="#5c5c5c"/><line x1="491.9" y1="402.8" x2="496.3" y2="405.8" stroke="#5c5c5c"/><line x1="496.3" y1="405.8" x2="501.8" y2="404.9" stroke="#5c5c5c"/><line x1="501.8" y1="404.9" x2="507.2" y2="403.9" stroke="#5c5c5c"/><line x1="602.0" y1="377.5" x2="606.0" y2="380.9" stroke="#d81818"/><line x1="606.0" y1="380.9" x2="610.0" y2="384.2" stroke="#d81818"/><line x1="602.0" y1="377.5" x2="596.4" y2="376.4" stroke="#d81818"/><line x1="596.4" y1="376.4" x2="590.7" y2="375.4" stroke="#d81818"/><line x1="602.0" y1="377.5" x2="599.2" y2="374.1" stroke="#d81818"/><line x1="599.2" y1="374.1" x2="596.5" y2="370.7" stroke="#5c5c5c"/><line x1="610.0" y1="384.2" x2="615.6" y2="383.9" stroke="#d81818"/><line x1="615.6" y1="383.9" x2="621.3" y2="383.6" stroke="#d81818"/><line x1="610.0" y1="384.2" x2="614.4" y2="387.9" stroke="#d81818"/><line x1="614.4" y1="387.9" x2="618.7" y2="391.6" stroke="#5c5c5c"/><line x1="621.3" y1="383.6" x2="620.0" y2="387.6" stroke="#d81818"/><line x1="620.0" y1="387.6" x2="618.7" y2="391.6" stroke="#5c5c5c"/><line x1="621.3" y1="383.6" x2="625.3" y2="388.0" stroke="#d81818"/><line x1="625.3" y1="388.0" x2="629.3" y2="392.3" stroke="#d81818"/><line x1="618.7" y1="391.6" x2="624.0" y2="392.0" stroke="#5c5c5c"/><line x1="624.0" y1="392.0" x2="629.3" y2="392.3" stroke="#d81818"/><line x1="629.3" y1="392.3" x2="634.1" y2="389.9" stroke="#d81818"/><line x1="634.1" y1="389.9" x2="638.9" y2="387.4" stroke="#5c5c5c"/><line x1="629.3" y1="392.3" x2="634.1" y2="392.9" stroke="#d81818"/><line x1="634.1" y1="392.9" x2="638.9" y2="393.5" stroke="#5c5c5c"/><line x1="638.9" y1="387.4" x2="638.9" y2="390.4" stroke="#5c5c5c"/><line x1="638.9" y1="390.4" x2="638.9" y2="393.5" stroke="#5c5c5c"/><line x1="638.9" y1="387.4" x2="642.3" y2="385.8" stroke="#5c5c5c"/><line x1="642.3" y1="385.8" x2="645.7" y2="384.2" stroke="#5c5c5c"/><line x1="638.9" y1="393.5" x2="642.3" y2="388.9" stroke="#5c5c5c"/><line x1="642.3" y1="388.9" x2="645.7" y2="384.2" stroke="#5c5c5c"/><line x1="645.7" y1="384.2" x2="649.9" y2="384.7" stroke="#5c5c5c"/><line x1="649.9" y1="384.7" x2="654.0" y2="385.2" stroke="#5c5c5c"/><line x1="654.0" y1="385.2" x2="659.6" y2="384.7" stroke="#5c5c5c"/><line x1="659.6" y1="384.7" x2="665.3" y2="384.2" stroke="#5c5c5c"/><line x1="654.0" y1="385.2" x2="658.8" y2="388.9" stroke="#5c5c5c"/><line x1="658.8" y1="388.9" x2="663.6" y2="392.7" stroke="#5c5c5c"/><line x1="665.3" y1="384.2" x2="664.5" y2="388.4" stroke="#5c5c5c"/><line x1="664.5" y1="388.4" x2="663.6" y2="392.7" stroke="#5c5c5c"/><line x1="665.3" y1="384.2" x2="670.8" y2="385.2" stroke="#5c5c5c"/><line x1="670.8" y1="385.2" x2="676.2" y2="386.3" stroke="#5c5c5c"/><line x1="665.3" y1="384.2" x2="669.1" y2="388.9" stroke="#5c5c5c"/><line x1="669.1" y1="388.9" x2="673.0" y2="393.5" stroke="#5c5c5c"/><line x1="663.6" y1="392.7" x2="668.3" y2="393.1" stroke="#5c5c5c"/><line x1="668.3" y1="393.1" x2="673.0" y2="393.5" stroke="#5c5c5c"/><line x1="676.2" y1="386.3" x2="674.6" y2="389.9" stroke="#5c5c5c"/><line x1="674.6" y1="389.9" x2="673.0" y2="393.5" stroke="#5c5c5c"/><line x1="607.1" y1="416.8" x2="612.8" y2="417.2" stroke="#5c5c5c"/><line x1="612.8" y1="417.2" x2="618.4" y2="417.6" stroke="#5c5c5c"/><line x1="607.1" y1="416.8" x2="603.2" y2="412.1" stroke="#5c5c5c"/><line x1="603.2" y1="412.1" x2="599.2" y2="407.5" stroke="#5c5c5c"/><line x1="607.1" y1="416.8" x2="604.2" y2="417.2" stroke="#5c5c5c"/><line x1="604.2" y1="417.2" x2="601.4" y2="417.7" stroke="#5c5c5c"/><line x1="484.9" y1="357.9" x2="483.5" y2="363.1" stroke="#5c5c5c"/><line x1="483.5" y1="363.1" x2="482.1" y2="368.4" stroke="#5c5c5c"/><line x1="484.9" y1="357.9" x2="490.5" y2="359.6" stroke="#5c5c5c"/><line x1="490.5" y1="359.6" x2="496.1" y2="361.4" stroke="#5c5c5c"/><line x1="484.9" y1="357.9" x2="480.7" y2="361.1" stroke="#5c5c5c"/><line x1="480.7" y1="361.1" x2="476.5" y2="364.3" stroke="#5c5c5c"/><line x1="482.1" y1="368.4" x2="479.3" y2="366.4" stroke="#5c5c5c"/><line x1="479.3" y1="366.4" x2="476.5" y2="364.3" stroke="#5c5c5c"/><line x1="496.1" y1="361.4" x2="496.1" y2="364.3" stroke="#5c5c5c"/><line x1="496.1" y1="364.3" x2="496.1" y2="367.2" stroke="#5c5c5c"/><line x1="496.1" y1="367.2" x2="499.9" y2="370.4" stroke="#5c5c5c"/><line x1="499.9" y1="370.4" x2="503.6" y2="373.5" stroke="#5c5c5c"/><line x1="503.6" y1="373.5" x2="507.5" y2="370.9" stroke="#5c5c5c"/><line x1="507.5" y1="370.9" x2="511.3" y2="368.4" stroke="#5c5c5c"/><line x1="511.3" y1="368.4" x2="515.6" y2="365.4" stroke="#5c5c5c"/><line x1="515.6" y1="365.4" x2="519.9" y2="362.5" stroke="#5c5c5c"/><line x1="519.9" y1="362.5" x2="525.5" y2="364.9" stroke="#5c5c5c"/><line x1="525.5" y1="364.9" x2="531.1" y2="367.2" stroke="#5c5c5c"/><line x1="521.8" y1="380.5" x2="527.6" y2="379.7" stroke="#5c5c5c"/><line x1="527.6" y1="379.7" x2="533.5" y2="378.9" stroke="#5c5c5c"/><line x1="531.1" y1="367.2" x2="534.6" y2="369.5" stroke="#5c5c5c"/><line x1="534.6" y1="369.5" x2="538.1" y2="371.9" stroke="#5c5c5c"/><line x1="531.1" y1="367.2" x2="532.3" y2="373.0" stroke="#5c5c5c"/><line x1="532.3" y1="373.0" x2="533.5" y2="378.9" stroke="#5c5c5c"/><line x1="538.1" y1="371.9" x2="535.8" y2="375.4" stroke="#5c5c5c"/><line x1="535.8" y1="375.4" x2="533.5" y2="378.9" stroke="#5c5c5c"/><line x1="538.1" y1="371.9" x2="544.0" y2="372.4" stroke="#5c5c5c"/><line x1="544.0" y1="372.4" x2="549.8" y2="373.0" stroke="#5c5c5c"/><line x1="549.8" y1="373.0" x2="552.8" y2="368.9" stroke="#5c5c5c"/><line x1="552.8" y1="368.9" x2="555.7" y2="364.9" stroke="#5c5c5c"/><line x1="555.7" y1="364.9" x2="561.5" y2="365.7" stroke="#5c5c5c"/><line x1="561.5" y1="365.7" x2="567.3" y2="366.5" stroke="#5c5c5c"/><line x1="567.3" y1="366.5" x2="569.0" y2="369.8" stroke="#5c5c5c"/><line x1="569.0" y1="369.8" x2="570.8" y2="373.0" stroke="#5c5c5c"/><line x1="570.8" y1="373.0" x2="576.1" y2="373.6" stroke="#5c5c5c"/><line x1="576.1" y1="373.6" x2="581.4" y2="374.2" stroke="#e0902a"/><line x1="581.4" y1="374.2" x2="586.0" y2="374.8" stroke="#e0902a"/><line x1="586.0" y1="374.8" x2="590.7" y2="375.4" stroke="#d81818"/><line x1="590.7" y1="375.4" x2="593.6" y2="373.0" stroke="#d81818"/><line x1="593.6" y1="373.0" x2="596.5" y2="370.7" stroke="#5c5c5c"/><line x1="387.2" y1="352.9" x2="383.2" y2="356.6" stroke="#5c5c5c"/><line x1="383.2" y1="356.6" x2="379.3" y2="360.4" stroke="#5c5c5c"/><line x1="387.2" y1="352.9" x2="386.3" y2="358.1" stroke="#5c5c5c"/><line x1="386.3" y1="358.1" x2="385.4" y2="363.4" stroke="#5c5c5c"/><line x1="387.2" y1="352.9" x2="391.5" y2="353.4" stroke="#5c5c5c"/><line x1="391.5" y1="353.4" x2="395.9" y2="353.8" stroke="#5c5c5c"/><line x1="379.3" y1="360.4" x2="382.4" y2="361.9" stroke="#5c5c5c"/><line x1="382.4" y1="361.9" x2="385.4" y2="363.4" stroke="#5c5c5c"/><line x1="395.9" y1="353.8" x2="401.1" y2="351.6" stroke="#5c5c5c"/><line x1="401.1" y1="351.6" x2="406.4" y2="349.4" stroke="#d81818"/><line x1="406.4" y1="349.4" x2="411.0" y2="352.0" stroke="#d81818"/><line x1="411.0" y1="352.0" x2="415.7" y2="354.6" stroke="#d81818"/><line x1="415.7" y1="354.6" x2="418.0" y2="358.6" stroke="#d81818"/><line x1="418.0" y1="358.6" x2="420.4" y2="362.5" stroke="#5c5c5c"/><line x1="415.7" y1="354.6" x2="420.9" y2="352.9" stroke="#d81818"/><line x1="420.9" y1="352.9" x2="426.2" y2="351.1" stroke="#d81818"/><line x1="420.4" y1="362.5" x2="424.8" y2="359.0" stroke="#5c5c5c"/><line x1="424.8" y1="359.0" x2="429.2" y2="355.5" stroke="#5c5c5c"/><line x1="426.2" y1="351.1" x2="427.7" y2="353.3" stroke="#d81818"/><line x1="427.7" y1="353.3" x2="429.2" y2="355.5" stroke="#5c5c5c"/><line x1="426.2" y1="351.1" x2="430.9" y2="353.5" stroke="#d81818"/><line x1="430.9" y1="353.5" x2="435.7" y2="355.9" stroke="#d81818"/><line x1="429.2" y1="355.5" x2="432.4" y2="355.7" stroke="#5c5c5c"/><line x1="432.4" y1="355.7" x2="435.7" y2="355.9" stroke="#d81818"/><line x1="435.7" y1="355.9" x2="440.6" y2="354.6" stroke="#d81818"/><line x1="440.6" y1="354.6" x2="445.5" y2="353.4" stroke="#d81818"/><line x1="435.7" y1="355.9" x2="438.3" y2="357.0" stroke="#d81818"/><line x1="438.3" y1="357.0" x2="440.9" y2="358.1" stroke="#5c5c5c"/><line x1="445.5" y1="353.4" x2="443.2" y2="355.8" stroke="#d81818"/><line x1="443.2" y1="355.8" x2="440.9" y2="358.1" stroke="#5c5c5c"/><line x1="445.5" y1="353.4" x2="451.4" y2="354.4" stroke="#d81818"/><line x1="451.4" y1="354.4" x2="457.2" y2="355.5" stroke="#5c5c5c"/><line x1="440.9" y1="358.1" x2="443.4" y2="362.5" stroke="#5c5c5c"/><line x1="443.4" y1="362.5" x2="445.8" y2="366.9" stroke="#5c5c5c"/><line x1="445.8" y1="366.9" x2="451.5" y2="367.4" stroke="#5c5c5c"/><line x1="451.5" y1="367.4" x2="457.2" y2="367.8" stroke="#5c5c5c"/><line x1="457.2" y1="355.5" x2="457.2" y2="361.6" stroke="#5c5c5c"/><line x1="457.2" y1="361.6" x2="457.2" y2="367.8" stroke="#5c5c5c"/><line x1="457.2" y1="355.5" x2="461.1" y2="357.4" stroke="#5c5c5c"/><line x1="461.1" y1="357.4" x2="465.1" y2="359.4" stroke="#5c5c5c"/><line x1="457.2" y1="367.8" x2="461.1" y2="363.6" stroke="#5c5c5c"/><line x1="461.1" y1="363.6" x2="465.1" y2="359.4" stroke="#5c5c5c"/><line x1="465.1" y1="359.4" x2="470.8" y2="361.9" stroke="#5c5c5c"/><line x1="470.8" y1="361.9" x2="476.5" y2="364.3" stroke="#5c5c5c"/><line x1="507.2" y1="403.9" x2="511.6" y2="405.4" stroke="#5c5c5c"/><line x1="511.6" y1="405.4" x2="516.0" y2="406.8" stroke="#5c5c5c"/><line x1="516.0" y1="406.8" x2="520.7" y2="409.7" stroke="#5c5c5c"/><line x1="520.7" y1="409.7" x2="525.4" y2="412.6" stroke="#5c5c5c"/><line x1="525.4" y1="412.6" x2="529.5" y2="409.9" stroke="#5c5c5c"/><line x1="529.5" y1="409.9" x2="533.5" y2="407.2" stroke="#5c5c5c"/><line x1="533.5" y1="401.0" x2="533.5" y2="404.1" stroke="#5c5c5c"/><line x1="533.5" y1="404.1" x2="533.5" y2="407.2" stroke="#5c5c5c"/><line x1="533.5" y1="401.0" x2="538.4" y2="404.6" stroke="#5c5c5c"/><line x1="538.4" y1="404.6" x2="543.2" y2="408.2" stroke="#5c5c5c"/><line x1="533.5" y1="407.2" x2="538.4" y2="407.7" stroke="#5c5c5c"/><line x1="538.4" y1="407.7" x2="543.2" y2="408.2" stroke="#5c5c5c"/><line x1="543.2" y1="408.2" x2="547.8" y2="406.0" stroke="#5c5c5c"/><line x1="547.8" y1="406.0" x2="552.4" y2="403.9" stroke="#5c5c5c"/><line x1="552.4" y1="403.9" x2="557.5" y2="405.5" stroke="#5c5c5c"/><line x1="557.5" y1="405.5" x2="562.7" y2="407.2" stroke="#5c5c5c"/><line x1="562.7" y1="407.2" x2="567.5" y2="405.1" stroke="#5c5c5c"/><line x1="567.5" y1="405.1" x2="572.2" y2="403.1" stroke="#5c5c5c"/><line x1="572.2" y1="403.1" x2="578.4" y2="403.9" stroke="#5c5c5c"/><line x1="578.4" y1="403.9" x2="584.6" y2="404.6" stroke="#5c5c5c"/><line x1="584.6" y1="404.6" x2="586.0" y2="406.6" stroke="#5c5c5c"/><line x1="586.0" y1="406.6" x2="587.5" y2="408.7" stroke="#5c5c5c"/><line x1="587.5" y1="408.7" x2="593.4" y2="408.1" stroke="#5c5c5c"/><line x1="593.4" y1="408.1" x2="599.2" y2="407.5" stroke="#5c5c5c"/><line x1="587.5" y1="408.7" x2="588.2" y2="412.9" stroke="#5c5c5c"/><line x1="588.2" y1="412.9" x2="588.9" y2="417.0" stroke="#5c5c5c"/><line x1="599.2" y1="407.5" x2="600.3" y2="412.6" stroke="#5c5c5c"/><line x1="600.3" y1="412.6" x2="601.4" y2="417.7" stroke="#5c5c5c"/><line x1="588.9" y1="417.0" x2="595.1" y2="417.4" stroke="#5c5c5c"/><line x1="595.1" y1="417.4" x2="601.4" y2="417.7" stroke="#5c5c5c"/><line x1="669.5" y1="418.0" x2="663.6" y2="418.2" stroke="#5c5c5c"/><line x1="663.6" y1="418.2" x2="657.7" y2="418.5" stroke="#5c5c5c"/><line x1="374.6" y1="261.1" x2="376.2" y2="258.1" stroke="#9a2ab8"/><line x1="376.2" y1="258.1" x2="377.8" y2="255.2" stroke="#5c5c5c"/><line x1="379.5" y1="262.5" x2="378.6" y2="258.9" stroke="#9a2ab8"/><line x1="378.6" y1="258.9" x2="377.8" y2="255.2" stroke="#5c5c5c"/><line x1="396.7" y1="265.1" x2="396.7" y2="260.5" stroke="#9a2ab8"/><line x1="396.7" y1="260.5" x2="396.7" y2="255.9" stroke="#5c5c5c"/><line x1="420.7" y1="263.9" x2="419.4" y2="259.9" stroke="#9a2ab8"/><line x1="419.4" y1="259.9" x2="418.1" y2="255.9" stroke="#5c5c5c"/><line x1="430.3" y1="259.9" x2="428.6" y2="255.8" stroke="#bdbdbd"/><line x1="428.6" y1="255.8" x2="426.8" y2="251.7" stroke="#5c5c5c"/><line x1="438.7" y1="262.2" x2="441.5" y2="265.1" stroke="#9a2ab8"/><line x1="441.5" y1="265.1" x2="444.3" y2="268.1" stroke="#5c5c5c"/><line x1="444.3" y1="277.4" x2="444.3" y2="272.8" stroke="#9a2ab8"/><line x1="444.3" y1="272.8" x2="444.3" y2="268.1" stroke="#5c5c5c"/><line x1="454.9" y1="255.5" x2="454.7" y2="259.7" stroke="#bdbdbd"/><line x1="454.7" y1="259.7" x2="454.5" y2="263.9" stroke="#5c5c5c"/><line x1="459.2" y1="255.2" x2="456.9" y2="259.5" stroke="#bdbdbd"/><line x1="456.9" y1="259.5" x2="454.5" y2="263.9" stroke="#5c5c5c"/><line x1="463.3" y1="260.8" x2="463.5" y2="263.6" stroke="#9a2ab8"/><line x1="463.5" y1="263.6" x2="463.6" y2="266.4" stroke="#5c5c5c"/><line x1="472.0" y1="263.4" x2="467.8" y2="264.9" stroke="#9a2ab8"/><line x1="467.8" y1="264.9" x2="463.6" y2="266.4" stroke="#5c5c5c"/><line x1="458.7" y1="280.9" x2="462.0" y2="279.1" stroke="#bdbdbd"/><line x1="462.0" y1="279.1" x2="465.4" y2="277.4" stroke="#5c5c5c"/><line x1="465.0" y1="283.5" x2="465.2" y2="280.4" stroke="#9a2ab8"/><line x1="465.2" y1="280.4" x2="465.4" y2="277.4" stroke="#5c5c5c"/><line x1="468.5" y1="288.8" x2="470.9" y2="285.8" stroke="#9a2ab8"/><line x1="470.9" y1="285.8" x2="473.3" y2="282.7" stroke="#5c5c5c"/><line x1="383.0" y1="301.4" x2="380.9" y2="306.1" stroke="#9a2ab8"/><line x1="380.9" y1="306.1" x2="378.7" y2="310.9" stroke="#5c5c5c"/><line x1="365.2" y1="302.8" x2="366.4" y2="306.2" stroke="#bdbdbd"/><line x1="366.4" y1="306.2" x2="367.6" y2="309.6" stroke="#5c5c5c"/><line x1="471.8" y1="262.5" x2="467.7" y2="264.4" stroke="#9a2ab8"/><line x1="467.7" y1="264.4" x2="463.6" y2="266.4" stroke="#5c5c5c"/><line x1="490.7" y1="266.9" x2="490.0" y2="266.0" stroke="#9a2ab8"/><line x1="490.0" y1="266.0" x2="489.3" y2="265.1" stroke="#5c5c5c"/><line x1="473.5" y1="270.9" x2="469.4" y2="274.1" stroke="#bdbdbd"/><line x1="469.4" y1="274.1" x2="465.4" y2="277.4" stroke="#5c5c5c"/><line x1="477.0" y1="276.2" x2="475.1" y2="279.4" stroke="#9a2ab8"/><line x1="475.1" y1="279.4" x2="473.3" y2="282.7" stroke="#5c5c5c"/><line x1="484.0" y1="283.9" x2="482.9" y2="286.5" stroke="#bdbdbd"/><line x1="482.9" y1="286.5" x2="481.9" y2="289.1" stroke="#5c5c5c"/><line x1="477.9" y1="295.8" x2="479.9" y2="292.5" stroke="#bdbdbd"/><line x1="479.9" y1="292.5" x2="481.9" y2="289.1" stroke="#5c5c5c"/><line x1="495.4" y1="286.2" x2="493.2" y2="290.1" stroke="#9a2ab8"/><line x1="493.2" y1="290.1" x2="491.0" y2="294.1" stroke="#5c5c5c"/><line x1="486.6" y1="297.6" x2="488.8" y2="295.9" stroke="#9a2ab8"/><line x1="488.8" y1="295.9" x2="491.0" y2="294.1" stroke="#5c5c5c"/><line x1="505.9" y1="292.7" x2="508.2" y2="296.2" stroke="#bdbdbd"/><line x1="508.2" y1="296.2" x2="510.6" y2="299.7" stroke="#d81818"/><line x1="512.4" y1="292.0" x2="511.5" y2="295.9" stroke="#9a2ab8"/><line x1="511.5" y1="295.9" x2="510.6" y2="299.7" stroke="#d81818"/><line x1="513.4" y1="296.7" x2="512.0" y2="298.2" stroke="#9a2ab8"/><line x1="512.0" y1="298.2" x2="510.6" y2="299.7" stroke="#d81818"/><line x1="524.0" y1="282.7" x2="525.0" y2="286.6" stroke="#bdbdbd"/><line x1="525.0" y1="286.6" x2="526.1" y2="290.5" stroke="#5c5c5c"/><line x1="522.2" y1="302.8" x2="520.8" y2="305.4" stroke="#9a2ab8"/><line x1="520.8" y1="305.4" x2="519.4" y2="307.9" stroke="#d81818"/><line x1="531.7" y1="299.7" x2="531.0" y2="303.2" stroke="#9a2ab8"/><line x1="531.0" y1="303.2" x2="530.4" y2="306.7" stroke="#d81818"/><line x1="541.5" y1="292.3" x2="539.9" y2="291.6" stroke="#9a2ab8"/><line x1="539.9" y1="291.6" x2="538.3" y2="290.9" stroke="#5c5c5c"/><line x1="541.0" y1="299.0" x2="539.6" y2="294.9" stroke="#9a2ab8"/><line x1="539.6" y1="294.9" x2="538.3" y2="290.9" stroke="#5c5c5c"/><line x1="539.7" y1="267.8" x2="540.4" y2="270.9" stroke="#9a2ab8"/><line x1="540.4" y1="270.9" x2="541.0" y2="273.9" stroke="#5c5c5c"/><line x1="548.5" y1="264.3" x2="549.1" y2="266.5" stroke="#bdbdbd"/><line x1="549.1" y1="266.5" x2="549.7" y2="268.6" stroke="#5c5c5c"/><line x1="544.5" y1="276.5" x2="542.8" y2="275.2" stroke="#bdbdbd"/><line x1="542.8" y1="275.2" x2="541.0" y2="273.9" stroke="#5c5c5c"/><line x1="541.8" y1="282.7" x2="542.7" y2="282.2" stroke="#9a2ab8"/><line x1="542.7" y1="282.2" x2="543.6" y2="281.8" stroke="#5c5c5c"/><line x1="559.3" y1="282.7" x2="557.5" y2="282.2" stroke="#9a2ab8"/><line x1="557.5" y1="282.2" x2="555.8" y2="281.8" stroke="#5c5c5c"/><line x1="558.5" y1="274.8" x2="559.4" y2="272.6" stroke="#9a2ab8"/><line x1="559.4" y1="272.6" x2="560.2" y2="270.4" stroke="#5c5c5c"/><line x1="558.5" y1="296.7" x2="559.8" y2="293.2" stroke="#bdbdbd"/><line x1="559.8" y1="293.2" x2="561.1" y2="289.7" stroke="#5c5c5c"/><line x1="566.4" y1="253.4" x2="566.8" y2="257.5" stroke="#9a2ab8"/><line x1="566.8" y1="257.5" x2="567.2" y2="261.6" stroke="#5c5c5c"/><line x1="563.2" y1="256.9" x2="565.2" y2="259.2" stroke="#bdbdbd"/><line x1="565.2" y1="259.2" x2="567.2" y2="261.6" stroke="#5c5c5c"/><line x1="573.4" y1="287.0" x2="573.2" y2="288.6" stroke="#9a2ab8"/><line x1="573.2" y1="288.6" x2="573.0" y2="290.2" stroke="#5c5c5c"/><line x1="574.2" y1="300.7" x2="573.6" y2="295.4" stroke="#9a2ab8"/><line x1="573.6" y1="295.4" x2="573.0" y2="290.2" stroke="#5c5c5c"/><line x1="580.7" y1="272.7" x2="579.5" y2="268.0" stroke="#9a2ab8"/><line x1="579.5" y1="268.0" x2="578.3" y2="263.4" stroke="#5c5c5c"/><line x1="585.3" y1="251.7" x2="585.9" y2="253.8" stroke="#bdbdbd"/><line x1="585.9" y1="253.8" x2="586.5" y2="255.9" stroke="#5c5c5c"/><line x1="578.6" y1="277.9" x2="579.5" y2="281.8" stroke="#bdbdbd"/><line x1="579.5" y1="281.8" x2="580.4" y2="285.6" stroke="#5c5c5c"/><line x1="577.2" y1="290.5" x2="575.1" y2="290.4" stroke="#9a2ab8"/><line x1="575.1" y1="290.4" x2="573.0" y2="290.2" stroke="#5c5c5c"/><line x1="552.3" y1="303.7" x2="551.0" y2="308.1" stroke="#9a2ab8"/><line x1="551.0" y1="308.1" x2="549.7" y2="312.6" stroke="#d81818"/><line x1="590.3" y1="251.7" x2="588.4" y2="253.8" stroke="#9a2ab8"/><line x1="588.4" y1="253.8" x2="586.5" y2="255.9" stroke="#5c5c5c"/><line x1="601.5" y1="251.7" x2="599.5" y2="255.8" stroke="#9a2ab8"/><line x1="599.5" y1="255.8" x2="597.5" y2="259.8" stroke="#5c5c5c"/><line x1="598.8" y1="265.9" x2="600.7" y2="266.7" stroke="#bdbdbd"/><line x1="600.7" y1="266.7" x2="602.6" y2="267.5" stroke="#5c5c5c"/><line x1="598.8" y1="274.2" x2="600.7" y2="270.9" stroke="#bdbdbd"/><line x1="600.7" y1="270.9" x2="602.6" y2="267.5" stroke="#5c5c5c"/><line x1="613.5" y1="277.9" x2="613.9" y2="273.9" stroke="#9a2ab8"/><line x1="613.9" y1="273.9" x2="614.3" y2="269.9" stroke="#5c5c5c"/><line x1="618.0" y1="272.3" x2="616.1" y2="271.1" stroke="#9a2ab8"/><line x1="616.1" y1="271.1" x2="614.3" y2="269.9" stroke="#5c5c5c"/><line x1="618.7" y1="259.1" x2="620.2" y2="260.5" stroke="#bdbdbd"/><line x1="620.2" y1="260.5" x2="621.6" y2="261.9" stroke="#5c5c5c"/><line x1="620.3" y1="257.0" x2="621.0" y2="254.6" stroke="#9a2ab8"/><line x1="621.0" y1="254.6" x2="621.6" y2="252.2" stroke="#5c5c5c"/><line x1="626.4" y1="256.6" x2="624.0" y2="254.4" stroke="#9a2ab8"/><line x1="624.0" y1="254.4" x2="621.6" y2="252.2" stroke="#5c5c5c"/><line x1="635.7" y1="257.5" x2="634.1" y2="261.3" stroke="#9a2ab8"/><line x1="634.1" y1="261.3" x2="632.5" y2="265.1" stroke="#5c5c5c"/><line x1="631.2" y1="273.9" x2="631.9" y2="269.5" stroke="#9a2ab8"/><line x1="631.9" y1="269.5" x2="632.5" y2="265.1" stroke="#5c5c5c"/><line x1="643.3" y1="259.1" x2="642.2" y2="263.1" stroke="#bdbdbd"/><line x1="642.2" y1="263.1" x2="641.2" y2="267.2" stroke="#5c5c5c"/><line x1="637.6" y1="269.1" x2="639.4" y2="268.1" stroke="#bdbdbd"/><line x1="639.4" y1="268.1" x2="641.2" y2="267.2" stroke="#5c5c5c"/><line x1="648.1" y1="282.7" x2="649.3" y2="278.1" stroke="#9a2ab8"/><line x1="649.3" y1="278.1" x2="650.5" y2="273.6" stroke="#5c5c5c"/><line x1="659.8" y1="259.5" x2="660.0" y2="264.7" stroke="#9a2ab8"/><line x1="660.0" y1="264.7" x2="660.1" y2="269.9" stroke="#5c5c5c"/><line x1="659.3" y1="272.0" x2="659.7" y2="270.9" stroke="#bdbdbd"/><line x1="659.7" y1="270.9" x2="660.1" y2="269.9" stroke="#5c5c5c"/><line x1="670.6" y1="283.9" x2="670.2" y2="279.3" stroke="#9a2ab8"/><line x1="670.2" y1="279.3" x2="669.7" y2="274.7" stroke="#5c5c5c"/><line x1="679.7" y1="260.7" x2="680.0" y2="256.7" stroke="#bdbdbd"/><line x1="680.0" y1="256.7" x2="680.2" y2="252.7" stroke="#5c5c5c"/><line x1="617.6" y1="283.2" x2="616.8" y2="288.6" stroke="#bdbdbd"/><line x1="616.8" y1="288.6" x2="616.0" y2="294.0" stroke="#5c5c5c"/><line x1="577.4" y1="291.6" x2="575.2" y2="290.9" stroke="#9a2ab8"/><line x1="575.2" y1="290.9" x2="573.0" y2="290.2" stroke="#5c5c5c"/><line x1="595.9" y1="280.7" x2="593.9" y2="284.5" stroke="#9a2ab8"/><line x1="593.9" y1="284.5" x2="591.9" y2="288.4" stroke="#5c5c5c"/><line x1="593.5" y1="299.6" x2="594.7" y2="298.8" stroke="#bdbdbd"/><line x1="594.7" y1="298.8" x2="595.9" y2="298.0" stroke="#5c5c5c"/><line x1="610.3" y1="301.5" x2="609.1" y2="301.4" stroke="#9a2ab8"/><line x1="609.1" y1="301.4" x2="607.9" y2="301.2" stroke="#5c5c5c"/><line x1="612.3" y1="289.6" x2="614.1" y2="291.8" stroke="#9a2ab8"/><line x1="614.1" y1="291.8" x2="616.0" y2="294.0" stroke="#5c5c5c"/><line x1="617.1" y1="288.4" x2="616.5" y2="291.2" stroke="#bdbdbd"/><line x1="616.5" y1="291.2" x2="616.0" y2="294.0" stroke="#5c5c5c"/><line x1="629.3" y1="293.5" x2="627.2" y2="296.4" stroke="#9a2ab8"/><line x1="627.2" y1="296.4" x2="625.1" y2="299.3" stroke="#5c5c5c"/><line x1="635.7" y1="294.5" x2="635.0" y2="298.0" stroke="#bdbdbd"/><line x1="635.0" y1="298.0" x2="634.4" y2="301.5" stroke="#5c5c5c"/><line x1="651.8" y1="290.0" x2="651.0" y2="295.6" stroke="#9a2ab8"/><line x1="651.0" y1="295.6" x2="650.2" y2="301.2" stroke="#5c5c5c"/><line x1="654.0" y1="294.0" x2="652.1" y2="297.6" stroke="#9a2ab8"/><line x1="652.1" y1="297.6" x2="650.2" y2="301.2" stroke="#5c5c5c"/><line x1="678.6" y1="297.2" x2="679.0" y2="299.6" stroke="#bdbdbd"/><line x1="679.0" y1="299.6" x2="679.4" y2="302.0" stroke="#5c5c5c"/><line x1="382.2" y1="326.6" x2="383.9" y2="323.4" stroke="#bdbdbd"/><line x1="383.9" y1="323.4" x2="385.7" y2="320.1" stroke="#5c5c5c"/><line x1="401.4" y1="311.4" x2="399.0" y2="315.5" stroke="#9a2ab8"/><line x1="399.0" y1="315.5" x2="396.7" y2="319.6" stroke="#5c5c5c"/><line x1="398.8" y1="327.2" x2="401.5" y2="324.8" stroke="#9a2ab8"/><line x1="401.5" y1="324.8" x2="404.1" y2="322.4" stroke="#5c5c5c"/><line x1="402.7" y1="315.4" x2="403.4" y2="318.9" stroke="#bdbdbd"/><line x1="403.4" y1="318.9" x2="404.1" y2="322.4" stroke="#5c5c5c"/><line x1="414.9" y1="334.7" x2="414.9" y2="329.6" stroke="#9a2ab8"/><line x1="414.9" y1="329.6" x2="414.9" y2="324.5" stroke="#5c5c5c"/><line x1="422.4" y1="313.7" x2="422.4" y2="317.4" stroke="#bdbdbd"/><line x1="422.4" y1="317.4" x2="422.4" y2="321.0" stroke="#5c5c5c"/><line x1="437.3" y1="321.0" x2="439.5" y2="320.9" stroke="#9a2ab8"/><line x1="439.5" y1="320.9" x2="441.7" y2="320.7" stroke="#5c5c5c"/><line x1="434.2" y1="335.0" x2="433.9" y2="329.8" stroke="#9a2ab8"/><line x1="433.9" y1="329.8" x2="433.5" y2="324.5" stroke="#5c5c5c"/><line x1="440.0" y1="311.4" x2="440.9" y2="316.0" stroke="#9a2ab8"/><line x1="440.9" y1="316.0" x2="441.7" y2="320.7" stroke="#5c5c5c"/><line x1="454.0" y1="332.4" x2="453.4" y2="327.4" stroke="#9a2ab8"/><line x1="453.4" y1="327.4" x2="452.8" y2="322.4" stroke="#5c5c5c"/><line x1="460.1" y1="311.4" x2="460.0" y2="314.6" stroke="#bdbdbd"/><line x1="460.0" y1="314.6" x2="459.8" y2="317.9" stroke="#5c5c5c"/><line x1="472.7" y1="315.4" x2="470.9" y2="319.1" stroke="#9a2ab8"/><line x1="470.9" y1="319.1" x2="469.2" y2="322.8" stroke="#5c5c5c"/><line x1="468.0" y1="330.1" x2="468.6" y2="326.5" stroke="#9a2ab8"/><line x1="468.6" y1="326.5" x2="469.2" y2="322.8" stroke="#5c5c5c"/><line x1="472.4" y1="333.6" x2="474.5" y2="330.6" stroke="#bdbdbd"/><line x1="474.5" y1="330.6" x2="476.7" y2="327.7" stroke="#5c5c5c"/><line x1="496.6" y1="307.9" x2="497.8" y2="304.5" stroke="#bdbdbd"/><line x1="497.8" y1="304.5" x2="498.9" y2="301.1" stroke="#d81818"/><line x1="508.9" y1="304.9" x2="509.6" y2="302.9" stroke="#bdbdbd"/><line x1="509.6" y1="302.9" x2="510.3" y2="300.9" stroke="#d81818"/><line x1="522.9" y1="305.6" x2="521.1" y2="306.8" stroke="#9a2ab8"/><line x1="521.1" y1="306.8" x2="519.4" y2="307.9" stroke="#d81818"/><line x1="517.0" y1="312.6" x2="518.2" y2="310.2" stroke="#bdbdbd"/><line x1="518.2" y1="310.2" x2="519.4" y2="307.9" stroke="#d81818"/><line x1="532.2" y1="301.8" x2="531.3" y2="304.2" stroke="#9a2ab8"/><line x1="531.3" y1="304.2" x2="530.4" y2="306.7" stroke="#d81818"/><line x1="538.0" y1="322.4" x2="538.4" y2="318.9" stroke="#bdbdbd"/><line x1="538.4" y1="318.9" x2="538.7" y2="315.4" stroke="#d81818"/><line x1="553.2" y1="312.6" x2="551.5" y2="312.6" stroke="#9a2ab8"/><line x1="551.5" y1="312.6" x2="549.7" y2="312.6" stroke="#d81818"/><line x1="555.5" y1="329.4" x2="553.9" y2="331.5" stroke="#9a2ab8"/><line x1="553.9" y1="331.5" x2="552.3" y2="333.6" stroke="#d81818"/><line x1="573.7" y1="311.9" x2="571.6" y2="316.3" stroke="#9a2ab8"/><line x1="571.6" y1="316.3" x2="569.5" y2="320.7" stroke="#e0902a"/><line x1="569.5" y1="323.1" x2="569.5" y2="321.9" stroke="#9a2ab8"/><line x1="569.5" y1="321.9" x2="569.5" y2="320.7" stroke="#e0902a"/><line x1="588.3" y1="318.4" x2="588.0" y2="322.4" stroke="#9a2ab8"/><line x1="588.0" y1="322.4" x2="587.7" y2="326.3" stroke="#d81818"/><line x1="478.8" y1="319.3" x2="477.8" y2="323.5" stroke="#9a2ab8"/><line x1="477.8" y1="323.5" x2="476.7" y2="327.7" stroke="#5c5c5c"/><line x1="473.5" y1="315.8" x2="471.4" y2="319.3" stroke="#9a2ab8"/><line x1="471.4" y1="319.3" x2="469.2" y2="322.8" stroke="#5c5c5c"/><line x1="489.3" y1="327.2" x2="488.2" y2="329.8" stroke="#9a2ab8"/><line x1="488.2" y1="329.8" x2="487.2" y2="332.4" stroke="#5c5c5c"/><line x1="486.6" y1="342.0" x2="486.9" y2="337.2" stroke="#9a2ab8"/><line x1="486.9" y1="337.2" x2="487.2" y2="332.4" stroke="#5c5c5c"/><line x1="494.2" y1="325.9" x2="495.0" y2="328.9" stroke="#bdbdbd"/><line x1="495.0" y1="328.9" x2="495.9" y2="331.9" stroke="#5c5c5c"/><line x1="492.8" y1="339.4" x2="494.4" y2="335.6" stroke="#9a2ab8"/><line x1="494.4" y1="335.6" x2="495.9" y2="331.9" stroke="#5c5c5c"/><line x1="507.7" y1="320.7" x2="507.2" y2="325.9" stroke="#9a2ab8"/><line x1="507.2" y1="325.9" x2="506.8" y2="331.2" stroke="#5c5c5c"/><line x1="507.7" y1="335.0" x2="507.2" y2="333.1" stroke="#9a2ab8"/><line x1="507.2" y1="333.1" x2="506.8" y2="331.2" stroke="#5c5c5c"/><line x1="512.9" y1="328.9" x2="509.9" y2="330.0" stroke="#9a2ab8"/><line x1="509.9" y1="330.0" x2="506.8" y2="331.2" stroke="#5c5c5c"/><line x1="510.6" y1="342.4" x2="512.2" y2="339.1" stroke="#bdbdbd"/><line x1="512.2" y1="339.1" x2="513.8" y2="335.9" stroke="#5c5c5c"/><line x1="526.4" y1="328.0" x2="525.3" y2="331.9" stroke="#9a2ab8"/><line x1="525.3" y1="331.9" x2="524.3" y2="335.9" stroke="#e0902a"/><line x1="526.4" y1="343.8" x2="525.3" y2="339.9" stroke="#9a2ab8"/><line x1="525.3" y1="339.9" x2="524.3" y2="335.9" stroke="#e0902a"/><line x1="531.3" y1="327.2" x2="532.0" y2="330.4" stroke="#bdbdbd"/><line x1="532.0" y1="330.4" x2="532.7" y2="333.6" stroke="#d81818"/><line x1="531.3" y1="338.5" x2="532.0" y2="336.1" stroke="#bdbdbd"/><line x1="532.0" y1="336.1" x2="532.7" y2="333.6" stroke="#d81818"/><line x1="545.7" y1="328.9" x2="544.7" y2="332.1" stroke="#9a2ab8"/><line x1="544.7" y1="332.1" x2="543.6" y2="335.4" stroke="#d81818"/><line x1="545.7" y1="345.2" x2="544.7" y2="340.3" stroke="#9a2ab8"/><line x1="544.7" y1="340.3" x2="543.6" y2="335.4" stroke="#d81818"/><line x1="551.5" y1="326.3" x2="551.9" y2="330.0" stroke="#bdbdbd"/><line x1="551.9" y1="330.0" x2="552.3" y2="333.6" stroke="#d81818"/><line x1="552.0" y1="339.9" x2="552.1" y2="336.8" stroke="#bdbdbd"/><line x1="552.1" y1="336.8" x2="552.3" y2="333.6" stroke="#d81818"/><line x1="565.5" y1="326.6" x2="567.5" y2="323.6" stroke="#9a2ab8"/><line x1="567.5" y1="323.6" x2="569.5" y2="320.7" stroke="#e0902a"/><line x1="564.3" y1="342.0" x2="564.0" y2="338.1" stroke="#9a2ab8"/><line x1="564.0" y1="338.1" x2="563.7" y2="334.2" stroke="#d81818"/><line x1="570.7" y1="328.0" x2="574.0" y2="328.0" stroke="#bdbdbd"/><line x1="574.0" y1="328.0" x2="577.2" y2="328.0" stroke="#d81818"/><line x1="569.0" y1="340.6" x2="570.1" y2="337.6" stroke="#bdbdbd"/><line x1="570.1" y1="337.6" x2="571.3" y2="334.7" stroke="#d81818"/><line x1="583.5" y1="335.0" x2="582.8" y2="336.6" stroke="#9a2ab8"/><line x1="582.8" y1="336.6" x2="582.1" y2="338.2" stroke="#5c5c5c"/><line x1="583.0" y1="347.3" x2="582.5" y2="342.8" stroke="#9a2ab8"/><line x1="582.5" y1="342.8" x2="582.1" y2="338.2" stroke="#5c5c5c"/><line x1="576.9" y1="335.9" x2="579.5" y2="337.0" stroke="#bdbdbd"/><line x1="579.5" y1="337.0" x2="582.1" y2="338.2" stroke="#5c5c5c"/><line x1="592.7" y1="303.2" x2="594.3" y2="300.6" stroke="#bdbdbd"/><line x1="594.3" y1="300.6" x2="595.9" y2="298.0" stroke="#5c5c5c"/><line x1="599.9" y1="307.2" x2="603.9" y2="304.2" stroke="#9a2ab8"/><line x1="603.9" y1="304.2" x2="607.9" y2="301.2" stroke="#5c5c5c"/><line x1="607.1" y1="310.4" x2="607.5" y2="305.8" stroke="#9a2ab8"/><line x1="607.5" y1="305.8" x2="607.9" y2="301.2" stroke="#5c5c5c"/><line x1="629.6" y1="306.7" x2="627.2" y2="306.9" stroke="#9a2ab8"/><line x1="627.2" y1="306.9" x2="624.8" y2="307.2" stroke="#5c5c5c"/><line x1="622.4" y1="314.5" x2="623.6" y2="310.9" stroke="#bdbdbd"/><line x1="623.6" y1="310.9" x2="624.8" y2="307.2" stroke="#5c5c5c"/><line x1="648.1" y1="307.7" x2="645.7" y2="307.4" stroke="#9a2ab8"/><line x1="645.7" y1="307.4" x2="643.3" y2="307.2" stroke="#5c5c5c"/><line x1="639.2" y1="316.1" x2="641.7" y2="316.1" stroke="#9a2ab8"/><line x1="641.7" y1="316.1" x2="644.1" y2="316.1" stroke="#5c5c5c"/><line x1="659.8" y1="317.3" x2="657.5" y2="315.9" stroke="#9a2ab8"/><line x1="657.5" y1="315.9" x2="655.3" y2="314.5" stroke="#5c5c5c"/><line x1="657.7" y1="302.9" x2="658.9" y2="306.4" stroke="#bdbdbd"/><line x1="658.9" y1="306.4" x2="660.1" y2="310.0" stroke="#5c5c5c"/><line x1="674.6" y1="306.1" x2="672.2" y2="305.3" stroke="#9a2ab8"/><line x1="672.2" y1="305.3" x2="669.7" y2="304.5" stroke="#5c5c5c"/><line x1="681.8" y1="314.5" x2="681.0" y2="313.2" stroke="#9a2ab8"/><line x1="681.0" y1="313.2" x2="680.2" y2="312.0" stroke="#5c5c5c"/><line x1="674.6" y1="320.6" x2="673.8" y2="318.0" stroke="#9a2ab8"/><line x1="673.8" y1="318.0" x2="673.0" y2="315.3" stroke="#5c5c5c"/><line x1="677.0" y1="321.2" x2="675.0" y2="318.2" stroke="#9a2ab8"/><line x1="675.0" y1="318.2" x2="673.0" y2="315.3" stroke="#5c5c5c"/><line x1="590.3" y1="321.7" x2="589.0" y2="324.0" stroke="#9a2ab8"/><line x1="589.0" y1="324.0" x2="587.7" y2="326.3" stroke="#d81818"/><line x1="594.0" y1="324.9" x2="590.9" y2="325.6" stroke="#9a2ab8"/><line x1="590.9" y1="325.6" x2="587.7" y2="326.3" stroke="#d81818"/><line x1="602.0" y1="328.9" x2="599.4" y2="331.7" stroke="#bdbdbd"/><line x1="599.4" y1="331.7" x2="596.7" y2="334.5" stroke="#5c5c5c"/><line x1="597.5" y1="342.1" x2="598.1" y2="344.0" stroke="#9a2ab8"/><line x1="598.1" y1="344.0" x2="598.8" y2="345.8" stroke="#5c5c5c"/><line x1="602.3" y1="342.1" x2="601.9" y2="340.3" stroke="#9a2ab8"/><line x1="601.9" y1="340.3" x2="601.5" y2="338.5" stroke="#5c5c5c"/><line x1="612.0" y1="324.9" x2="611.8" y2="328.5" stroke="#bdbdbd"/><line x1="611.8" y1="328.5" x2="611.6" y2="332.1" stroke="#5c5c5c"/><line x1="618.4" y1="337.3" x2="620.4" y2="336.1" stroke="#9a2ab8"/><line x1="620.4" y1="336.1" x2="622.4" y2="335.0" stroke="#5c5c5c"/><line x1="622.9" y1="337.3" x2="622.6" y2="336.1" stroke="#9a2ab8"/><line x1="622.6" y1="336.1" x2="622.4" y2="335.0" stroke="#5c5c5c"/><line x1="626.7" y1="327.3" x2="624.5" y2="331.1" stroke="#9a2ab8"/><line x1="624.5" y1="331.1" x2="622.4" y2="335.0" stroke="#5c5c5c"/><line x1="618.7" y1="351.7" x2="618.4" y2="349.3" stroke="#9a2ab8"/><line x1="618.4" y1="349.3" x2="618.0" y2="346.9" stroke="#d81818"/><line x1="607.9" y1="356.2" x2="607.5" y2="353.6" stroke="#bdbdbd"/><line x1="607.5" y1="353.6" x2="607.1" y2="351.1" stroke="#5c5c5c"/><line x1="628.0" y1="356.5" x2="627.9" y2="352.5" stroke="#bdbdbd"/><line x1="627.9" y1="352.5" x2="627.7" y2="348.5" stroke="#d81818"/><line x1="635.7" y1="334.0" x2="636.5" y2="338.7" stroke="#9a2ab8"/><line x1="636.5" y1="338.7" x2="637.3" y2="343.4" stroke="#d81818"/><line x1="640.0" y1="355.4" x2="638.6" y2="351.6" stroke="#9a2ab8"/><line x1="638.6" y1="351.6" x2="637.3" y2="347.9" stroke="#5c5c5c"/><line x1="642.1" y1="333.4" x2="643.7" y2="335.9" stroke="#bdbdbd"/><line x1="643.7" y1="335.9" x2="645.3" y2="338.5" stroke="#5c5c5c"/><line x1="648.6" y1="352.2" x2="648.4" y2="349.4" stroke="#bdbdbd"/><line x1="648.4" y1="349.4" x2="648.1" y2="346.6" stroke="#d81818"/><line x1="655.3" y1="333.7" x2="656.1" y2="337.1" stroke="#9a2ab8"/><line x1="656.1" y1="337.1" x2="656.9" y2="340.5" stroke="#d81818"/><line x1="658.5" y1="334.5" x2="657.7" y2="337.5" stroke="#9a2ab8"/><line x1="657.7" y1="337.5" x2="656.9" y2="340.5" stroke="#d81818"/><line x1="661.7" y1="335.3" x2="659.3" y2="337.9" stroke="#9a2ab8"/><line x1="659.3" y1="337.9" x2="656.9" y2="340.5" stroke="#d81818"/><line x1="671.0" y1="339.8" x2="669.1" y2="342.6" stroke="#bdbdbd"/><line x1="669.1" y1="342.6" x2="667.3" y2="345.3" stroke="#5c5c5c"/><line x1="664.1" y1="353.8" x2="663.5" y2="352.6" stroke="#9a2ab8"/><line x1="663.5" y1="352.6" x2="663.0" y2="351.4" stroke="#5c5c5c"/><line x1="658.8" y1="355.4" x2="660.9" y2="353.4" stroke="#bdbdbd"/><line x1="660.9" y1="353.4" x2="663.0" y2="351.4" stroke="#5c5c5c"/><line x1="669.7" y1="352.7" x2="672.2" y2="350.9" stroke="#9a2ab8"/><line x1="672.2" y1="350.9" x2="674.6" y2="349.0" stroke="#5c5c5c"/><line x1="680.2" y1="342.1" x2="680.0" y2="345.6" stroke="#9a2ab8"/><line x1="680.0" y1="345.6" x2="679.7" y2="349.0" stroke="#5c5c5c"/><line x1="681.0" y1="357.0" x2="681.0" y2="357.2" stroke="#9a2ab8"/><line x1="681.0" y1="357.2" x2="681.0" y2="357.4" stroke="#5c5c5c"/><line x1="366.9" y1="391.4" x2="367.2" y2="393.8" stroke="#bdbdbd"/><line x1="367.2" y1="393.8" x2="367.6" y2="396.2" stroke="#5c5c5c"/><line x1="366.4" y1="404.1" x2="367.0" y2="400.1" stroke="#bdbdbd"/><line x1="367.0" y1="400.1" x2="367.6" y2="396.2" stroke="#5c5c5c"/><line x1="362.0" y1="386.5" x2="364.8" y2="391.4" stroke="#9a2ab8"/><line x1="364.8" y1="391.4" x2="367.6" y2="396.2" stroke="#5c5c5c"/><line x1="383.4" y1="387.9" x2="381.0" y2="392.4" stroke="#9a2ab8"/><line x1="381.0" y1="392.4" x2="378.7" y2="397.0" stroke="#5c5c5c"/><line x1="377.8" y1="400.2" x2="378.2" y2="398.6" stroke="#9a2ab8"/><line x1="378.2" y1="398.6" x2="378.7" y2="397.0" stroke="#5c5c5c"/><line x1="381.3" y1="412.5" x2="383.2" y2="409.4" stroke="#bdbdbd"/><line x1="383.2" y1="409.4" x2="385.1" y2="406.2" stroke="#5c5c5c"/><line x1="395.6" y1="412.8" x2="395.6" y2="410.0" stroke="#9a2ab8"/><line x1="395.6" y1="410.0" x2="395.6" y2="407.2" stroke="#5c5c5c"/><line x1="399.1" y1="414.2" x2="397.4" y2="410.7" stroke="#9a2ab8"/><line x1="397.4" y1="410.7" x2="395.6" y2="407.2" stroke="#5c5c5c"/><line x1="401.4" y1="391.8" x2="402.8" y2="395.3" stroke="#bdbdbd"/><line x1="402.8" y1="395.3" x2="404.1" y2="398.8" stroke="#5c5c5c"/><line x1="415.4" y1="406.2" x2="415.4" y2="403.5" stroke="#9a2ab8"/><line x1="415.4" y1="403.5" x2="415.4" y2="400.9" stroke="#5c5c5c"/><line x1="419.0" y1="406.2" x2="417.2" y2="403.5" stroke="#9a2ab8"/><line x1="417.2" y1="403.5" x2="415.4" y2="400.9" stroke="#5c5c5c"/><line x1="421.6" y1="386.2" x2="422.0" y2="388.8" stroke="#bdbdbd"/><line x1="422.0" y1="388.8" x2="422.4" y2="391.4" stroke="#5c5c5c"/><line x1="438.7" y1="383.9" x2="436.2" y2="387.9" stroke="#9a2ab8"/><line x1="436.2" y1="387.9" x2="433.8" y2="391.8" stroke="#5c5c5c"/><line x1="440.8" y1="402.3" x2="446.5" y2="402.8" stroke="#9a2ab8"/><line x1="446.5" y1="402.8" x2="452.2" y2="403.2" stroke="#5c5c5c"/><line x1="453.1" y1="412.8" x2="452.6" y2="408.0" stroke="#9a2ab8"/><line x1="452.6" y1="408.0" x2="452.2" y2="403.2" stroke="#5c5c5c"/><line x1="458.4" y1="387.4" x2="458.8" y2="391.5" stroke="#bdbdbd"/><line x1="458.8" y1="391.5" x2="459.2" y2="395.6" stroke="#5c5c5c"/><line x1="476.1" y1="388.3" x2="474.4" y2="392.6" stroke="#9a2ab8"/><line x1="474.4" y1="392.6" x2="472.6" y2="397.0" stroke="#5c5c5c"/><line x1="474.4" y1="403.2" x2="472.9" y2="400.5" stroke="#9a2ab8"/><line x1="472.9" y1="400.5" x2="471.5" y2="397.9" stroke="#5c5c5c"/><line x1="496.3" y1="402.0" x2="496.3" y2="403.9" stroke="#bdbdbd"/><line x1="496.3" y1="403.9" x2="496.3" y2="405.8" stroke="#5c5c5c"/><line x1="495.4" y1="412.8" x2="495.9" y2="409.3" stroke="#bdbdbd"/><line x1="495.9" y1="409.3" x2="496.3" y2="405.8" stroke="#5c5c5c"/><line x1="607.1" y1="357.9" x2="607.1" y2="354.5" stroke="#bdbdbd"/><line x1="607.1" y1="354.5" x2="607.1" y2="351.1" stroke="#5c5c5c"/><line x1="628.0" y1="357.4" x2="627.9" y2="352.9" stroke="#bdbdbd"/><line x1="627.9" y1="352.9" x2="627.7" y2="348.5" stroke="#d81818"/><line x1="640.0" y1="356.3" x2="638.6" y2="352.1" stroke="#9a2ab8"/><line x1="638.6" y1="352.1" x2="637.3" y2="347.9" stroke="#5c5c5c"/><line x1="673.8" y1="362.2" x2="677.4" y2="359.8" stroke="#9a2ab8"/><line x1="677.4" y1="359.8" x2="681.0" y2="357.4" stroke="#5c5c5c"/><line x1="605.5" y1="369.1" x2="603.8" y2="373.3" stroke="#9a2ab8"/><line x1="603.8" y1="373.3" x2="602.0" y2="377.5" stroke="#d81818"/><line x1="601.5" y1="381.5" x2="601.8" y2="379.5" stroke="#9a2ab8"/><line x1="601.8" y1="379.5" x2="602.0" y2="377.5" stroke="#d81818"/><line x1="608.7" y1="391.1" x2="609.4" y2="387.6" stroke="#bdbdbd"/><line x1="609.4" y1="387.6" x2="610.0" y2="384.2" stroke="#d81818"/><line x1="624.8" y1="375.6" x2="623.0" y2="379.6" stroke="#9a2ab8"/><line x1="623.0" y1="379.6" x2="621.3" y2="383.6" stroke="#d81818"/><line x1="628.8" y1="379.1" x2="625.0" y2="381.4" stroke="#bdbdbd"/><line x1="625.0" y1="381.4" x2="621.3" y2="383.6" stroke="#d81818"/><line x1="627.7" y1="383.6" x2="624.5" y2="383.6" stroke="#9a2ab8"/><line x1="624.5" y1="383.6" x2="621.3" y2="383.6" stroke="#d81818"/><line x1="622.4" y1="396.4" x2="620.5" y2="394.0" stroke="#9a2ab8"/><line x1="620.5" y1="394.0" x2="618.7" y2="391.6" stroke="#5c5c5c"/><line x1="625.1" y1="398.0" x2="627.2" y2="395.1" stroke="#bdbdbd"/><line x1="627.2" y1="395.1" x2="629.3" y2="392.3" stroke="#d81818"/><line x1="642.1" y1="383.6" x2="643.9" y2="383.9" stroke="#9a2ab8"/><line x1="643.9" y1="383.9" x2="645.7" y2="384.2" stroke="#5c5c5c"/><line x1="637.6" y1="399.6" x2="638.2" y2="396.6" stroke="#9a2ab8"/><line x1="638.2" y1="396.6" x2="638.9" y2="393.5" stroke="#5c5c5c"/><line x1="644.1" y1="399.2" x2="641.5" y2="396.4" stroke="#9a2ab8"/><line x1="641.5" y1="396.4" x2="638.9" y2="393.5" stroke="#5c5c5c"/><line x1="643.7" y1="375.6" x2="644.7" y2="379.9" stroke="#9a2ab8"/><line x1="644.7" y1="379.9" x2="645.7" y2="384.2" stroke="#5c5c5c"/><line x1="649.2" y1="381.0" x2="647.5" y2="382.6" stroke="#9a2ab8"/><line x1="647.5" y1="382.6" x2="645.7" y2="384.2" stroke="#5c5c5c"/><line x1="658.5" y1="376.7" x2="656.2" y2="380.9" stroke="#9a2ab8"/><line x1="656.2" y1="380.9" x2="654.0" y2="385.2" stroke="#5c5c5c"/><line x1="652.4" y1="389.0" x2="653.2" y2="387.1" stroke="#9a2ab8"/><line x1="653.2" y1="387.1" x2="654.0" y2="385.2" stroke="#5c5c5c"/><line x1="662.5" y1="377.5" x2="663.9" y2="380.9" stroke="#bdbdbd"/><line x1="663.9" y1="380.9" x2="665.3" y2="384.2" stroke="#5c5c5c"/><line x1="660.9" y1="398.0" x2="662.2" y2="395.4" stroke="#bdbdbd"/><line x1="662.2" y1="395.4" x2="663.6" y2="392.7" stroke="#5c5c5c"/><line x1="678.6" y1="381.5" x2="677.4" y2="383.9" stroke="#9a2ab8"/><line x1="677.4" y1="383.9" x2="676.2" y2="386.3" stroke="#5c5c5c"/><line x1="670.6" y1="396.8" x2="671.8" y2="395.1" stroke="#9a2ab8"/><line x1="671.8" y1="395.1" x2="673.0" y2="393.5" stroke="#5c5c5c"/><line x1="677.0" y1="396.8" x2="675.0" y2="395.1" stroke="#9a2ab8"/><line x1="675.0" y1="395.1" x2="673.0" y2="393.5" stroke="#5c5c5c"/><line x1="677.8" y1="402.4" x2="675.4" y2="397.9" stroke="#9a2ab8"/><line x1="675.4" y1="397.9" x2="673.0" y2="393.5" stroke="#5c5c5c"/><line x1="607.9" y1="409.6" x2="607.5" y2="413.2" stroke="#bdbdbd"/><line x1="607.5" y1="413.2" x2="607.1" y2="416.8" stroke="#5c5c5c"/><line x1="621.6" y1="409.3" x2="620.0" y2="413.5" stroke="#9a2ab8"/><line x1="620.0" y1="413.5" x2="618.4" y2="417.6" stroke="#5c5c5c"/><line x1="625.6" y1="415.7" x2="622.0" y2="416.6" stroke="#9a2ab8"/><line x1="622.0" y1="416.6" x2="618.4" y2="417.6" stroke="#5c5c5c"/><line x1="483.2" y1="350.8" x2="484.0" y2="354.4" stroke="#bdbdbd"/><line x1="484.0" y1="354.4" x2="484.9" y2="357.9" stroke="#5c5c5c"/><line x1="483.2" y1="377.7" x2="482.6" y2="373.0" stroke="#9a2ab8"/><line x1="482.6" y1="373.0" x2="482.1" y2="368.4" stroke="#5c5c5c"/><line x1="497.2" y1="355.5" x2="496.6" y2="358.4" stroke="#9a2ab8"/><line x1="496.6" y1="358.4" x2="496.1" y2="361.4" stroke="#5c5c5c"/><line x1="502.6" y1="356.2" x2="499.4" y2="358.8" stroke="#9a2ab8"/><line x1="499.4" y1="358.8" x2="496.1" y2="361.4" stroke="#5c5c5c"/><line x1="501.2" y1="364.9" x2="498.6" y2="366.0" stroke="#9a2ab8"/><line x1="498.6" y1="366.0" x2="496.1" y2="367.2" stroke="#5c5c5c"/><line x1="501.9" y1="381.2" x2="502.8" y2="377.4" stroke="#bdbdbd"/><line x1="502.8" y1="377.4" x2="503.6" y2="373.5" stroke="#5c5c5c"/><line x1="512.4" y1="378.9" x2="517.1" y2="379.7" stroke="#9a2ab8"/><line x1="517.1" y1="379.7" x2="521.8" y2="380.5" stroke="#5c5c5c"/><line x1="517.1" y1="368.4" x2="514.2" y2="368.4" stroke="#9a2ab8"/><line x1="514.2" y1="368.4" x2="511.3" y2="368.4" stroke="#5c5c5c"/><line x1="518.3" y1="358.2" x2="519.1" y2="360.4" stroke="#bdbdbd"/><line x1="519.1" y1="360.4" x2="519.9" y2="362.5" stroke="#5c5c5c"/><line x1="521.8" y1="387.1" x2="521.8" y2="383.8" stroke="#bdbdbd"/><line x1="521.8" y1="383.8" x2="521.8" y2="380.5" stroke="#5c5c5c"/><line x1="535.3" y1="359.5" x2="533.2" y2="363.4" stroke="#9a2ab8"/><line x1="533.2" y1="363.4" x2="531.1" y2="367.2" stroke="#5c5c5c"/><line x1="530.0" y1="373.0" x2="530.5" y2="370.1" stroke="#9a2ab8"/><line x1="530.5" y1="370.1" x2="531.1" y2="367.2" stroke="#5c5c5c"/><line x1="535.8" y1="373.0" x2="537.0" y2="372.4" stroke="#9a2ab8"/><line x1="537.0" y1="372.4" x2="538.1" y2="371.9" stroke="#5c5c5c"/><line x1="539.3" y1="387.1" x2="536.4" y2="383.0" stroke="#9a2ab8"/><line x1="536.4" y1="383.0" x2="533.5" y2="378.9" stroke="#5c5c5c"/><line x1="549.3" y1="380.0" x2="549.5" y2="376.5" stroke="#9a2ab8"/><line x1="549.5" y1="376.5" x2="549.8" y2="373.0" stroke="#5c5c5c"/><line x1="554.5" y1="380.0" x2="552.1" y2="376.5" stroke="#9a2ab8"/><line x1="552.1" y1="376.5" x2="549.8" y2="373.0" stroke="#5c5c5c"/><line x1="554.0" y1="357.9" x2="554.9" y2="361.4" stroke="#9a2ab8"/><line x1="554.9" y1="361.4" x2="555.7" y2="364.9" stroke="#5c5c5c"/><line x1="559.6" y1="357.9" x2="557.7" y2="361.4" stroke="#9a2ab8"/><line x1="557.7" y1="361.4" x2="555.7" y2="364.9" stroke="#5c5c5c"/><line x1="572.0" y1="357.9" x2="569.6" y2="362.2" stroke="#9a2ab8"/><line x1="569.6" y1="362.2" x2="567.3" y2="366.5" stroke="#5c5c5c"/><line x1="570.8" y1="382.4" x2="570.8" y2="377.7" stroke="#9a2ab8"/><line x1="570.8" y1="377.7" x2="570.8" y2="373.0" stroke="#5c5c5c"/><line x1="584.9" y1="367.2" x2="583.1" y2="370.7" stroke="#9a2ab8"/><line x1="583.1" y1="370.7" x2="581.4" y2="374.2" stroke="#e0902a"/><line x1="583.0" y1="382.4" x2="582.2" y2="378.3" stroke="#9a2ab8"/><line x1="582.2" y1="378.3" x2="581.4" y2="374.2" stroke="#e0902a"/><line x1="584.9" y1="384.7" x2="587.8" y2="380.0" stroke="#9a2ab8"/><line x1="587.8" y1="380.0" x2="590.7" y2="375.4" stroke="#d81818"/><line x1="591.9" y1="369.5" x2="594.2" y2="370.1" stroke="#bdbdbd"/><line x1="594.2" y1="370.1" x2="596.5" y2="370.7" stroke="#5c5c5c"/><line x1="489.0" y1="389.4" x2="488.2" y2="394.5" stroke="#9a2ab8"/><line x1="488.2" y1="394.5" x2="487.5" y2="399.7" stroke="#5c5c5c"/><line x1="383.7" y1="345.9" x2="385.4" y2="349.4" stroke="#bdbdbd"/><line x1="385.4" y1="349.4" x2="387.2" y2="352.9" stroke="#5c5c5c"/><line x1="392.4" y1="349.4" x2="394.1" y2="351.6" stroke="#9a2ab8"/><line x1="394.1" y1="351.6" x2="395.9" y2="353.8" stroke="#5c5c5c"/><line x1="377.5" y1="364.3" x2="378.4" y2="362.4" stroke="#9a2ab8"/><line x1="378.4" y1="362.4" x2="379.3" y2="360.4" stroke="#5c5c5c"/><line x1="386.3" y1="370.9" x2="385.9" y2="367.1" stroke="#9a2ab8"/><line x1="385.9" y1="367.1" x2="385.4" y2="363.4" stroke="#5c5c5c"/><line x1="396.8" y1="363.9" x2="396.4" y2="358.9" stroke="#9a2ab8"/><line x1="396.4" y1="358.9" x2="395.9" y2="353.8" stroke="#5c5c5c"/><line x1="405.9" y1="344.1" x2="406.1" y2="346.8" stroke="#bdbdbd"/><line x1="406.1" y1="346.8" x2="406.4" y2="349.4" stroke="#d81818"/><line x1="407.3" y1="358.1" x2="406.9" y2="353.8" stroke="#bdbdbd"/><line x1="406.9" y1="353.8" x2="406.4" y2="349.4" stroke="#d81818"/><line x1="414.3" y1="364.3" x2="417.4" y2="363.4" stroke="#9a2ab8"/><line x1="417.4" y1="363.4" x2="420.4" y2="362.5" stroke="#5c5c5c"/><line x1="421.0" y1="368.7" x2="420.7" y2="365.6" stroke="#9a2ab8"/><line x1="420.7" y1="365.6" x2="420.4" y2="362.5" stroke="#5c5c5c"/><line x1="426.9" y1="344.7" x2="426.5" y2="347.9" stroke="#bdbdbd"/><line x1="426.5" y1="347.9" x2="426.2" y2="351.1" stroke="#d81818"/><line x1="435.7" y1="366.4" x2="438.3" y2="362.2" stroke="#9a2ab8"/><line x1="438.3" y1="362.2" x2="440.9" y2="358.1" stroke="#5c5c5c"/><line x1="445.0" y1="345.9" x2="445.2" y2="349.6" stroke="#bdbdbd"/><line x1="445.2" y1="349.6" x2="445.5" y2="353.4" stroke="#d81818"/><line x1="445.8" y1="349.4" x2="445.6" y2="351.4" stroke="#9a2ab8"/><line x1="445.6" y1="351.4" x2="445.5" y2="353.4" stroke="#d81818"/><line x1="444.1" y1="373.0" x2="445.0" y2="369.9" stroke="#bdbdbd"/><line x1="445.0" y1="369.9" x2="445.8" y2="366.9" stroke="#5c5c5c"/><line x1="459.0" y1="346.4" x2="458.1" y2="350.9" stroke="#9a2ab8"/><line x1="458.1" y1="350.9" x2="457.2" y2="355.5" stroke="#5c5c5c"/><line x1="460.7" y1="362.5" x2="462.9" y2="360.9" stroke="#9a2ab8"/><line x1="462.9" y1="360.9" x2="465.1" y2="359.4" stroke="#5c5c5c"/><line x1="459.0" y1="376.5" x2="458.1" y2="372.1" stroke="#9a2ab8"/><line x1="458.1" y1="372.1" x2="457.2" y2="367.8" stroke="#5c5c5c"/><line x1="465.5" y1="353.4" x2="465.3" y2="356.4" stroke="#bdbdbd"/><line x1="465.3" y1="356.4" x2="465.1" y2="359.4" stroke="#5c5c5c"/><line x1="474.8" y1="373.9" x2="478.5" y2="371.1" stroke="#9a2ab8"/><line x1="478.5" y1="371.1" x2="482.1" y2="368.4" stroke="#5c5c5c"/><line x1="510.1" y1="395.5" x2="508.6" y2="399.7" stroke="#9a2ab8"/><line x1="508.6" y1="399.7" x2="507.2" y2="403.9" stroke="#5c5c5c"/><line x1="508.6" y1="399.9" x2="507.9" y2="401.9" stroke="#9a2ab8"/><line x1="507.9" y1="401.9" x2="507.2" y2="403.9" stroke="#5c5c5c"/><line x1="508.6" y1="410.4" x2="507.9" y2="407.1" stroke="#9a2ab8"/><line x1="507.9" y1="407.1" x2="507.2" y2="403.9" stroke="#5c5c5c"/><line x1="514.0" y1="409.0" x2="515.0" y2="407.9" stroke="#bdbdbd"/><line x1="515.0" y1="407.9" x2="516.0" y2="406.8" stroke="#5c5c5c"/><line x1="518.9" y1="399.9" x2="517.5" y2="403.4" stroke="#bdbdbd"/><line x1="517.5" y1="403.4" x2="516.0" y2="406.8" stroke="#5c5c5c"/><line x1="529.5" y1="415.1" x2="527.5" y2="413.9" stroke="#9a2ab8"/><line x1="527.5" y1="413.9" x2="525.4" y2="412.6" stroke="#5c5c5c"/><line x1="524.0" y1="419.2" x2="524.7" y2="415.9" stroke="#9a2ab8"/><line x1="524.7" y1="415.9" x2="525.4" y2="412.6" stroke="#5c5c5c"/><line x1="532.7" y1="395.1" x2="533.1" y2="398.1" stroke="#9a2ab8"/><line x1="533.1" y1="398.1" x2="533.5" y2="401.0" stroke="#5c5c5c"/><line x1="536.4" y1="400.5" x2="535.0" y2="400.8" stroke="#9a2ab8"/><line x1="535.0" y1="400.8" x2="533.5" y2="401.0" stroke="#5c5c5c"/><line x1="528.4" y1="405.8" x2="531.0" y2="406.5" stroke="#bdbdbd"/><line x1="531.0" y1="406.5" x2="533.5" y2="407.2" stroke="#5c5c5c"/><line x1="543.2" y1="413.4" x2="543.2" y2="410.8" stroke="#9a2ab8"/><line x1="543.2" y1="410.8" x2="543.2" y2="408.2" stroke="#5c5c5c"/><line x1="543.2" y1="416.3" x2="543.2" y2="412.2" stroke="#9a2ab8"/><line x1="543.2" y1="412.2" x2="543.2" y2="408.2" stroke="#5c5c5c"/><line x1="546.6" y1="418.5" x2="544.9" y2="413.4" stroke="#9a2ab8"/><line x1="544.9" y1="413.4" x2="543.2" y2="408.2" stroke="#5c5c5c"/><line x1="551.7" y1="395.5" x2="552.0" y2="399.7" stroke="#bdbdbd"/><line x1="552.0" y1="399.7" x2="552.4" y2="403.9" stroke="#5c5c5c"/><line x1="565.1" y1="406.8" x2="563.9" y2="407.0" stroke="#9a2ab8"/><line x1="563.9" y1="407.0" x2="562.7" y2="407.2" stroke="#5c5c5c"/><line x1="564.1" y1="414.8" x2="563.4" y2="411.0" stroke="#9a2ab8"/><line x1="563.4" y1="411.0" x2="562.7" y2="407.2" stroke="#5c5c5c"/><line x1="571.4" y1="396.1" x2="571.8" y2="399.6" stroke="#bdbdbd"/><line x1="571.8" y1="399.6" x2="572.2" y2="403.1" stroke="#5c5c5c"/><line x1="585.0" y1="403.9" x2="584.8" y2="404.2" stroke="#9a2ab8"/><line x1="584.8" y1="404.2" x2="584.6" y2="404.6" stroke="#5c5c5c"/><line x1="590.4" y1="401.0" x2="587.5" y2="402.8" stroke="#9a2ab8"/><line x1="587.5" y1="402.8" x2="584.6" y2="404.6" stroke="#5c5c5c"/><line x1="603.1" y1="399.5" x2="601.2" y2="403.5" stroke="#9a2ab8"/><line x1="601.2" y1="403.5" x2="599.2" y2="407.5" stroke="#5c5c5c"/><line x1="657.0" y1="410.5" x2="657.4" y2="414.5" stroke="#bdbdbd"/><line x1="657.4" y1="414.5" x2="657.7" y2="418.5" stroke="#5c5c5c"/><line x1="661.0" y1="412.5" x2="659.4" y2="415.5" stroke="#bdbdbd"/><line x1="659.4" y1="415.5" x2="657.7" y2="418.5" stroke="#5c5c5c"/><line x1="678.2" y1="416.7" x2="673.9" y2="417.4" stroke="#bdbdbd"/><line x1="673.9" y1="417.4" x2="669.5" y2="418.0" stroke="#5c5c5c"/><line x1="672.6" y1="410.5" x2="671.0" y2="414.2" stroke="#9a2ab8"/><line x1="671.0" y1="414.2" x2="669.5" y2="418.0" stroke="#5c5c5c"/></g>
<circle cx="430.3" cy="259.9" r="1.55" fill="url(#gH)"/>
<circle cx="454.9" cy="255.5" r="1.55" fill="url(#gH)"/>
<circle cx="459.2" cy="255.2" r="1.55" fill="url(#gH)"/>
<circle cx="458.7" cy="280.9" r="1.55" fill="url(#gH)"/>
<circle cx="430.3" cy="280.0" r="1.55" fill="url(#gH)"/>
<circle cx="430.0" cy="293.2" r="1.55" fill="url(#gH)"/>
<circle cx="365.2" cy="302.8" r="1.55" fill="url(#gH)"/>
<circle cx="473.5" cy="270.9" r="1.55" fill="url(#gH)"/>
<circle cx="484.0" cy="283.9" r="1.55" fill="url(#gH)"/>
<circle cx="477.9" cy="295.8" r="1.55" fill="url(#gH)"/>
<circle cx="505.9" cy="292.7" r="1.55" fill="url(#gH)"/>
<circle cx="524.0" cy="282.7" r="1.55" fill="url(#gH)"/>
<circle cx="526.1" cy="276.2" r="1.55" fill="url(#gH)"/>
<circle cx="548.5" cy="264.3" r="1.55" fill="url(#gH)"/>
<circle cx="544.5" cy="276.5" r="1.55" fill="url(#gH)"/>
<circle cx="558.5" cy="296.7" r="1.55" fill="url(#gH)"/>
<circle cx="563.2" cy="256.9" r="1.55" fill="url(#gH)"/>
<circle cx="585.3" cy="251.7" r="1.55" fill="url(#gH)"/>
<circle cx="578.6" cy="277.9" r="1.55" fill="url(#gH)"/>
<circle cx="598.8" cy="265.9" r="1.55" fill="url(#gH)"/>
<circle cx="598.8" cy="274.2" r="1.55" fill="url(#gH)"/>
<circle cx="618.7" cy="259.1" r="1.55" fill="url(#gH)"/>
<circle cx="608.7" cy="255.0" r="1.55" fill="url(#gH)"/>
<circle cx="643.3" cy="259.1" r="1.55" fill="url(#gH)"/>
<circle cx="637.6" cy="269.1" r="1.55" fill="url(#gH)"/>
<circle cx="659.3" cy="272.0" r="1.55" fill="url(#gH)"/>
<circle cx="679.7" cy="260.7" r="1.55" fill="url(#gH)"/>
<circle cx="648.1" cy="255.9" r="1.55" fill="url(#gH)"/>
<circle cx="617.6" cy="283.2" r="1.55" fill="url(#gH)"/>
<circle cx="637.6" cy="281.9" r="1.55" fill="url(#gH)"/>
<circle cx="593.5" cy="299.6" r="1.55" fill="url(#gH)"/>
<circle cx="617.1" cy="288.4" r="1.55" fill="url(#gH)"/>
<circle cx="635.7" cy="294.5" r="1.55" fill="url(#gH)"/>
<circle cx="678.6" cy="297.2" r="1.55" fill="url(#gH)"/>
<circle cx="382.2" cy="326.6" r="1.55" fill="url(#gH)"/>
<circle cx="402.7" cy="315.4" r="1.55" fill="url(#gH)"/>
<circle cx="422.4" cy="313.7" r="1.55" fill="url(#gH)"/>
<circle cx="460.1" cy="311.4" r="1.55" fill="url(#gH)"/>
<circle cx="472.4" cy="333.6" r="1.55" fill="url(#gH)"/>
<circle cx="496.6" cy="307.9" r="1.55" fill="url(#gH)"/>
<circle cx="508.9" cy="304.9" r="1.55" fill="url(#gH)"/>
<circle cx="517.0" cy="312.6" r="1.55" fill="url(#gH)"/>
<circle cx="538.0" cy="322.4" r="1.55" fill="url(#gH)"/>
<circle cx="494.2" cy="325.9" r="1.55" fill="url(#gH)"/>
<circle cx="510.6" cy="342.4" r="1.55" fill="url(#gH)"/>
<circle cx="531.3" cy="327.2" r="1.55" fill="url(#gH)"/>
<circle cx="531.3" cy="338.5" r="1.55" fill="url(#gH)"/>
<circle cx="551.5" cy="326.3" r="1.55" fill="url(#gH)"/>
<circle cx="552.0" cy="339.9" r="1.55" fill="url(#gH)"/>
<circle cx="570.7" cy="328.0" r="1.55" fill="url(#gH)"/>
<circle cx="569.0" cy="340.6" r="1.55" fill="url(#gH)"/>
<circle cx="576.9" cy="335.9" r="1.55" fill="url(#gH)"/>
<circle cx="592.7" cy="303.2" r="1.55" fill="url(#gH)"/>
<circle cx="622.4" cy="314.5" r="1.55" fill="url(#gH)"/>
<circle cx="657.7" cy="302.9" r="1.55" fill="url(#gH)"/>
<circle cx="602.0" cy="328.9" r="1.55" fill="url(#gH)"/>
<circle cx="612.0" cy="324.9" r="1.55" fill="url(#gH)"/>
<circle cx="607.9" cy="356.2" r="1.55" fill="url(#gH)"/>
<circle cx="628.0" cy="356.5" r="1.55" fill="url(#gH)"/>
<circle cx="642.1" cy="333.4" r="1.55" fill="url(#gH)"/>
<circle cx="648.6" cy="352.2" r="1.55" fill="url(#gH)"/>
<circle cx="671.0" cy="339.8" r="1.55" fill="url(#gH)"/>
<circle cx="658.8" cy="355.4" r="1.55" fill="url(#gH)"/>
<circle cx="366.9" cy="391.4" r="1.55" fill="url(#gH)"/>
<circle cx="366.4" cy="404.1" r="1.55" fill="url(#gH)"/>
<circle cx="381.3" cy="412.5" r="1.55" fill="url(#gH)"/>
<circle cx="401.4" cy="391.8" r="1.55" fill="url(#gH)"/>
<circle cx="421.6" cy="386.2" r="1.55" fill="url(#gH)"/>
<circle cx="435.9" cy="408.4" r="1.55" fill="url(#gH)"/>
<circle cx="458.4" cy="387.4" r="1.55" fill="url(#gH)"/>
<circle cx="496.3" cy="402.0" r="1.55" fill="url(#gH)"/>
<circle cx="495.4" cy="412.8" r="1.55" fill="url(#gH)"/>
<circle cx="607.1" cy="357.9" r="1.55" fill="url(#gH)"/>
<circle cx="628.0" cy="357.4" r="1.55" fill="url(#gH)"/>
<circle cx="608.7" cy="391.1" r="1.55" fill="url(#gH)"/>
<circle cx="628.8" cy="379.1" r="1.55" fill="url(#gH)"/>
<circle cx="625.1" cy="398.0" r="1.55" fill="url(#gH)"/>
<circle cx="662.5" cy="377.5" r="1.55" fill="url(#gH)"/>
<circle cx="660.9" cy="398.0" r="1.55" fill="url(#gH)"/>
<circle cx="607.9" cy="409.6" r="1.55" fill="url(#gH)"/>
<circle cx="483.2" cy="350.8" r="1.55" fill="url(#gH)"/>
<circle cx="501.9" cy="381.2" r="1.55" fill="url(#gH)"/>
<circle cx="518.3" cy="358.2" r="1.55" fill="url(#gH)"/>
<circle cx="521.8" cy="387.1" r="1.55" fill="url(#gH)"/>
<circle cx="577.9" cy="361.8" r="1.55" fill="url(#gH)"/>
<circle cx="591.9" cy="369.5" r="1.55" fill="url(#gH)"/>
<circle cx="383.7" cy="345.9" r="1.55" fill="url(#gH)"/>
<circle cx="405.9" cy="344.1" r="1.55" fill="url(#gH)"/>
<circle cx="407.3" cy="358.1" r="1.55" fill="url(#gH)"/>
<circle cx="426.9" cy="344.7" r="1.55" fill="url(#gH)"/>
<circle cx="445.0" cy="345.9" r="1.55" fill="url(#gH)"/>
<circle cx="444.1" cy="373.0" r="1.55" fill="url(#gH)"/>
<circle cx="465.5" cy="353.4" r="1.55" fill="url(#gH)"/>
<circle cx="370.5" cy="369.2" r="1.55" fill="url(#gH)"/>
<circle cx="514.0" cy="409.0" r="1.55" fill="url(#gH)"/>
<circle cx="518.9" cy="399.9" r="1.55" fill="url(#gH)"/>
<circle cx="528.4" cy="405.8" r="1.55" fill="url(#gH)"/>
<circle cx="551.7" cy="395.5" r="1.55" fill="url(#gH)"/>
<circle cx="571.4" cy="396.1" r="1.55" fill="url(#gH)"/>
<circle cx="657.0" cy="410.5" r="1.55" fill="url(#gH)"/>
<circle cx="661.0" cy="412.5" r="1.55" fill="url(#gH)"/>
<circle cx="642.8" cy="414.9" r="1.55" fill="url(#gH)"/>
<circle cx="678.2" cy="416.7" r="1.55" fill="url(#gH)"/>
<circle cx="681.0" cy="418.5" r="1.55" fill="url(#gH)"/>
<circle cx="374.6" cy="261.1" r="1.95" fill="url(#gF)"/>
<circle cx="379.5" cy="262.5" r="1.95" fill="url(#gF)"/>
<circle cx="396.7" cy="265.1" r="1.95" fill="url(#gF)"/>
<circle cx="420.7" cy="263.9" r="1.95" fill="url(#gF)"/>
<circle cx="438.7" cy="262.2" r="1.95" fill="url(#gF)"/>
<circle cx="444.3" cy="277.4" r="1.95" fill="url(#gF)"/>
<circle cx="448.7" cy="282.7" r="1.95" fill="url(#gF)"/>
<circle cx="463.3" cy="260.8" r="1.95" fill="url(#gF)"/>
<circle cx="472.0" cy="263.4" r="1.95" fill="url(#gF)"/>
<circle cx="465.0" cy="283.5" r="1.95" fill="url(#gF)"/>
<circle cx="468.5" cy="288.8" r="1.95" fill="url(#gF)"/>
<circle cx="408.4" cy="287.9" r="1.95" fill="url(#gF)"/>
<circle cx="469.8" cy="298.4" r="1.95" fill="url(#gF)"/>
<circle cx="383.0" cy="301.4" r="1.95" fill="url(#gF)"/>
<circle cx="471.8" cy="262.5" r="1.95" fill="url(#gF)"/>
<circle cx="490.7" cy="266.9" r="1.95" fill="url(#gF)"/>
<circle cx="511.7" cy="260.4" r="1.95" fill="url(#gF)"/>
<circle cx="534.8" cy="251.1" r="1.95" fill="url(#gF)"/>
<circle cx="477.0" cy="276.2" r="1.95" fill="url(#gF)"/>
<circle cx="470.9" cy="298.4" r="1.95" fill="url(#gF)"/>
<circle cx="495.4" cy="286.2" r="1.95" fill="url(#gF)"/>
<circle cx="486.6" cy="297.6" r="1.95" fill="url(#gF)"/>
<circle cx="512.4" cy="292.0" r="1.95" fill="url(#gF)"/>
<circle cx="513.4" cy="296.7" r="1.95" fill="url(#gF)"/>
<circle cx="522.2" cy="302.8" r="1.95" fill="url(#gF)"/>
<circle cx="531.7" cy="299.7" r="1.95" fill="url(#gF)"/>
<circle cx="541.5" cy="292.3" r="1.95" fill="url(#gF)"/>
<circle cx="541.0" cy="299.0" r="1.95" fill="url(#gF)"/>
<circle cx="539.7" cy="267.8" r="1.95" fill="url(#gF)"/>
<circle cx="541.8" cy="282.7" r="1.95" fill="url(#gF)"/>
<circle cx="559.3" cy="282.7" r="1.95" fill="url(#gF)"/>
<circle cx="558.5" cy="274.8" r="1.95" fill="url(#gF)"/>
<circle cx="566.4" cy="253.4" r="1.95" fill="url(#gF)"/>
<circle cx="573.4" cy="287.0" r="1.95" fill="url(#gF)"/>
<circle cx="574.2" cy="300.7" r="1.95" fill="url(#gF)"/>
<circle cx="580.7" cy="272.7" r="1.95" fill="url(#gF)"/>
<circle cx="577.2" cy="290.5" r="1.95" fill="url(#gF)"/>
<circle cx="552.3" cy="303.7" r="1.95" fill="url(#gF)"/>
<circle cx="590.3" cy="251.7" r="1.95" fill="url(#gF)"/>
<circle cx="601.5" cy="251.7" r="1.95" fill="url(#gF)"/>
<circle cx="613.5" cy="277.9" r="1.95" fill="url(#gF)"/>
<circle cx="618.0" cy="272.3" r="1.95" fill="url(#gF)"/>
<circle cx="620.3" cy="257.0" r="1.95" fill="url(#gF)"/>
<circle cx="626.4" cy="256.6" r="1.95" fill="url(#gF)"/>
<circle cx="635.7" cy="257.5" r="1.95" fill="url(#gF)"/>
<circle cx="631.2" cy="273.9" r="1.95" fill="url(#gF)"/>
<circle cx="648.1" cy="282.7" r="1.95" fill="url(#gF)"/>
<circle cx="659.8" cy="259.5" r="1.95" fill="url(#gF)"/>
<circle cx="670.6" cy="283.9" r="1.95" fill="url(#gF)"/>
<circle cx="663.0" cy="252.7" r="1.95" fill="url(#gF)"/>
<circle cx="577.4" cy="291.6" r="1.95" fill="url(#gF)"/>
<circle cx="595.9" cy="280.7" r="1.95" fill="url(#gF)"/>
<circle cx="610.3" cy="301.5" r="1.95" fill="url(#gF)"/>
<circle cx="612.3" cy="289.6" r="1.95" fill="url(#gF)"/>
<circle cx="629.3" cy="293.5" r="1.95" fill="url(#gF)"/>
<circle cx="651.8" cy="290.0" r="1.95" fill="url(#gF)"/>
<circle cx="654.0" cy="294.0" r="1.95" fill="url(#gF)"/>
<circle cx="401.4" cy="311.4" r="1.95" fill="url(#gF)"/>
<circle cx="398.8" cy="327.2" r="1.95" fill="url(#gF)"/>
<circle cx="414.9" cy="334.7" r="1.95" fill="url(#gF)"/>
<circle cx="437.3" cy="321.0" r="1.95" fill="url(#gF)"/>
<circle cx="434.2" cy="335.0" r="1.95" fill="url(#gF)"/>
<circle cx="440.0" cy="311.4" r="1.95" fill="url(#gF)"/>
<circle cx="454.0" cy="332.4" r="1.95" fill="url(#gF)"/>
<circle cx="472.7" cy="315.4" r="1.95" fill="url(#gF)"/>
<circle cx="468.0" cy="330.1" r="1.95" fill="url(#gF)"/>
<circle cx="362.4" cy="325.9" r="1.95" fill="url(#gF)"/>
<circle cx="522.9" cy="305.6" r="1.95" fill="url(#gF)"/>
<circle cx="532.2" cy="301.8" r="1.95" fill="url(#gF)"/>
<circle cx="553.2" cy="312.6" r="1.95" fill="url(#gF)"/>
<circle cx="555.5" cy="329.4" r="1.95" fill="url(#gF)"/>
<circle cx="573.7" cy="311.9" r="1.95" fill="url(#gF)"/>
<circle cx="569.5" cy="323.1" r="1.95" fill="url(#gF)"/>
<circle cx="588.3" cy="318.4" r="1.95" fill="url(#gF)"/>
<circle cx="478.8" cy="319.3" r="1.95" fill="url(#gF)"/>
<circle cx="473.5" cy="315.8" r="1.95" fill="url(#gF)"/>
<circle cx="489.3" cy="327.2" r="1.95" fill="url(#gF)"/>
<circle cx="486.6" cy="342.0" r="1.95" fill="url(#gF)"/>
<circle cx="492.8" cy="339.4" r="1.95" fill="url(#gF)"/>
<circle cx="507.7" cy="320.7" r="1.95" fill="url(#gF)"/>
<circle cx="507.7" cy="335.0" r="1.95" fill="url(#gF)"/>
<circle cx="512.9" cy="328.9" r="1.95" fill="url(#gF)"/>
<circle cx="526.4" cy="328.0" r="1.95" fill="url(#gF)"/>
<circle cx="526.4" cy="343.8" r="1.95" fill="url(#gF)"/>
<circle cx="545.7" cy="328.9" r="1.95" fill="url(#gF)"/>
<circle cx="545.7" cy="345.2" r="1.95" fill="url(#gF)"/>
<circle cx="565.5" cy="326.6" r="1.95" fill="url(#gF)"/>
<circle cx="564.3" cy="342.0" r="1.95" fill="url(#gF)"/>
<circle cx="583.5" cy="335.0" r="1.95" fill="url(#gF)"/>
<circle cx="583.0" cy="347.3" r="1.95" fill="url(#gF)"/>
<circle cx="599.9" cy="307.2" r="1.95" fill="url(#gF)"/>
<circle cx="607.1" cy="310.4" r="1.95" fill="url(#gF)"/>
<circle cx="629.6" cy="306.7" r="1.95" fill="url(#gF)"/>
<circle cx="648.1" cy="307.7" r="1.95" fill="url(#gF)"/>
<circle cx="639.2" cy="316.1" r="1.95" fill="url(#gF)"/>
<circle cx="659.8" cy="317.3" r="1.95" fill="url(#gF)"/>
<circle cx="674.6" cy="306.1" r="1.95" fill="url(#gF)"/>
<circle cx="681.8" cy="314.5" r="1.95" fill="url(#gF)"/>
<circle cx="674.6" cy="320.6" r="1.95" fill="url(#gF)"/>
<circle cx="677.0" cy="321.2" r="1.95" fill="url(#gF)"/>
<circle cx="590.3" cy="321.7" r="1.95" fill="url(#gF)"/>
<circle cx="594.0" cy="324.9" r="1.95" fill="url(#gF)"/>
<circle cx="597.5" cy="342.1" r="1.95" fill="url(#gF)"/>
<circle cx="602.3" cy="342.1" r="1.95" fill="url(#gF)"/>
<circle cx="618.4" cy="337.3" r="1.95" fill="url(#gF)"/>
<circle cx="622.9" cy="337.3" r="1.95" fill="url(#gF)"/>
<circle cx="626.7" cy="327.3" r="1.95" fill="url(#gF)"/>
<circle cx="618.7" cy="351.7" r="1.95" fill="url(#gF)"/>
<circle cx="635.7" cy="334.0" r="1.95" fill="url(#gF)"/>
<circle cx="640.0" cy="355.4" r="1.95" fill="url(#gF)"/>
<circle cx="655.3" cy="333.7" r="1.95" fill="url(#gF)"/>
<circle cx="658.5" cy="334.5" r="1.95" fill="url(#gF)"/>
<circle cx="661.7" cy="335.3" r="1.95" fill="url(#gF)"/>
<circle cx="664.1" cy="353.8" r="1.95" fill="url(#gF)"/>
<circle cx="669.7" cy="352.7" r="1.95" fill="url(#gF)"/>
<circle cx="680.2" cy="342.1" r="1.95" fill="url(#gF)"/>
<circle cx="681.0" cy="357.0" r="1.95" fill="url(#gF)"/>
<circle cx="362.0" cy="386.5" r="1.95" fill="url(#gF)"/>
<circle cx="383.4" cy="387.9" r="1.95" fill="url(#gF)"/>
<circle cx="377.8" cy="400.2" r="1.95" fill="url(#gF)"/>
<circle cx="395.6" cy="412.8" r="1.95" fill="url(#gF)"/>
<circle cx="399.1" cy="414.2" r="1.95" fill="url(#gF)"/>
<circle cx="415.4" cy="406.2" r="1.95" fill="url(#gF)"/>
<circle cx="419.0" cy="406.2" r="1.95" fill="url(#gF)"/>
<circle cx="438.7" cy="383.9" r="1.95" fill="url(#gF)"/>
<circle cx="440.8" cy="402.3" r="1.95" fill="url(#gF)"/>
<circle cx="453.1" cy="412.8" r="1.95" fill="url(#gF)"/>
<circle cx="430.3" cy="419.0" r="1.95" fill="url(#gF)"/>
<circle cx="464.5" cy="419.8" r="1.95" fill="url(#gF)"/>
<circle cx="476.1" cy="388.3" r="1.95" fill="url(#gF)"/>
<circle cx="474.4" cy="403.2" r="1.95" fill="url(#gF)"/>
<circle cx="640.0" cy="356.3" r="1.95" fill="url(#gF)"/>
<circle cx="673.8" cy="362.2" r="1.95" fill="url(#gF)"/>
<circle cx="605.5" cy="369.1" r="1.95" fill="url(#gF)"/>
<circle cx="613.5" cy="371.1" r="1.95" fill="url(#gF)"/>
<circle cx="601.5" cy="381.5" r="1.95" fill="url(#gF)"/>
<circle cx="624.8" cy="375.6" r="1.95" fill="url(#gF)"/>
<circle cx="627.7" cy="383.6" r="1.95" fill="url(#gF)"/>
<circle cx="622.4" cy="396.4" r="1.95" fill="url(#gF)"/>
<circle cx="642.1" cy="383.6" r="1.95" fill="url(#gF)"/>
<circle cx="637.6" cy="399.6" r="1.95" fill="url(#gF)"/>
<circle cx="644.1" cy="399.2" r="1.95" fill="url(#gF)"/>
<circle cx="643.7" cy="375.6" r="1.95" fill="url(#gF)"/>
<circle cx="649.2" cy="381.0" r="1.95" fill="url(#gF)"/>
<circle cx="658.5" cy="376.7" r="1.95" fill="url(#gF)"/>
<circle cx="652.4" cy="389.0" r="1.95" fill="url(#gF)"/>
<circle cx="678.6" cy="381.5" r="1.95" fill="url(#gF)"/>
<circle cx="670.6" cy="396.8" r="1.95" fill="url(#gF)"/>
<circle cx="677.0" cy="396.8" r="1.95" fill="url(#gF)"/>
<circle cx="677.8" cy="402.4" r="1.95" fill="url(#gF)"/>
<circle cx="621.6" cy="409.3" r="1.95" fill="url(#gF)"/>
<circle cx="625.6" cy="415.7" r="1.95" fill="url(#gF)"/>
<circle cx="483.2" cy="377.7" r="1.95" fill="url(#gF)"/>
<circle cx="497.2" cy="355.5" r="1.95" fill="url(#gF)"/>
<circle cx="502.6" cy="356.2" r="1.95" fill="url(#gF)"/>
<circle cx="501.2" cy="364.9" r="1.95" fill="url(#gF)"/>
<circle cx="512.4" cy="378.9" r="1.95" fill="url(#gF)"/>
<circle cx="517.1" cy="368.4" r="1.95" fill="url(#gF)"/>
<circle cx="535.3" cy="359.5" r="1.95" fill="url(#gF)"/>
<circle cx="530.0" cy="373.0" r="1.95" fill="url(#gF)"/>
<circle cx="535.8" cy="373.0" r="1.95" fill="url(#gF)"/>
<circle cx="539.3" cy="387.1" r="1.95" fill="url(#gF)"/>
<circle cx="549.3" cy="380.0" r="1.95" fill="url(#gF)"/>
<circle cx="554.5" cy="380.0" r="1.95" fill="url(#gF)"/>
<circle cx="554.0" cy="357.9" r="1.95" fill="url(#gF)"/>
<circle cx="559.6" cy="357.9" r="1.95" fill="url(#gF)"/>
<circle cx="572.0" cy="357.9" r="1.95" fill="url(#gF)"/>
<circle cx="570.8" cy="382.4" r="1.95" fill="url(#gF)"/>
<circle cx="584.9" cy="367.2" r="1.95" fill="url(#gF)"/>
<circle cx="583.0" cy="382.4" r="1.95" fill="url(#gF)"/>
<circle cx="584.9" cy="384.7" r="1.95" fill="url(#gF)"/>
<circle cx="489.0" cy="389.4" r="1.95" fill="url(#gF)"/>
<circle cx="372.3" cy="344.7" r="1.95" fill="url(#gF)"/>
<circle cx="368.4" cy="354.6" r="1.95" fill="url(#gF)"/>
<circle cx="392.4" cy="349.4" r="1.95" fill="url(#gF)"/>
<circle cx="377.5" cy="364.3" r="1.95" fill="url(#gF)"/>
<circle cx="386.3" cy="370.9" r="1.95" fill="url(#gF)"/>
<circle cx="396.8" cy="363.9" r="1.95" fill="url(#gF)"/>
<circle cx="414.3" cy="364.3" r="1.95" fill="url(#gF)"/>
<circle cx="421.0" cy="368.7" r="1.95" fill="url(#gF)"/>
<circle cx="435.7" cy="366.4" r="1.95" fill="url(#gF)"/>
<circle cx="445.8" cy="349.4" r="1.95" fill="url(#gF)"/>
<circle cx="459.0" cy="346.4" r="1.95" fill="url(#gF)"/>
<circle cx="460.7" cy="362.5" r="1.95" fill="url(#gF)"/>
<circle cx="459.0" cy="376.5" r="1.95" fill="url(#gF)"/>
<circle cx="474.8" cy="373.9" r="1.95" fill="url(#gF)"/>
<circle cx="403.4" cy="375.7" r="1.95" fill="url(#gF)"/>
<circle cx="510.1" cy="395.5" r="1.95" fill="url(#gF)"/>
<circle cx="508.6" cy="399.9" r="1.95" fill="url(#gF)"/>
<circle cx="508.6" cy="410.4" r="1.95" fill="url(#gF)"/>
<circle cx="529.5" cy="415.1" r="1.95" fill="url(#gF)"/>
<circle cx="524.0" cy="419.2" r="1.95" fill="url(#gF)"/>
<circle cx="532.7" cy="395.1" r="1.95" fill="url(#gF)"/>
<circle cx="536.4" cy="400.5" r="1.95" fill="url(#gF)"/>
<circle cx="543.2" cy="413.4" r="1.95" fill="url(#gF)"/>
<circle cx="543.2" cy="416.3" r="1.95" fill="url(#gF)"/>
<circle cx="546.6" cy="418.5" r="1.95" fill="url(#gF)"/>
<circle cx="565.1" cy="406.8" r="1.95" fill="url(#gF)"/>
<circle cx="564.1" cy="414.8" r="1.95" fill="url(#gF)"/>
<circle cx="585.0" cy="403.9" r="1.95" fill="url(#gF)"/>
<circle cx="590.4" cy="401.0" r="1.95" fill="url(#gF)"/>
<circle cx="603.1" cy="399.5" r="1.95" fill="url(#gF)"/>
<circle cx="637.2" cy="419.5" r="1.95" fill="url(#gF)"/>
<circle cx="672.6" cy="410.5" r="1.95" fill="url(#gF)"/>
<circle cx="435.6" cy="262.5" r="2.10" fill="url(#gK)"/>
<circle cx="528.7" cy="255.9" r="2.10" fill="url(#gK)"/>
<circle cx="547.4" cy="258.1" r="2.10" fill="url(#gK)"/>
<circle cx="506.4" cy="274.8" r="2.10" fill="url(#gK)"/>
<circle cx="531.0" cy="273.4" r="2.10" fill="url(#gK)"/>
<circle cx="564.6" cy="276.9" r="2.10" fill="url(#gK)"/>
<circle cx="586.5" cy="299.7" r="2.10" fill="url(#gK)"/>
<circle cx="601.0" cy="261.1" r="2.10" fill="url(#gK)"/>
<circle cx="659.8" cy="257.5" r="2.10" fill="url(#gK)"/>
<circle cx="640.0" cy="298.8" r="2.10" fill="url(#gK)"/>
<circle cx="421.6" cy="324.2" r="2.10" fill="url(#gK)"/>
<circle cx="450.0" cy="315.8" r="2.10" fill="url(#gK)"/>
<circle cx="429.5" cy="310.9" r="2.10" fill="url(#gK)"/>
<circle cx="604.7" cy="308.0" r="2.10" fill="url(#gK)"/>
<circle cx="624.0" cy="306.4" r="2.10" fill="url(#gK)"/>
<circle cx="642.4" cy="323.8" r="2.10" fill="url(#gK)"/>
<circle cx="437.3" cy="395.6" r="2.10" fill="url(#gK)"/>
<circle cx="455.7" cy="387.4" r="2.10" fill="url(#gK)"/>
<circle cx="475.3" cy="391.8" r="2.10" fill="url(#gK)"/>
<circle cx="486.6" cy="406.2" r="2.10" fill="url(#gK)"/>
<circle cx="607.1" cy="378.8" r="2.10" fill="url(#gK)"/>
<circle cx="363.5" cy="350.3" r="2.10" fill="url(#gK)"/>
<circle cx="456.7" cy="361.7" r="2.10" fill="url(#gK)"/>
<circle cx="561.9" cy="417.0" r="2.10" fill="url(#gK)"/>
<circle cx="377.8" cy="255.2" r="2.60" fill="url(#gC)"/>
<circle cx="387.4" cy="251.7" r="2.60" fill="url(#gC)"/>
<circle cx="396.7" cy="255.9" r="2.60" fill="url(#gC)"/>
<circle cx="407.6" cy="252.4" r="2.60" fill="url(#gC)"/>
<circle cx="418.1" cy="255.9" r="2.60" fill="url(#gC)"/>
<circle cx="426.8" cy="251.7" r="2.60" fill="url(#gC)"/>
<circle cx="437.0" cy="252.9" r="2.60" fill="url(#gC)"/>
<circle cx="444.3" cy="268.1" r="2.60" fill="url(#gC)"/>
<circle cx="454.5" cy="263.9" r="2.60" fill="url(#gC)"/>
<circle cx="463.6" cy="266.4" r="2.60" fill="url(#gC)"/>
<circle cx="465.4" cy="277.4" r="2.60" fill="url(#gC)"/>
<circle cx="473.3" cy="282.7" r="2.60" fill="url(#gC)"/>
<circle cx="489.3" cy="265.1" r="2.60" fill="url(#gC)"/>
<circle cx="481.9" cy="289.1" r="2.60" fill="url(#gC)"/>
<circle cx="491.0" cy="294.1" r="2.60" fill="url(#gC)"/>
<circle cx="498.9" cy="301.1" r="2.60" fill="url(#gR)"/>
<circle cx="510.6" cy="299.7" r="2.60" fill="url(#gR)"/>
<circle cx="519.9" cy="296.7" r="2.60" fill="url(#gC)"/>
<circle cx="526.1" cy="290.5" r="2.60" fill="url(#gC)"/>
<circle cx="538.3" cy="290.9" r="2.60" fill="url(#gC)"/>
<circle cx="541.0" cy="273.9" r="2.60" fill="url(#gC)"/>
<circle cx="549.7" cy="268.6" r="2.60" fill="url(#gC)"/>
<circle cx="543.6" cy="281.8" r="2.60" fill="url(#gC)"/>
<circle cx="555.8" cy="281.8" r="2.60" fill="url(#gC)"/>
<circle cx="560.2" cy="270.4" r="2.60" fill="url(#gC)"/>
<circle cx="561.1" cy="289.7" r="2.60" fill="url(#gC)"/>
<circle cx="567.2" cy="261.6" r="2.60" fill="url(#gC)"/>
<circle cx="573.0" cy="290.2" r="2.60" fill="url(#gC)"/>
<circle cx="578.3" cy="263.4" r="2.60" fill="url(#gC)"/>
<circle cx="586.5" cy="255.9" r="2.60" fill="url(#gC)"/>
<circle cx="580.4" cy="285.6" r="2.60" fill="url(#gC)"/>
<circle cx="577.4" cy="263.5" r="2.60" fill="url(#gC)"/>
<circle cx="597.5" cy="259.8" r="2.60" fill="url(#gC)"/>
<circle cx="602.6" cy="267.5" r="2.60" fill="url(#gC)"/>
<circle cx="614.3" cy="269.9" r="2.60" fill="url(#gC)"/>
<circle cx="621.6" cy="261.9" r="2.60" fill="url(#gC)"/>
<circle cx="621.6" cy="252.2" r="2.60" fill="url(#gC)"/>
<circle cx="632.5" cy="265.1" r="2.60" fill="url(#gC)"/>
<circle cx="641.2" cy="267.2" r="2.60" fill="url(#gC)"/>
<circle cx="650.5" cy="273.6" r="2.60" fill="url(#gC)"/>
<circle cx="660.1" cy="269.9" r="2.60" fill="url(#gC)"/>
<circle cx="669.7" cy="274.7" r="2.60" fill="url(#gC)"/>
<circle cx="680.2" cy="269.9" r="2.60" fill="url(#gC)"/>
<circle cx="680.2" cy="252.7" r="2.60" fill="url(#gC)"/>
<circle cx="591.9" cy="288.4" r="2.60" fill="url(#gC)"/>
<circle cx="595.9" cy="298.0" r="2.60" fill="url(#gC)"/>
<circle cx="607.9" cy="301.2" r="2.60" fill="url(#gC)"/>
<circle cx="616.0" cy="294.0" r="2.60" fill="url(#gC)"/>
<circle cx="625.1" cy="299.3" r="2.60" fill="url(#gC)"/>
<circle cx="634.4" cy="301.5" r="2.60" fill="url(#gC)"/>
<circle cx="650.2" cy="301.2" r="2.60" fill="url(#gC)"/>
<circle cx="669.7" cy="301.2" r="2.60" fill="url(#gC)"/>
<circle cx="679.4" cy="302.0" r="2.60" fill="url(#gC)"/>
<circle cx="367.6" cy="309.6" r="2.60" fill="url(#gC)"/>
<circle cx="378.7" cy="310.9" r="2.60" fill="url(#gC)"/>
<circle cx="385.7" cy="320.1" r="2.60" fill="url(#gC)"/>
<circle cx="396.7" cy="319.6" r="2.60" fill="url(#gC)"/>
<circle cx="404.1" cy="322.4" r="2.60" fill="url(#gC)"/>
<circle cx="414.9" cy="324.5" r="2.60" fill="url(#gC)"/>
<circle cx="422.4" cy="321.0" r="2.60" fill="url(#gC)"/>
<circle cx="433.5" cy="324.5" r="2.60" fill="url(#gC)"/>
<circle cx="441.7" cy="320.7" r="2.60" fill="url(#gC)"/>
<circle cx="452.8" cy="322.4" r="2.60" fill="url(#gC)"/>
<circle cx="459.8" cy="317.9" r="2.60" fill="url(#gC)"/>
<circle cx="469.2" cy="322.8" r="2.60" fill="url(#gC)"/>
<circle cx="510.3" cy="300.9" r="2.60" fill="url(#gR)"/>
<circle cx="519.4" cy="307.9" r="2.60" fill="url(#gR)"/>
<circle cx="530.4" cy="306.7" r="2.60" fill="url(#gR)"/>
<circle cx="538.7" cy="315.4" r="2.60" fill="url(#gR)"/>
<circle cx="549.7" cy="312.6" r="2.60" fill="url(#gR)"/>
<circle cx="558.5" cy="320.7" r="2.50" fill="url(#gO)"/>
<circle cx="569.5" cy="320.7" r="2.50" fill="url(#gO)"/>
<circle cx="577.2" cy="328.0" r="2.60" fill="url(#gR)"/>
<circle cx="587.7" cy="326.3" r="2.60" fill="url(#gR)"/>
<circle cx="476.7" cy="327.7" r="2.60" fill="url(#gC)"/>
<circle cx="487.2" cy="332.4" r="2.60" fill="url(#gC)"/>
<circle cx="495.9" cy="331.9" r="2.60" fill="url(#gC)"/>
<circle cx="506.8" cy="331.2" r="2.60" fill="url(#gC)"/>
<circle cx="513.8" cy="335.9" r="2.60" fill="url(#gC)"/>
<circle cx="524.3" cy="335.9" r="2.50" fill="url(#gO)"/>
<circle cx="532.7" cy="333.6" r="2.60" fill="url(#gR)"/>
<circle cx="543.6" cy="335.4" r="2.60" fill="url(#gR)"/>
<circle cx="552.3" cy="333.6" r="2.60" fill="url(#gR)"/>
<circle cx="563.7" cy="334.2" r="2.60" fill="url(#gR)"/>
<circle cx="571.3" cy="334.7" r="2.60" fill="url(#gR)"/>
<circle cx="582.1" cy="338.2" r="2.60" fill="url(#gC)"/>
<circle cx="624.8" cy="307.2" r="2.60" fill="url(#gC)"/>
<circle cx="643.3" cy="307.2" r="2.60" fill="url(#gC)"/>
<circle cx="644.1" cy="316.1" r="2.60" fill="url(#gC)"/>
<circle cx="655.3" cy="314.5" r="2.60" fill="url(#gC)"/>
<circle cx="660.1" cy="310.0" r="2.60" fill="url(#gC)"/>
<circle cx="671.4" cy="310.4" r="2.60" fill="url(#gC)"/>
<circle cx="669.7" cy="304.5" r="2.60" fill="url(#gC)"/>
<circle cx="680.2" cy="305.6" r="2.60" fill="url(#gC)"/>
<circle cx="680.2" cy="312.0" r="2.60" fill="url(#gC)"/>
<circle cx="673.0" cy="315.3" r="2.60" fill="url(#gC)"/>
<circle cx="591.1" cy="333.7" r="2.60" fill="url(#gC)"/>
<circle cx="596.7" cy="334.5" r="2.60" fill="url(#gC)"/>
<circle cx="601.5" cy="338.5" r="2.60" fill="url(#gC)"/>
<circle cx="598.8" cy="345.8" r="2.60" fill="url(#gC)"/>
<circle cx="611.6" cy="332.1" r="2.60" fill="url(#gC)"/>
<circle cx="622.4" cy="335.0" r="2.60" fill="url(#gC)"/>
<circle cx="618.0" cy="346.9" r="2.60" fill="url(#gR)"/>
<circle cx="607.1" cy="351.1" r="2.60" fill="url(#gC)"/>
<circle cx="627.7" cy="348.5" r="2.60" fill="url(#gR)"/>
<circle cx="637.3" cy="343.4" r="2.60" fill="url(#gR)"/>
<circle cx="637.3" cy="347.9" r="2.60" fill="url(#gC)"/>
<circle cx="645.3" cy="338.5" r="2.60" fill="url(#gC)"/>
<circle cx="648.1" cy="346.6" r="2.60" fill="url(#gR)"/>
<circle cx="656.9" cy="340.5" r="2.60" fill="url(#gR)"/>
<circle cx="667.3" cy="345.3" r="2.60" fill="url(#gC)"/>
<circle cx="663.0" cy="351.4" r="2.60" fill="url(#gC)"/>
<circle cx="674.6" cy="349.0" r="2.60" fill="url(#gC)"/>
<circle cx="679.7" cy="349.0" r="2.60" fill="url(#gC)"/>
<circle cx="367.6" cy="396.2" r="2.60" fill="url(#gC)"/>
<circle cx="378.7" cy="397.0" r="2.60" fill="url(#gC)"/>
<circle cx="385.1" cy="406.2" r="2.60" fill="url(#gC)"/>
<circle cx="395.6" cy="407.2" r="2.60" fill="url(#gC)"/>
<circle cx="404.1" cy="398.8" r="2.60" fill="url(#gC)"/>
<circle cx="415.4" cy="400.9" r="2.60" fill="url(#gC)"/>
<circle cx="422.4" cy="391.4" r="2.60" fill="url(#gC)"/>
<circle cx="433.8" cy="391.8" r="2.60" fill="url(#gC)"/>
<circle cx="452.2" cy="403.2" r="2.60" fill="url(#gC)"/>
<circle cx="459.2" cy="395.6" r="2.60" fill="url(#gC)"/>
<circle cx="471.5" cy="397.9" r="2.60" fill="url(#gC)"/>
<circle cx="412.8" cy="418.1" r="2.60" fill="url(#gC)"/>
<circle cx="472.6" cy="397.0" r="2.60" fill="url(#gC)"/>
<circle cx="487.5" cy="399.7" r="2.60" fill="url(#gC)"/>
<circle cx="496.3" cy="405.8" r="2.60" fill="url(#gC)"/>
<circle cx="681.0" cy="357.4" r="2.60" fill="url(#gC)"/>
<circle cx="602.0" cy="377.5" r="2.60" fill="url(#gR)"/>
<circle cx="610.0" cy="384.2" r="2.60" fill="url(#gR)"/>
<circle cx="621.3" cy="383.6" r="2.60" fill="url(#gR)"/>
<circle cx="618.7" cy="391.6" r="2.60" fill="url(#gC)"/>
<circle cx="629.3" cy="392.3" r="2.60" fill="url(#gR)"/>
<circle cx="638.9" cy="387.4" r="2.60" fill="url(#gC)"/>
<circle cx="638.9" cy="393.5" r="2.60" fill="url(#gC)"/>
<circle cx="645.7" cy="384.2" r="2.60" fill="url(#gC)"/>
<circle cx="654.0" cy="385.2" r="2.60" fill="url(#gC)"/>
<circle cx="665.3" cy="384.2" r="2.60" fill="url(#gC)"/>
<circle cx="663.6" cy="392.7" r="2.60" fill="url(#gC)"/>
<circle cx="676.2" cy="386.3" r="2.60" fill="url(#gC)"/>
<circle cx="673.0" cy="393.5" r="2.60" fill="url(#gC)"/>
<circle cx="607.1" cy="416.8" r="2.60" fill="url(#gC)"/>
<circle cx="618.4" cy="417.6" r="2.60" fill="url(#gC)"/>
<circle cx="484.9" cy="357.9" r="2.60" fill="url(#gC)"/>
<circle cx="482.1" cy="368.4" r="2.60" fill="url(#gC)"/>
<circle cx="496.1" cy="361.4" r="2.60" fill="url(#gC)"/>
<circle cx="496.1" cy="367.2" r="2.60" fill="url(#gC)"/>
<circle cx="503.6" cy="373.5" r="2.60" fill="url(#gC)"/>
<circle cx="511.3" cy="368.4" r="2.60" fill="url(#gC)"/>
<circle cx="519.9" cy="362.5" r="2.60" fill="url(#gC)"/>
<circle cx="521.8" cy="380.5" r="2.60" fill="url(#gC)"/>
<circle cx="531.1" cy="367.2" r="2.60" fill="url(#gC)"/>
<circle cx="538.1" cy="371.9" r="2.60" fill="url(#gC)"/>
<circle cx="533.5" cy="378.9" r="2.60" fill="url(#gC)"/>
<circle cx="549.8" cy="373.0" r="2.60" fill="url(#gC)"/>
<circle cx="555.7" cy="364.9" r="2.60" fill="url(#gC)"/>
<circle cx="567.3" cy="366.5" r="2.60" fill="url(#gC)"/>
<circle cx="570.8" cy="373.0" r="2.60" fill="url(#gC)"/>
<circle cx="581.4" cy="374.2" r="2.50" fill="url(#gO)"/>
<circle cx="590.7" cy="375.4" r="2.60" fill="url(#gR)"/>
<circle cx="596.5" cy="370.7" r="2.60" fill="url(#gC)"/>
<circle cx="387.2" cy="352.9" r="2.60" fill="url(#gC)"/>
<circle cx="379.3" cy="360.4" r="2.60" fill="url(#gC)"/>
<circle cx="385.4" cy="363.4" r="2.60" fill="url(#gC)"/>
<circle cx="395.9" cy="353.8" r="2.60" fill="url(#gC)"/>
<circle cx="406.4" cy="349.4" r="2.60" fill="url(#gR)"/>
<circle cx="415.7" cy="354.6" r="2.60" fill="url(#gR)"/>
<circle cx="420.4" cy="362.5" r="2.60" fill="url(#gC)"/>
<circle cx="426.2" cy="351.1" r="2.60" fill="url(#gR)"/>
<circle cx="429.2" cy="355.5" r="2.60" fill="url(#gC)"/>
<circle cx="435.7" cy="355.9" r="2.60" fill="url(#gR)"/>
<circle cx="445.5" cy="353.4" r="2.60" fill="url(#gR)"/>
<circle cx="440.9" cy="358.1" r="2.60" fill="url(#gC)"/>
<circle cx="445.8" cy="366.9" r="2.60" fill="url(#gC)"/>
<circle cx="457.2" cy="355.5" r="2.60" fill="url(#gC)"/>
<circle cx="457.2" cy="367.8" r="2.60" fill="url(#gC)"/>
<circle cx="465.1" cy="359.4" r="2.60" fill="url(#gC)"/>
<circle cx="476.5" cy="364.3" r="2.60" fill="url(#gC)"/>
<circle cx="507.2" cy="403.9" r="2.60" fill="url(#gC)"/>
<circle cx="516.0" cy="406.8" r="2.60" fill="url(#gC)"/>
<circle cx="525.4" cy="412.6" r="2.60" fill="url(#gC)"/>
<circle cx="533.5" cy="401.0" r="2.60" fill="url(#gC)"/>
<circle cx="533.5" cy="407.2" r="2.60" fill="url(#gC)"/>
<circle cx="543.2" cy="408.2" r="2.60" fill="url(#gC)"/>
<circle cx="552.4" cy="403.9" r="2.60" fill="url(#gC)"/>
<circle cx="562.7" cy="407.2" r="2.60" fill="url(#gC)"/>
<circle cx="572.2" cy="403.1" r="2.60" fill="url(#gC)"/>
<circle cx="584.6" cy="404.6" r="2.60" fill="url(#gC)"/>
<circle cx="587.5" cy="408.7" r="2.60" fill="url(#gC)"/>
<circle cx="599.2" cy="407.5" r="2.60" fill="url(#gC)"/>
<circle cx="588.9" cy="417.0" r="2.60" fill="url(#gC)"/>
<circle cx="601.4" cy="417.7" r="2.60" fill="url(#gC)"/>
<circle cx="669.5" cy="418.0" r="2.60" fill="url(#gC)"/>
<circle cx="657.7" cy="418.5" r="2.60" fill="url(#gC)"/>
</g>
<polyline points="38.50,8.00 88.42,209.00 138.34,8.00 188.26,209.00 238.18,8.00 288.10,209.00" fill="none" stroke="#bf98ea" stroke-width="1.1" />
<polyline points="39.00,42.16 39.30,43.77 39.60,42.23 39.90,42.47 40.20,42.46 40.50,45.25 40.80,49.32 41.10,49.17 41.40,51.74 41.70,51.37 42.00,52.97 42.30,53.81 42.60,51.21 42.90,57.79 43.20,58.35 43.50,59.62 43.80,56.24 44.10,57.33 44.40,60.32 44.70,62.40 45.00,65.22 45.30,65.67 45.60,68.06 45.90,66.81 46.20,70.00 46.50,71.38 46.80,70.36 47.10,76.55 47.40,75.30 47.70,77.84 48.00,75.22 48.30,76.16 48.60,78.19 48.90,79.88 49.20,82.63 49.50,82.83 49.80,82.28 50.10,82.12 50.40,83.95 50.70,88.51 51.00,85.16 51.30,88.28 51.60,89.58 51.90,86.46 52.20,90.60 52.50,94.16 52.80,88.09 53.10,92.56 53.40,93.92 53.70,93.34 54.00,97.01 54.30,96.74 54.60,94.71 54.90,100.43 55.20,100.91 55.50,102.24 55.80,104.03 56.10,102.51 56.40,102.75 56.70,100.52 57.00,105.29 57.30,103.47 57.60,104.55 57.90,103.59 58.20,104.97 58.50,106.63 58.80,111.21 59.10,104.98 59.40,106.94 59.70,111.25 60.00,114.53 60.30,113.46 60.60,109.01 60.90,108.46 61.20,115.40 61.50,114.08 61.80,114.25 62.10,119.62 62.40,120.86 62.70,119.85 63.00,121.01 63.30,122.38 63.60,125.79 63.90,124.71 64.20,125.48 64.50,126.51 64.80,123.04 65.10,130.00 65.40,130.29 65.70,130.37 66.00,126.08 66.30,129.87 66.60,133.95 66.90,129.35 67.20,133.74 67.50,137.26 67.80,133.36 68.10,140.49 68.40,139.26 68.70,138.77 69.00,140.76 69.30,142.44 69.60,142.32 69.90,145.46 70.20,142.66 70.50,144.17 70.80,148.22 71.10,147.08 71.40,146.16 71.70,150.99 72.00,153.07 72.30,150.05 72.60,149.08 72.90,152.69 73.20,153.65 73.50,154.33 73.80,158.90 74.10,154.78 74.40,160.53 74.70,156.07 75.00,157.93 75.30,161.76 75.60,163.65 75.90,163.93 76.20,163.70 76.50,164.13 76.80,165.00 77.10,166.73 77.40,166.00 77.70,167.81 78.00,169.28 78.30,168.92 78.60,171.38 78.90,171.81 79.20,175.69 79.50,173.00 79.80,172.27 80.10,173.23 80.40,174.73 80.70,177.39 81.00,175.44 81.30,177.65 81.60,181.39 81.90,172.83 82.20,176.55 82.50,180.11 82.80,181.13 83.10,181.49 83.40,180.77 83.70,183.75 84.00,183.53 84.30,182.34 84.60,189.04 84.90,185.19 85.20,183.78 85.50,185.24 85.80,185.48 86.10,186.32 86.40,181.22 86.70,186.43 87.00,190.08 87.30,186.01 87.60,188.82 87.90,191.47 88.20,191.39 88.50,192.09 88.80,184.76 89.10,186.96 89.40,186.35 89.70,187.75 90.00,188.10 90.30,179.55 90.60,186.84 90.90,180.88 91.20,184.72 91.50,179.53 91.80,182.40 92.10,183.91 92.40,180.61 92.70,180.85 93.00,181.65 93.30,179.80 93.60,178.84 93.90,181.77 94.20,180.28 94.50,176.98 94.80,182.89 95.10,174.24 95.40,178.10 95.70,175.14 96.00,175.50 96.30,176.23 96.60,174.74 96.90,175.14 97.20,170.12 97.50,169.68 97.80,173.67 98.10,169.88 98.40,169.14 98.70,167.60 99.00,172.74 99.30,171.05 99.60,171.97 99.90,166.30 100.20,167.67 100.50,164.66 100.80,168.06 101.10,169.19 101.40,163.37 101.70,167.92 102.00,166.11 102.30,163.06 102.60,158.68 102.90,165.17 103.20,161.41 103.50,159.74 103.80,161.24 104.10,160.58 104.40,162.01 104.70,155.87 105.00,159.55 105.30,159.44 105.60,158.52 105.90,154.24 106.20,152.20 106.50,155.06 106.80,152.31 107.10,151.48 107.40,153.36 107.70,148.96 108.00,143.84 108.30,147.00 108.60,143.07 108.90,147.84 109.20,145.93 109.50,143.13 109.80,143.55 110.10,144.41 110.40,141.82 110.70,143.44 111.00,139.51 111.30,140.82 111.60,140.76 111.90,140.00 112.20,134.20 112.50,136.45 112.80,129.66 113.10,130.32 113.40,127.46 113.70,132.82 114.00,126.98 114.30,128.54 114.60,127.15 114.90,126.49 115.20,124.30 115.50,125.03 115.80,127.29 116.10,122.61 116.40,122.63 116.70,122.61 117.00,119.08 117.30,115.27 117.60,115.16 117.90,117.00 118.20,109.70 118.50,110.32 118.80,112.10 119.10,110.06 119.40,106.83 119.70,106.92 120.00,103.99 120.30,99.58 120.60,97.38 120.90,98.32 121.20,100.60 121.50,96.48 121.80,94.77 122.10,94.05 122.40,91.45 122.70,93.42 123.00,90.19 123.30,92.43 123.60,85.71 123.90,90.36 124.20,87.32 124.50,83.59 124.80,88.19 125.10,85.09 125.40,79.98 125.70,81.83 126.00,83.28 126.30,80.70 126.60,82.30 126.90,81.24 127.20,80.07 127.50,78.35 127.80,79.47 128.10,77.05 128.40,75.59 128.70,69.19 129.00,74.38 129.30,74.17 129.60,69.73 129.90,68.29 130.20,72.28 130.50,63.44 130.80,67.05 131.10,70.08 131.40,61.97 131.70,64.29 132.00,65.73 132.30,60.44 132.60,60.80 132.90,60.45 133.20,55.58 133.50,56.22 133.80,55.95 134.10,55.99 134.40,53.12 134.70,51.70 135.00,49.07 135.30,49.85 135.60,51.87 135.90,49.61 136.20,47.01 136.50,46.43 136.80,53.20 137.10,49.39 137.40,47.74 137.70,40.35 138.00,46.51 138.30,45.61 138.60,47.54 138.90,44.30 139.20,42.66 139.50,43.30 139.80,38.70 140.10,46.14 140.40,45.83 140.70,44.85 141.00,50.29 141.30,52.48 141.60,46.92 141.90,49.64 142.20,52.83 142.50,53.79 142.80,53.75 143.10,53.72 143.40,61.39 143.70,60.30 144.00,56.79 144.30,57.54 144.60,65.01 144.90,64.58 145.20,67.40 145.50,66.34 145.80,63.88 146.10,67.32 146.40,63.31 146.70,67.34 147.00,69.86 147.30,72.15 147.60,70.59 147.90,72.93 148.20,75.22 148.50,76.11 148.80,77.73 149.10,77.90 149.40,77.85 149.70,81.25 150.00,80.77 150.30,80.00 150.60,81.49 150.90,83.71 151.20,84.39 151.50,85.85 151.80,86.43 152.10,87.71 152.40,87.96 152.70,86.51 153.00,90.95 153.30,93.18 153.60,92.79 153.90,92.39 154.20,94.63 154.50,92.57 154.80,91.53 155.10,96.54 155.40,95.37 155.70,99.78 156.00,96.86 156.30,94.53 156.60,98.77 156.90,105.18 157.20,101.97 157.50,100.80 157.80,102.98 158.10,106.59 158.40,107.44 158.70,107.67 159.00,111.32 159.30,110.58 159.60,109.96 159.90,112.15 160.20,115.27 160.50,114.74 160.80,115.75 161.10,112.23 161.40,114.98 161.70,117.56 162.00,116.14 162.30,119.74 162.60,119.48 162.90,120.87 163.20,119.26 163.50,125.78 163.80,123.78 164.10,121.46 164.40,122.83 164.70,128.83 165.00,123.39 165.30,126.68 165.60,127.64 165.90,126.33 166.20,124.60 166.50,128.34 166.80,129.68 167.10,132.27 167.40,132.52 167.70,131.90 168.00,134.62 168.30,134.93 168.60,135.19 168.90,135.83 169.20,136.15 169.50,139.06 169.80,136.36 170.10,138.21 170.40,140.50 170.70,138.37 171.00,141.48 171.30,139.13 171.60,142.87 171.90,146.45 172.20,147.40 172.50,147.06 172.80,147.64 173.10,146.10 173.40,153.87 173.70,152.07 174.00,154.24 174.30,151.05 174.60,153.41 174.90,150.88 175.20,157.24 175.50,158.46 175.80,153.42 176.10,158.19 176.40,160.52 176.70,156.40 177.00,157.17 177.30,159.66 177.60,161.48 177.90,160.75 178.20,164.67 178.50,166.02 178.80,167.73 179.10,168.63 179.40,170.76 179.70,170.51 180.00,165.77 180.30,167.92 180.60,167.21 180.90,167.63 181.20,170.18 181.50,170.81 181.80,172.29 182.10,168.38 182.40,169.57 182.70,172.58 183.00,172.66 183.30,172.89 183.60,173.86 183.90,172.95 184.20,176.75 184.50,176.75 184.80,176.55 185.10,176.06 185.40,177.83 185.70,173.22 186.00,177.60 186.30,180.47 186.60,177.97 186.90,182.28 187.20,182.90 187.50,180.43 187.80,183.52 188.10,184.12 188.40,186.48 188.70,186.98 189.00,184.72 189.30,182.11 189.60,182.70 189.90,181.96 190.20,182.74 190.50,180.92 190.80,177.88 191.10,175.66 191.40,176.82 191.70,175.15 192.00,173.47 192.30,174.66 192.60,172.97 192.90,173.32 193.20,173.30 193.50,170.58 193.80,175.64 194.10,169.40 194.40,171.71 194.70,168.97 195.00,170.37 195.30,162.36 195.60,165.09 195.90,166.50 196.20,166.56 196.50,169.52 196.80,164.61 197.10,165.94 197.40,164.18 197.70,163.87 198.00,162.27 198.30,160.29 198.60,161.10 198.90,157.18 199.20,161.35 199.50,156.14 199.80,158.22 200.10,161.57 200.40,156.06 200.70,155.99 201.00,157.80 201.30,154.83 201.60,152.50 201.90,154.09 202.20,154.08 202.50,153.67 202.80,149.87 203.10,154.49 203.40,153.63 203.70,149.49 204.00,149.33 204.30,147.18 204.60,150.37 204.90,145.23 205.20,147.45 205.50,144.34 205.80,143.21 206.10,145.49 206.40,146.10 206.70,142.49 207.00,140.29 207.30,142.63 207.60,140.03 207.90,139.99 208.20,141.75 208.50,140.13 208.80,135.88 209.10,140.97 209.40,135.39 209.70,136.24 210.00,132.44 210.30,132.96 210.60,128.64 210.90,135.32 211.20,133.69 211.50,127.53 211.80,126.18 212.10,125.19 212.40,130.32 212.70,126.14 213.00,126.24 213.30,124.96 213.60,124.62 213.90,121.85 214.20,123.44 214.50,119.62 214.80,121.75 215.10,120.95 215.40,119.69 215.70,116.63 216.00,113.62 216.30,114.26 216.60,111.31 216.90,114.02 217.20,110.75 217.50,107.30 217.80,104.96 218.10,102.87 218.40,100.79 218.70,100.42 219.00,100.18 219.30,99.35 219.60,98.76 219.90,101.26 220.20,94.67 220.50,95.48 220.80,100.61 221.10,90.12 221.40,92.24 221.70,92.99 222.00,92.25 222.30,92.08 222.60,90.02 222.90,90.59 223.20,89.23 223.50,90.03 223.80,83.73 224.10,85.15 224.40,86.30 224.70,83.43 225.00,82.70 225.30,85.51 225.60,82.12 225.90,84.11 226.20,83.64 226.50,82.02 226.80,81.74 227.10,79.58 227.40,75.65 227.70,77.36 228.00,77.18 228.30,73.93 228.60,73.64 228.90,74.23 229.20,69.62 229.50,71.62 229.80,73.00 230.10,66.73 230.40,67.01 230.70,65.20 231.00,67.56 231.30,63.79 231.60,63.82 231.90,59.30 232.20,59.52 232.50,58.35 232.80,53.45 233.10,59.01 233.40,56.68 233.70,50.01 234.00,54.29 234.30,51.50 234.60,51.76 234.90,50.63 235.20,45.76 235.50,47.51 235.80,50.13 236.10,44.84 236.40,42.94 236.70,41.28 237.00,40.62 237.30,42.93 237.60,44.83 237.90,41.22 238.20,41.34 238.50,46.74 238.80,42.19 239.10,43.10 239.40,46.86 239.70,48.13 240.00,46.08 240.30,46.99 240.60,51.29 240.90,52.43 241.20,50.40 241.50,53.95 241.80,54.46 242.10,57.80 242.40,57.82 242.70,59.12 243.00,59.39 243.30,63.18 243.60,64.72 243.90,61.86 244.20,65.24 244.50,62.70 244.80,65.27 245.10,67.53 245.40,69.97 245.70,66.81 246.00,68.29 246.30,69.69 246.60,66.97 246.90,70.98 247.20,70.36 247.50,73.39 247.80,71.07 248.10,70.12 248.40,75.18 248.70,76.48 249.00,75.62 249.30,79.47 249.60,78.08 249.90,78.43 250.20,81.75 250.50,78.51 250.80,81.43 251.10,83.86 251.40,86.73 251.70,85.66 252.00,87.70 252.30,86.72 252.60,89.78 252.90,93.69 253.20,89.81 253.50,97.27 253.80,92.00 254.10,94.44 254.40,95.81 254.70,98.65 255.00,94.95 255.30,94.19 255.60,100.92 255.90,102.26 256.20,102.79 256.50,107.89 256.80,103.69 257.10,104.68 257.40,106.99 257.70,106.70 258.00,110.31 258.30,105.10 258.60,107.80 258.90,102.25 259.20,112.07 259.50,110.47 259.80,114.09 260.10,117.56 260.40,113.91 260.70,114.28 261.00,114.65 261.30,114.70 261.60,115.89 261.90,119.31 262.20,118.80 262.50,119.62 262.80,119.87 263.10,122.91 263.40,122.78 263.70,122.20 264.00,124.65 264.30,123.69 264.60,122.35 264.90,128.58 265.20,127.26 265.50,125.03 265.80,130.06 266.10,129.27 266.40,126.19 266.70,133.86 267.00,132.19 267.30,134.37 267.60,133.92 267.90,134.20 268.20,132.27 268.50,138.57 268.80,137.60 269.10,137.94 269.40,140.29 269.70,140.72 270.00,142.98 270.30,141.79 270.60,143.50 270.90,140.10 271.20,144.71 271.50,148.02 271.80,150.42 272.10,147.85 272.40,149.37 272.70,153.96 273.00,150.96 273.30,154.19 273.60,157.18 273.90,154.75 274.20,158.08 274.50,154.76 274.80,157.44 275.10,157.59 275.40,158.74 275.70,161.62 276.00,165.02 276.30,159.35 276.60,160.29 276.90,163.13 277.20,160.46 277.50,164.31 277.80,165.06 278.10,163.86 278.40,166.15 278.70,162.37 279.00,167.81 279.30,163.56 279.60,164.73 279.90,164.41 280.20,164.12 280.50,166.16 280.80,163.91 281.10,162.30 281.40,163.66 281.70,165.23 282.00,161.82 282.30,163.48 282.60,166.23 282.90,165.10 283.20,162.75 283.50,171.59 283.80,171.91 284.10,164.02 284.40,169.01 284.70,170.58 285.00,172.18 285.30,172.00 285.60,170.48 285.90,169.29 286.20,172.17 286.50,174.57 286.80,170.56 287.10,171.14 287.40,172.15 287.70,167.03" fill="none" stroke="#f7922e" stroke-width="1.6" stroke-linejoin="round"/>
<line x1="38.5" y1="8.0" x2="288.1" y2="8.0" stroke="#3a3a3a" stroke-width="1.15"/>
<line x1="38.5" y1="209.0" x2="288.1" y2="209.0" stroke="#3a3a3a" stroke-width="1.15"/>
<line x1="38.5" y1="7.5" x2="38.5" y2="209.0" stroke="#bf98ea" stroke-width="1.1"/>
<line x1="288.1" y1="7.5" x2="288.1" y2="209.5" stroke="#f7922e" stroke-width="1.1"/>
<line x1="63.46" y1="209.00" x2="63.46" y2="206.50" stroke="#111" stroke-width="1"/>
<line x1="88.42" y1="209.00" x2="88.42" y2="205.00" stroke="#111" stroke-width="1"/>
<line x1="113.38" y1="209.00" x2="113.38" y2="206.50" stroke="#111" stroke-width="1"/>
<line x1="138.34" y1="209.00" x2="138.34" y2="205.00" stroke="#111" stroke-width="1"/>
<line x1="163.30" y1="209.00" x2="163.30" y2="206.50" stroke="#111" stroke-width="1"/>
<line x1="188.26" y1="209.00" x2="188.26" y2="205.00" stroke="#111" stroke-width="1"/>
<line x1="213.22" y1="209.00" x2="213.22" y2="206.50" stroke="#111" stroke-width="1"/>
<line x1="238.18" y1="209.00" x2="238.18" y2="205.00" stroke="#111" stroke-width="1"/>
<line x1="263.14" y1="209.00" x2="263.14" y2="206.50" stroke="#111" stroke-width="1"/>
<line x1="38.50" y1="183.88" x2="41.00" y2="183.88" stroke="#bf98ea" stroke-width="1"/>
<line x1="38.50" y1="158.75" x2="42.50" y2="158.75" stroke="#bf98ea" stroke-width="1"/>
<line x1="38.50" y1="133.62" x2="41.00" y2="133.62" stroke="#bf98ea" stroke-width="1"/>
<line x1="38.50" y1="108.50" x2="42.50" y2="108.50" stroke="#bf98ea" stroke-width="1"/>
<line x1="38.50" y1="83.38" x2="41.00" y2="83.38" stroke="#bf98ea" stroke-width="1"/>
<line x1="38.50" y1="58.25" x2="42.50" y2="58.25" stroke="#bf98ea" stroke-width="1"/>
<line x1="38.50" y1="33.12" x2="41.00" y2="33.12" stroke="#bf98ea" stroke-width="1"/>
<line x1="288.10" y1="209.00" x2="284.10" y2="209.00" stroke="#f7922e" stroke-width="1"/>
<line x1="288.10" y1="188.90" x2="285.60" y2="188.90" stroke="#f7922e" stroke-width="1"/>
<line x1="288.10" y1="168.80" x2="284.10" y2="168.80" stroke="#f7922e" stroke-width="1"/>
<line x1="288.10" y1="148.70" x2="285.60" y2="148.70" stroke="#f7922e" stroke-width="1"/>
<line x1="288.10" y1="128.60" x2="284.10" y2="128.60" stroke="#f7922e" stroke-width="1"/>
<line x1="288.10" y1="108.50" x2="285.60" y2="108.50" stroke="#f7922e" stroke-width="1"/>
<line x1="288.10" y1="88.40" x2="284.10" y2="88.40" stroke="#f7922e" stroke-width="1"/>
<line x1="288.10" y1="68.30" x2="285.60" y2="68.30" stroke="#f7922e" stroke-width="1"/>
<line x1="288.10" y1="48.20" x2="284.10" y2="48.20" stroke="#f7922e" stroke-width="1"/>
<line x1="288.10" y1="28.10" x2="285.60" y2="28.10" stroke="#f7922e" stroke-width="1"/>
<line x1="288.10" y1="8.00" x2="284.10" y2="8.00" stroke="#f7922e" stroke-width="1"/>
<text x="38.50" y="221.3" font-size="10.3" text-anchor="middle" fill="#111">0</text>
<text x="88.42" y="221.3" font-size="10.3" text-anchor="middle" fill="#111">100</text>
<text x="138.34" y="221.3" font-size="10.3" text-anchor="middle" fill="#111">200</text>
<text x="188.26" y="221.3" font-size="10.3" text-anchor="middle" fill="#111">300</text>
<text x="238.18" y="221.3" font-size="10.3" text-anchor="middle" fill="#111">400</text>
<text x="288.10" y="221.3" font-size="10.3" text-anchor="middle" fill="#111">500</text>
<text x="34.6" y="212.70" font-size="10.4" text-anchor="end" fill="#c49cea">300</text>
<text x="34.6" y="162.45" font-size="10.4" text-anchor="end" fill="#c49cea">350</text>
<text x="34.6" y="112.20" font-size="10.4" text-anchor="end" fill="#c49cea">400</text>
<text x="34.6" y="61.95" font-size="10.4" text-anchor="end" fill="#c49cea">450</text>
<text x="34.6" y="11.70" font-size="10.4" text-anchor="end" fill="#c49cea">500</text>
<text x="292.5" y="212.35" font-size="10.4" fill="#f7922e">31500</text>
<text x="292.5" y="172.15" font-size="10.4" fill="#f7922e">32000</text>
<text x="292.5" y="131.95" font-size="10.4" fill="#f7922e">32500</text>
<text x="292.5" y="91.75" font-size="10.4" fill="#f7922e">33000</text>
<text x="292.5" y="51.55" font-size="10.4" fill="#f7922e">33500</text>
<text x="292.5" y="11.35" font-size="10.4" fill="#f7922e">34000</text>
<text x="163.6" y="240.9" font-size="13.6" text-anchor="middle" fill="#111">Time (ns)</text>
<text transform="translate(9.8,108.5) rotate(-90)" font-size="13.6" text-anchor="middle" fill="#c49cea">Temperature (K)</text>
<text transform="translate(335.8,106.4) rotate(-90)" font-size="13.4" text-anchor="middle" fill="#f7922e">Proper Dih. (kJ/mol)</text>
<text transform="translate(0.2,15.8) scale(0.87,1)" font-size="21.5" fill="#000">a</text>
<text x="327" y="15.7" font-size="21.5" fill="#000">b</text>
<polyline points="376.00,4.10 436.38,74.20 496.76,4.10 557.14,74.20 617.52,4.10 677.90,74.20" fill="none" stroke="#bf98ea" stroke-width="1.15" />
<polyline points="376.30,124.67 377.50,124.27 378.70,124.24 379.90,123.50 381.10,123.10 382.30,122.94 383.50,122.72 384.70,122.20 385.90,122.14 387.10,122.11 388.30,121.97 389.50,121.86 390.70,120.70 391.90,120.31 393.10,119.00 394.30,119.95 395.50,118.44 396.70,117.86 397.90,117.19 399.10,115.66 400.30,115.43 401.50,114.39 402.70,113.15 403.90,113.28 405.10,112.98 406.30,111.22 407.50,110.68 408.70,108.99 409.90,107.60 411.10,106.01 412.30,104.21 413.50,101.59 414.70,99.88 415.90,97.40 417.10,95.97 418.30,93.90 419.50,93.19 420.70,92.89 421.90,91.48 423.10,90.32 424.30,89.02 425.50,88.19 426.70,87.58 427.90,86.88 429.10,85.75 430.30,85.04 431.50,84.26 432.70,84.16 433.90,82.96 435.10,82.16 436.30,81.84 437.50,80.73 438.70,81.32 439.90,82.44 441.10,83.78 442.30,85.32 443.50,85.98 444.70,86.14 445.90,87.43 447.10,88.05 448.30,88.35 449.50,89.96 450.70,90.59 451.90,91.57 453.10,92.96 454.30,94.13 455.50,94.40 456.70,95.66 457.90,96.06 459.10,98.04 460.30,97.92 461.50,99.38 462.70,99.60 463.90,101.15 465.10,103.05 466.30,102.79 467.50,104.93 468.70,106.67 469.90,107.86 471.10,109.42 472.30,112.52 473.50,113.91 474.70,115.42 475.90,117.40 477.10,117.10 478.30,118.70 479.50,118.70 480.70,119.55 481.90,120.54 483.10,120.57 484.30,120.44 485.50,120.73 486.70,122.13 487.90,122.37 489.10,122.22 490.30,123.21 491.50,123.47 492.70,123.68 493.90,122.82 495.10,123.66 496.30,124.23 497.50,124.33 498.70,124.42 499.90,122.74 501.10,123.14 502.30,122.74 503.50,122.94 504.70,121.20 505.90,120.90 507.10,120.51 508.30,120.47 509.50,119.92 510.70,120.39 511.90,119.62 513.10,119.90 514.30,119.53 515.50,119.68 516.70,119.30 517.90,118.54 519.10,118.80 520.30,117.64 521.50,115.89 522.70,114.71 523.90,113.54 525.10,111.40 526.30,110.17 527.50,108.73 528.70,107.05 529.90,105.08 531.10,102.80 532.30,102.54 533.50,101.01 534.70,99.70 535.90,98.40 537.10,97.39 538.30,95.95 539.50,94.68 540.70,93.78 541.90,92.84 543.10,91.84 544.30,90.65 545.50,90.29 546.70,88.50 547.90,88.06 549.10,86.34 550.30,85.69 551.50,84.91 552.70,83.37 553.90,82.91 555.10,83.04 556.30,82.99 557.50,82.81 558.70,83.68 559.90,84.42 561.10,84.68 562.30,85.43 563.50,86.46 564.70,87.28 565.90,88.14 567.10,88.83 568.30,89.33 569.50,90.09 570.70,90.49 571.90,90.95 573.10,91.48 574.30,91.42 575.50,92.38 576.70,93.21 577.90,93.78 579.10,95.01 580.30,96.09 581.50,96.75 582.70,98.43 583.90,97.89 585.10,99.93 586.30,100.56 587.50,102.74 588.70,105.45 589.90,106.07 591.10,109.42 592.30,111.98 593.50,113.01 594.70,114.53 595.90,114.76 597.10,117.07 598.30,118.11 599.50,119.15 600.70,119.39 601.90,120.28 603.10,120.35 604.30,121.03 605.50,121.06 606.70,120.75 607.90,121.81 609.10,122.19 610.30,122.67 611.50,122.40 612.70,123.00 613.90,123.54 615.10,123.68 616.30,124.37 617.50,124.94 618.70,123.97 619.90,123.38 621.10,124.13 622.30,124.13 623.50,123.69 624.70,123.42 625.90,122.69 627.10,122.43 628.30,122.61 629.50,121.53 630.70,120.76 631.90,120.59 633.10,121.36 634.30,120.71 635.50,119.35 636.70,118.88 637.90,118.49 639.10,117.39 640.30,117.36 641.50,116.12 642.70,115.02 643.90,115.10 645.10,113.69 646.30,113.16 647.50,111.67 648.70,110.16 649.90,108.98 651.10,107.22 652.30,105.41 653.50,103.98 654.70,103.31 655.90,102.50 657.10,101.76 658.30,100.79 659.50,99.97 660.70,98.74 661.90,97.22 663.10,96.05 664.30,94.36 665.50,93.84 666.70,92.87 667.90,91.54 669.10,89.86 670.30,88.40 671.50,87.34 672.70,85.57 673.90,84.56 675.10,83.30 676.30,81.97 677.50,81.16" fill="none" stroke="#f7922e" stroke-width="1.25" stroke-linejoin="round"/>
<polyline points="376.30,139.28 377.50,139.31 378.70,139.21 379.90,139.19 381.10,139.65 382.30,139.68 383.50,139.32 384.70,139.41 385.90,139.52 387.10,139.43 388.30,139.50 389.50,138.99 390.70,139.10 391.90,139.31 393.10,139.49 394.30,139.14 395.50,138.85 396.70,138.84 397.90,138.68 399.10,138.54 400.30,138.91 401.50,138.38 402.70,138.40 403.90,138.73 405.10,138.41 406.30,137.95 407.50,137.47 408.70,137.38 409.90,137.33 411.10,136.83 412.30,136.67 413.50,136.14 414.70,135.90 415.90,135.37 417.10,135.10 418.30,134.88 419.50,133.94 420.70,133.82 421.90,133.59 423.10,133.30 424.30,133.23 425.50,133.32 426.70,133.43 427.90,133.03 429.10,132.84 430.30,132.33 431.50,132.96 432.70,132.56 433.90,132.50 435.10,132.25 436.30,132.43 437.50,132.19 438.70,132.48 439.90,132.65 441.10,132.65 442.30,132.79 443.50,132.66 444.70,133.21 445.90,132.88 447.10,132.74 448.30,133.26 449.50,133.34 450.70,133.48 451.90,133.81 453.10,134.13 454.30,134.03 455.50,134.44 456.70,134.94 457.90,134.99 459.10,135.02 460.30,135.28 461.50,135.44 462.70,135.66 463.90,136.02 465.10,136.07 466.30,135.81 467.50,136.49 468.70,136.57 469.90,137.17 471.10,137.21 472.30,137.66 473.50,138.36 474.70,138.01 475.90,138.28 477.10,138.52 478.30,138.45 479.50,138.60 480.70,139.09 481.90,138.93 483.10,138.73 484.30,138.85 485.50,139.31 486.70,139.07 487.90,139.20 489.10,139.38 490.30,139.63 491.50,139.79 492.70,139.57 493.90,139.36 495.10,139.34 496.30,139.63 497.50,139.53 498.70,139.15 499.90,139.27 501.10,139.20 502.30,139.12 503.50,138.98 504.70,138.78 505.90,138.91 507.10,138.67 508.30,139.20 509.50,139.03 510.70,138.66 511.90,139.18 513.10,139.08 514.30,138.52 515.50,139.27 516.70,139.06 517.90,139.31 519.10,138.65 520.30,138.95 521.50,138.69 522.70,138.41 523.90,138.17 525.10,138.11 526.30,137.36 527.50,137.18 528.70,136.91 529.90,136.84 531.10,136.60 532.30,136.56 533.50,136.30 534.70,136.02 535.90,135.64 537.10,135.45 538.30,135.49 539.50,135.22 540.70,134.85 541.90,134.53 543.10,134.67 544.30,134.05 545.50,134.12 546.70,134.05 547.90,133.59 549.10,133.63 550.30,133.07 551.50,133.32 552.70,132.98 553.90,132.44 555.10,132.74 556.30,132.53 557.50,133.07 558.70,132.78 559.90,132.99 561.10,133.18 562.30,133.16 563.50,133.38 564.70,133.32 565.90,133.67 567.10,133.65 568.30,133.85 569.50,133.41 570.70,134.35 571.90,134.27 573.10,134.07 574.30,134.60 575.50,134.82 576.70,135.10 577.90,134.82 579.10,135.50 580.30,135.32 581.50,136.04 582.70,135.78 583.90,136.18 585.10,136.22 586.30,136.31 587.50,136.99 588.70,137.20 589.90,137.57 591.10,137.63 592.30,137.54 593.50,137.52 594.70,137.92 595.90,138.11 597.10,138.27 598.30,138.75 599.50,138.89 600.70,138.97 601.90,139.24 603.10,139.19 604.30,139.27 605.50,139.40 606.70,139.45 607.90,139.14 609.10,138.99 610.30,139.59 611.50,139.34 612.70,139.55 613.90,139.02 615.10,139.30 616.30,139.38 617.50,139.10 618.70,139.28 619.90,139.50 621.10,139.54 622.30,139.61 623.50,139.08 624.70,138.94 625.90,139.30 627.10,139.35 628.30,139.17 629.50,138.83 630.70,139.22 631.90,139.19 633.10,139.11 634.30,138.87 635.50,139.00 636.70,139.06 637.90,138.70 639.10,138.35 640.30,138.69 641.50,138.63 642.70,138.44 643.90,138.52 645.10,138.13 646.30,138.14 647.50,138.00 648.70,138.08 649.90,138.19 651.10,137.70 652.30,137.96 653.50,137.65 654.70,137.29 655.90,137.05 657.10,137.08 658.30,136.49 659.50,136.30 660.70,135.90 661.90,136.01 663.10,135.98 664.30,135.61 665.50,135.43 666.70,135.21 667.90,135.18 669.10,134.75 670.30,135.15 671.50,134.75 672.70,134.51 673.90,134.48 675.10,134.36 676.30,134.59 677.50,134.53" fill="none" stroke="#2db4d0" stroke-width="1.25" stroke-linejoin="round"/>
<polyline points="376.30,153.15 377.50,154.01 378.70,154.05 379.90,153.60 381.10,153.34 382.30,153.66 383.50,153.75 384.70,154.05 385.90,153.68 387.10,152.98 388.30,153.65 389.50,152.91 390.70,153.65 391.90,152.83 393.10,152.96 394.30,152.84 395.50,152.89 396.70,153.48 397.90,153.26 399.10,153.12 400.30,153.68 401.50,153.75 402.70,154.83 403.90,155.54 405.10,156.12 406.30,157.36 407.50,157.64 408.70,158.37 409.90,158.97 411.10,159.34 412.30,161.03 413.50,162.16 414.70,162.63 415.90,163.10 417.10,163.37 418.30,165.25 419.50,166.29 420.70,166.35 421.90,166.96 423.10,167.55 424.30,167.81 425.50,167.65 426.70,168.51 427.90,168.71 429.10,168.19 430.30,168.88 431.50,168.81 432.70,169.56 433.90,170.25 435.10,170.19 436.30,170.36 437.50,172.05 438.70,172.25 439.90,172.21 441.10,170.62 442.30,170.84 443.50,170.59 444.70,169.95 445.90,168.94 447.10,168.90 448.30,168.55 449.50,168.74 450.70,168.55 451.90,168.01 453.10,167.20 454.30,167.64 455.50,166.92 456.70,167.01 457.90,166.58 459.10,166.76 460.30,166.30 461.50,165.27 462.70,164.75 463.90,164.44 465.10,162.83 466.30,162.36 467.50,161.82 468.70,161.08 469.90,160.11 471.10,158.75 472.30,158.06 473.50,157.60 474.70,156.48 475.90,156.06 477.10,153.69 478.30,154.08 479.50,154.06 480.70,153.32 481.90,153.74 483.10,154.20 484.30,154.09 485.50,154.32 486.70,154.65 487.90,154.30 489.10,154.83 490.30,154.54 491.50,154.66 492.70,155.13 493.90,154.83 495.10,155.22 496.30,155.74 497.50,154.99 498.70,154.72 499.90,154.82 501.10,154.23 502.30,154.53 503.50,153.50 504.70,153.95 505.90,153.42 507.10,153.32 508.30,154.22 509.50,153.30 510.70,154.21 511.90,153.83 513.10,154.11 514.30,153.26 515.50,154.21 516.70,154.67 517.90,154.50 519.10,154.87 520.30,156.09 521.50,155.41 522.70,155.32 523.90,155.37 525.10,155.87 526.30,155.95 527.50,156.41 528.70,158.03 529.90,158.40 531.10,159.76 532.30,161.18 533.50,161.40 534.70,162.82 535.90,163.55 537.10,162.88 538.30,163.42 539.50,163.88 540.70,164.05 541.90,165.30 543.10,164.94 544.30,166.23 545.50,167.05 546.70,166.45 547.90,167.39 549.10,167.31 550.30,168.73 551.50,168.79 552.70,169.56 553.90,170.27 555.10,170.97 556.30,170.43 557.50,170.33 558.70,169.90 559.90,169.99 561.10,169.85 562.30,170.59 563.50,170.19 564.70,170.75 565.90,170.87 567.10,169.51 568.30,168.32 569.50,168.13 570.70,166.98 571.90,166.37 573.10,166.81 574.30,167.45 575.50,167.44 576.70,167.40 577.90,167.23 579.10,166.76 580.30,166.82 581.50,165.64 582.70,164.43 583.90,163.57 585.10,163.55 586.30,164.62 587.50,163.07 588.70,162.29 589.90,160.94 591.10,159.36 592.30,157.87 593.50,156.04 594.70,155.71 595.90,156.32 597.10,155.11 598.30,155.32 599.50,154.08 600.70,154.23 601.90,154.10 603.10,154.42 604.30,153.71 605.50,154.37 606.70,154.34 607.90,154.00 609.10,154.48 610.30,154.05 611.50,154.14 612.70,154.46 613.90,153.52 615.10,154.32 616.30,153.91 617.50,153.65 618.70,153.91 619.90,154.22 621.10,153.71 622.30,154.19 623.50,153.24 624.70,153.08 625.90,153.98 627.10,153.47 628.30,153.76 629.50,153.34 630.70,154.10 631.90,154.11 633.10,154.44 634.30,154.41 635.50,155.02 636.70,154.57 637.90,154.65 639.10,154.67 640.30,155.73 641.50,155.20 642.70,155.23 643.90,155.41 645.10,155.72 646.30,155.57 647.50,156.05 648.70,156.07 649.90,156.29 651.10,156.62 652.30,157.44 653.50,157.75 654.70,158.42 655.90,158.99 657.10,159.62 658.30,159.33 659.50,160.51 660.70,161.02 661.90,162.17 663.10,161.95 664.30,162.85 665.50,163.52 666.70,163.96 667.90,164.88 669.10,164.83 670.30,165.77 671.50,165.37 672.70,165.70 673.90,167.21 675.10,167.64 676.30,168.45 677.50,169.11" fill="none" stroke="#f7922e" stroke-width="1.25" stroke-linejoin="round"/>
<polyline points="376.30,201.27 377.50,200.86 378.70,201.22 379.90,200.85 381.10,201.08 382.30,200.83 383.50,200.35 384.70,200.42 385.90,200.83 387.10,200.50 388.30,200.38 389.50,200.44 390.70,200.23 391.90,200.28 393.10,200.52 394.30,200.64 395.50,201.03 396.70,200.85 397.90,201.34 399.10,201.44 400.30,201.53 401.50,201.58 402.70,201.57 403.90,201.75 405.10,201.88 406.30,201.94 407.50,202.26 408.70,202.32 409.90,202.96 411.10,202.96 412.30,202.99 413.50,202.91 414.70,203.50 415.90,203.65 417.10,203.74 418.30,203.94 419.50,203.91 420.70,204.61 421.90,204.63 423.10,205.30 424.30,204.91 425.50,205.03 426.70,205.49 427.90,205.37 429.10,205.40 430.30,205.24 431.50,205.15 432.70,205.52 433.90,205.37 435.10,205.46 436.30,204.99 437.50,205.02 438.70,204.79 439.90,205.13 441.10,204.61 442.30,204.97 443.50,205.04 444.70,205.06 445.90,204.55 447.10,204.92 448.30,204.51 449.50,204.45 450.70,204.28 451.90,204.72 453.10,204.77 454.30,204.27 455.50,204.19 456.70,204.19 457.90,204.58 459.10,204.11 460.30,203.62 461.50,203.20 462.70,203.25 463.90,203.45 465.10,203.41 466.30,202.81 467.50,202.55 468.70,202.40 469.90,201.93 471.10,202.29 472.30,201.70 473.50,201.94 474.70,201.19 475.90,201.08 477.10,201.20 478.30,200.79 479.50,200.90 480.70,200.74 481.90,200.55 483.10,200.97 484.30,201.06 485.50,200.56 486.70,201.36 487.90,201.15 489.10,201.25 490.30,200.78 491.50,201.06 492.70,201.08 493.90,201.31 495.10,200.75 496.30,200.82 497.50,200.54 498.70,200.84 499.90,200.91 501.10,200.45 502.30,200.62 503.50,200.80 504.70,201.02 505.90,200.83 507.10,200.64 508.30,200.46 509.50,200.51 510.70,200.57 511.90,200.73 513.10,200.69 514.30,201.03 515.50,200.82 516.70,200.66 517.90,201.30 519.10,201.30 520.30,201.24 521.50,201.15 522.70,200.99 523.90,201.23 525.10,201.69 526.30,201.42 527.50,201.38 528.70,201.76 529.90,201.84 531.10,201.99 532.30,202.15 533.50,202.55 534.70,202.35 535.90,202.96 537.10,202.81 538.30,203.39 539.50,203.54 540.70,203.79 541.90,204.19 543.10,204.23 544.30,204.65 545.50,204.76 546.70,204.78 547.90,204.81 549.10,204.94 550.30,205.15 551.50,205.38 552.70,205.58 553.90,206.34 555.10,206.02 556.30,206.00 557.50,205.62 558.70,205.60 559.90,205.63 561.10,205.68 562.30,205.38 563.50,205.86 564.70,205.37 565.90,205.65 567.10,204.87 568.30,205.15 569.50,205.02 570.70,204.82 571.90,204.72 573.10,204.47 574.30,204.26 575.50,203.67 576.70,203.72 577.90,203.21 579.10,203.62 580.30,203.39 581.50,203.11 582.70,202.81 583.90,202.68 585.10,203.00 586.30,202.80 587.50,202.27 588.70,202.36 589.90,201.61 591.10,201.41 592.30,201.58 593.50,201.38 594.70,201.32 595.90,201.34 597.10,201.79 598.30,200.93 599.50,200.95 600.70,200.87 601.90,200.70 603.10,200.94 604.30,201.16 605.50,200.61 606.70,200.94 607.90,200.91 609.10,201.08 610.30,200.76 611.50,200.76 612.70,200.70 613.90,201.29 615.10,201.19 616.30,201.13 617.50,200.60 618.70,200.97 619.90,200.85 621.10,200.68 622.30,200.75 623.50,201.03 624.70,200.97 625.90,200.82 627.10,200.89 628.30,200.63 629.50,200.72 630.70,200.75 631.90,200.90 633.10,200.83 634.30,200.86 635.50,200.92 636.70,200.87 637.90,201.49 639.10,201.20 640.30,201.23 641.50,201.66 642.70,201.55 643.90,201.03 645.10,201.55 646.30,201.65 647.50,201.94 648.70,201.89 649.90,201.86 651.10,201.54 652.30,201.67 653.50,202.00 654.70,202.22 655.90,202.09 657.10,202.39 658.30,202.56 659.50,202.83 660.70,203.06 661.90,203.11 663.10,203.09 664.30,203.76 665.50,203.98 666.70,203.78 667.90,204.13 669.10,204.15 670.30,204.32 671.50,204.42 672.70,204.30 673.90,204.70 675.10,204.92 676.30,204.67 677.50,205.37" fill="none" stroke="#2db4d0" stroke-width="1.25" stroke-linejoin="round"/>
<line x1="376.0" y1="4.1" x2="677.9" y2="4.1" stroke="#777" stroke-width="1.2"/>
<line x1="376.0" y1="74.2" x2="677.9" y2="74.2" stroke="#222" stroke-width="1.1"/>
<line x1="376.0" y1="144.3" x2="677.9" y2="144.3" stroke="#222" stroke-width="1.1"/>
<line x1="376.0" y1="214.4" x2="677.9" y2="214.4" stroke="#222" stroke-width="1.1"/>
<line x1="376.0" y1="3.5" x2="376.0" y2="214.9" stroke="#444" stroke-width="1.2"/>
<line x1="677.9" y1="3.5" x2="677.9" y2="214.9" stroke="#444" stroke-width="1.2"/>
<line x1="406.19" y1="74.20" x2="406.19" y2="71.70" stroke="#222" stroke-width="1"/>
<line x1="436.38" y1="74.20" x2="436.38" y2="70.20" stroke="#222" stroke-width="1"/>
<line x1="466.57" y1="74.20" x2="466.57" y2="71.70" stroke="#222" stroke-width="1"/>
<line x1="496.76" y1="74.20" x2="496.76" y2="70.20" stroke="#222" stroke-width="1"/>
<line x1="526.95" y1="74.20" x2="526.95" y2="71.70" stroke="#222" stroke-width="1"/>
<line x1="557.14" y1="74.20" x2="557.14" y2="70.20" stroke="#222" stroke-width="1"/>
<line x1="587.33" y1="74.20" x2="587.33" y2="71.70" stroke="#222" stroke-width="1"/>
<line x1="617.52" y1="74.20" x2="617.52" y2="70.20" stroke="#222" stroke-width="1"/>
<line x1="647.71" y1="74.20" x2="647.71" y2="71.70" stroke="#222" stroke-width="1"/>
<line x1="406.19" y1="144.30" x2="406.19" y2="141.80" stroke="#222" stroke-width="1"/>
<line x1="436.38" y1="144.30" x2="436.38" y2="140.30" stroke="#222" stroke-width="1"/>
<line x1="466.57" y1="144.30" x2="466.57" y2="141.80" stroke="#222" stroke-width="1"/>
<line x1="496.76" y1="144.30" x2="496.76" y2="140.30" stroke="#222" stroke-width="1"/>
<line x1="526.95" y1="144.30" x2="526.95" y2="141.80" stroke="#222" stroke-width="1"/>
<line x1="557.14" y1="144.30" x2="557.14" y2="140.30" stroke="#222" stroke-width="1"/>
<line x1="587.33" y1="144.30" x2="587.33" y2="141.80" stroke="#222" stroke-width="1"/>
<line x1="617.52" y1="144.30" x2="617.52" y2="140.30" stroke="#222" stroke-width="1"/>
<line x1="647.71" y1="144.30" x2="647.71" y2="141.80" stroke="#222" stroke-width="1"/>
<line x1="406.19" y1="214.40" x2="406.19" y2="211.90" stroke="#222" stroke-width="1"/>
<line x1="436.38" y1="214.40" x2="436.38" y2="210.40" stroke="#222" stroke-width="1"/>
<line x1="466.57" y1="214.40" x2="466.57" y2="211.90" stroke="#222" stroke-width="1"/>
<line x1="496.76" y1="214.40" x2="496.76" y2="210.40" stroke="#222" stroke-width="1"/>
<line x1="526.95" y1="214.40" x2="526.95" y2="211.90" stroke="#222" stroke-width="1"/>
<line x1="557.14" y1="214.40" x2="557.14" y2="210.40" stroke="#222" stroke-width="1"/>
<line x1="587.33" y1="214.40" x2="587.33" y2="211.90" stroke="#222" stroke-width="1"/>
<line x1="617.52" y1="214.40" x2="617.52" y2="210.40" stroke="#222" stroke-width="1"/>
<line x1="647.71" y1="214.40" x2="647.71" y2="211.90" stroke="#222" stroke-width="1"/>
<line x1="376.00" y1="65.44" x2="378.20" y2="65.44" stroke="#222" stroke-width="1"/>
<line x1="376.00" y1="56.68" x2="380.00" y2="56.68" stroke="#222" stroke-width="1"/>
<line x1="376.00" y1="47.91" x2="378.20" y2="47.91" stroke="#222" stroke-width="1"/>
<line x1="376.00" y1="39.15" x2="380.00" y2="39.15" stroke="#222" stroke-width="1"/>
<line x1="376.00" y1="30.39" x2="378.20" y2="30.39" stroke="#222" stroke-width="1"/>
<line x1="376.00" y1="21.62" x2="380.00" y2="21.62" stroke="#222" stroke-width="1"/>
<line x1="376.00" y1="12.86" x2="378.20" y2="12.86" stroke="#222" stroke-width="1"/>
<line x1="376.00" y1="134.95" x2="378.20" y2="134.95" stroke="#222" stroke-width="1"/>
<line x1="376.00" y1="125.61" x2="380.00" y2="125.61" stroke="#222" stroke-width="1"/>
<line x1="376.00" y1="116.26" x2="378.20" y2="116.26" stroke="#222" stroke-width="1"/>
<line x1="376.00" y1="106.91" x2="380.00" y2="106.91" stroke="#222" stroke-width="1"/>
<line x1="376.00" y1="97.57" x2="378.20" y2="97.57" stroke="#222" stroke-width="1"/>
<line x1="376.00" y1="88.22" x2="380.00" y2="88.22" stroke="#222" stroke-width="1"/>
<line x1="376.00" y1="78.87" x2="378.20" y2="78.87" stroke="#222" stroke-width="1"/>
<line x1="376.00" y1="203.78" x2="380.00" y2="203.78" stroke="#222" stroke-width="1"/>
<line x1="376.00" y1="193.16" x2="378.20" y2="193.16" stroke="#222" stroke-width="1"/>
<line x1="376.00" y1="182.54" x2="380.00" y2="182.54" stroke="#222" stroke-width="1"/>
<line x1="376.00" y1="171.92" x2="378.20" y2="171.92" stroke="#222" stroke-width="1"/>
<line x1="376.00" y1="161.29" x2="380.00" y2="161.29" stroke="#222" stroke-width="1"/>
<line x1="376.00" y1="150.67" x2="378.20" y2="150.67" stroke="#222" stroke-width="1"/>
<text x="371.4" y="77.25" font-size="8.5" text-anchor="end" fill="#111">300</text>
<text x="371.4" y="59.73" font-size="8.5" text-anchor="end" fill="#111">350</text>
<text x="371.4" y="42.20" font-size="8.5" text-anchor="end" fill="#111">400</text>
<text x="371.4" y="24.68" font-size="8.5" text-anchor="end" fill="#111">450</text>
<text x="371.4" y="7.15" font-size="8.5" text-anchor="end" fill="#111">500</text>
<text x="371.4" y="147.35" font-size="8.5" text-anchor="end" fill="#111">0</text>
<text x="371.4" y="128.66" font-size="8.5" text-anchor="end" fill="#111">4</text>
<text x="371.4" y="109.96" font-size="8.5" text-anchor="end" fill="#111">8</text>
<text x="371.4" y="91.27" font-size="8.5" text-anchor="end" fill="#111">12</text>
<text x="371.4" y="206.83" font-size="8.5" text-anchor="end" fill="#111">1</text>
<text x="371.4" y="185.59" font-size="8.5" text-anchor="end" fill="#111">2</text>
<text x="371.4" y="164.34" font-size="8.5" text-anchor="end" fill="#111">3</text>
<text x="376.00" y="225.9" font-size="8.5" text-anchor="middle" fill="#111">0</text>
<text x="436.38" y="225.9" font-size="8.5" text-anchor="middle" fill="#111">100</text>
<text x="496.76" y="225.9" font-size="8.5" text-anchor="middle" fill="#111">200</text>
<text x="557.14" y="225.9" font-size="8.5" text-anchor="middle" fill="#111">300</text>
<text x="617.52" y="225.9" font-size="8.5" text-anchor="middle" fill="#111">400</text>
<text x="677.90" y="225.9" font-size="8.5" text-anchor="middle" fill="#111">500</text>
<text x="526.9" y="244.6" font-size="13.8" text-anchor="middle" fill="#111">Time (ns)</text>
<text transform="translate(352,38.5) rotate(-90)" font-size="10.8" text-anchor="middle" fill="#111">Temperature (K)</text>
<text transform="translate(352.5,112.4) rotate(-90)" font-size="10.8" text-anchor="middle" fill="#111">Fraction (%)</text>
<text transform="translate(352.5,179.3) rotate(-90)" font-size="10.8" text-anchor="middle" fill="#111">Fraction (%)</text>
<line x1="590.8" y1="82.4" x2="614.8" y2="82.4" stroke="#f7922e" stroke-width="1.3"/>
<text x="618.3" y="86.1" font-size="10.6" fill="#f7922e">&#946;@VDF</text>
<line x1="590.8" y1="95.4" x2="614.8" y2="95.4" stroke="#2db4d0" stroke-width="1.3"/>
<text x="618.3" y="99.1" font-size="10.6" fill="#2db4d0">&#946;@TrFE</text>
<line x1="593.6" y1="174.3" x2="617.0" y2="174.3" stroke="#f7922e" stroke-width="1.3"/>
<text x="620.9" y="178.0" font-size="10.6" fill="#f7922e">&#945;@VDF</text>
<line x1="593.6" y1="187.4" x2="617.0" y2="187.4" stroke="#2db4d0" stroke-width="1.3"/>
<text x="620.9" y="191.1" font-size="10.6" fill="#2db4d0">&#945;@TrFE</text>
<text x="345.5" y="263.6" font-size="20.5" fill="#000">d</text>
<text x="0.0" y="263.6" font-size="21.5" fill="#000">c</text>
</svg>
</body></html>
